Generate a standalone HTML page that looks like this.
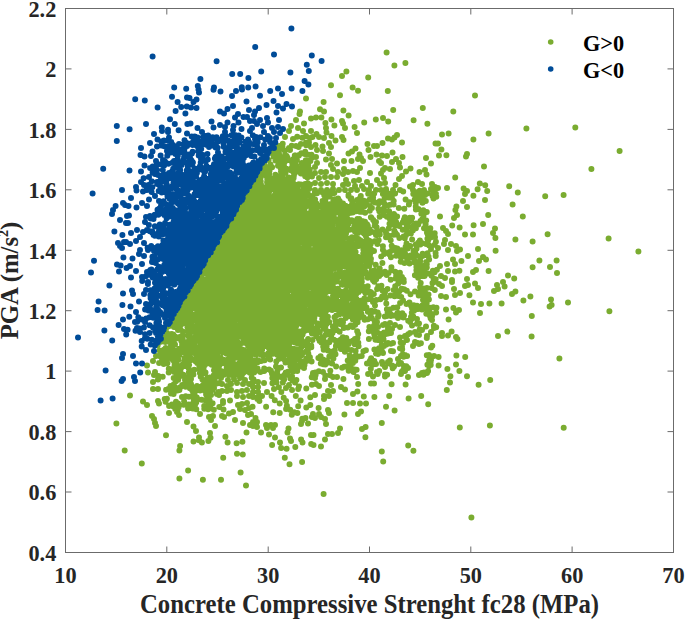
<!DOCTYPE html>
<html><head><meta charset="utf-8"><style>
html,body{margin:0;padding:0;background:#fff;}
svg{display:block;}
text{-webkit-font-smoothing:antialiased;}
text{font-family:"Liberation Serif",serif;font-weight:bold;}
</style></head><body>
<svg width="685" height="620" viewBox="0 0 685 620">
<rect width="685" height="620" fill="#fff"/>
<path d="M259.6 184.3h0M349.9 239.4h0M238.4 370.3h0M224.7 360.1h0M297.3 309.6h0M253.7 287.5h0M310.7 261.5h0M251.1 330.7h0M305.6 330.4h0M248.5 242.1h0M233.5 298.1h0M289.4 334.1h0M244.3 316.0h0M247.5 367.3h0M306.0 252.9h0M173.0 349.9h0M284.5 299.9h0M216.5 288.9h0M208.5 312.7h0M228.2 287.2h0M188.6 330.9h0M174.0 327.1h0M259.8 307.8h0M283.8 248.1h0M238.3 327.5h0M295.4 217.6h0M334.5 263.9h0M244.1 195.4h0M208.5 264.4h0M281.1 230.2h0M274.1 257.6h0M339.2 231.1h0M207.2 297.9h0M265.8 308.3h0M294.1 265.5h0M364.1 260.0h0M301.6 309.1h0M285.0 299.1h0M327.3 285.7h0M181.7 305.5h0M300.6 288.3h0M299.7 207.0h0M281.1 174.6h0M241.4 368.2h0M229.9 345.1h0M256.2 201.1h0M280.8 220.0h0M205.1 301.7h0M299.4 299.2h0M250.5 247.6h0M291.5 181.3h0M338.1 305.6h0M299.9 207.8h0M245.9 276.8h0M301.9 163.1h0M289.5 228.4h0M198.2 302.5h0M352.7 209.2h0M356.6 299.2h0M238.1 299.2h0M273.8 301.8h0M307.4 286.9h0M286.4 334.5h0M212.2 312.0h0M277.5 249.6h0M256.3 245.5h0M244.3 217.8h0M283.9 201.1h0M278.3 238.7h0M251.3 242.7h0M243.1 277.5h0M227.1 311.3h0M245.1 242.8h0M176.5 356.1h0M359.5 284.9h0M228.6 369.6h0M358.6 302.8h0M208.1 360.0h0M299.2 289.2h0M207.6 264.2h0M235.3 352.1h0M338.8 256.5h0M258.8 177.3h0M324.4 254.5h0M279.7 192.1h0M176.0 312.7h0M314.6 254.8h0M298.0 231.7h0M295.2 264.5h0M358.4 239.0h0M315.8 264.2h0M332.4 210.8h0M250.1 278.0h0M227.0 250.9h0M251.3 274.3h0M274.4 291.6h0M252.6 324.9h0M272.5 212.4h0M297.9 258.4h0M218.0 346.9h0M311.5 274.5h0M208.3 324.5h0M283.8 262.8h0M289.0 248.5h0M296.5 262.8h0M295.2 162.4h0M270.9 204.6h0M269.0 326.0h0M246.7 327.2h0M212.1 257.7h0M265.8 201.1h0M300.9 256.1h0M316.4 305.9h0M278.3 335.1h0M229.4 288.8h0M246.7 299.1h0M284.0 307.1h0M258.3 272.2h0M298.1 238.7h0M222.6 302.5h0M277.1 271.8h0M206.8 340.4h0M357.5 265.0h0M260.3 193.7h0M189.9 303.3h0M257.9 338.6h0M171.1 334.9h0M290.5 243.7h0M295.3 270.6h0M277.8 184.7h0M330.7 288.8h0M289.7 349.6h0M275.0 194.9h0M268.1 287.6h0M280.3 189.8h0M301.9 269.3h0M201.6 270.0h0M314.2 272.7h0M226.0 281.7h0M282.3 175.6h0M225.4 228.2h0M307.0 287.8h0M229.0 281.6h0M263.3 303.6h0M270.2 325.7h0M215.0 287.1h0M172.9 319.6h0M201.5 312.5h0M316.9 254.4h0M255.7 239.5h0M240.5 236.0h0M267.4 269.9h0M277.9 285.7h0M297.5 201.2h0M243.2 292.8h0M329.9 285.6h0M231.2 321.7h0M307.0 283.6h0M308.1 339.0h0M232.9 241.0h0M310.2 239.5h0M315.2 214.4h0M219.3 272.4h0M300.1 275.8h0M282.6 261.9h0M222.6 288.3h0M292.4 269.2h0M256.3 298.1h0M188.6 303.5h0M349.4 311.1h0M281.1 219.4h0M189.9 358.7h0M230.3 248.2h0M215.4 243.9h0M275.2 276.7h0M268.4 244.9h0M260.3 302.2h0M289.9 254.4h0M243.8 200.5h0M345.8 290.4h0M267.3 214.1h0M277.3 288.2h0M295.1 256.8h0M280.2 229.1h0M239.4 238.8h0M280.7 255.9h0M227.4 283.5h0M276.2 181.1h0M216.7 268.3h0M276.1 212.8h0M225.5 255.3h0M243.0 335.1h0M234.0 327.4h0M267.5 242.9h0M284.7 189.6h0M184.3 323.0h0M280.4 269.6h0M270.3 257.7h0M190.7 353.3h0M289.1 311.0h0M254.8 215.5h0M269.0 317.7h0M211.2 287.4h0M255.1 231.8h0M254.4 301.2h0M318.4 236.8h0M266.0 280.7h0M211.6 265.1h0M271.6 334.1h0M354.0 293.9h0M248.2 362.9h0M301.2 347.5h0M246.2 243.7h0M322.1 225.5h0M254.7 211.9h0M356.0 225.1h0M235.2 229.3h0M354.3 277.1h0M270.2 259.5h0M252.3 271.4h0M218.4 248.1h0M332.3 299.9h0M243.6 329.9h0M287.6 291.9h0M282.8 215.1h0M242.4 368.7h0M294.5 251.9h0M367.7 286.2h0M190.2 357.2h0M297.3 279.6h0M259.2 233.5h0M327.9 252.0h0M249.2 271.7h0M272.1 317.6h0M288.3 264.1h0M281.3 272.3h0M289.1 337.1h0M249.8 296.0h0M278.9 281.7h0M311.7 269.7h0M292.2 256.3h0M223.5 258.5h0M221.2 332.8h0M250.8 249.7h0M330.3 214.1h0M284.4 248.3h0M222.6 352.6h0M265.3 166.8h0M274.7 283.2h0M251.2 264.1h0M287.7 211.1h0M223.9 264.7h0M287.1 274.6h0M226.8 251.0h0M282.3 196.5h0M281.6 339.7h0M287.2 303.4h0M282.9 253.3h0M295.3 300.7h0M244.0 215.3h0M208.6 304.7h0M254.8 200.7h0M311.3 210.6h0M254.6 258.1h0M300.1 331.6h0M250.2 295.4h0M231.1 332.5h0M239.6 272.3h0M326.7 290.8h0M264.8 276.7h0M254.8 247.1h0M177.7 312.4h0M268.5 286.1h0M188.1 328.0h0M265.2 345.9h0M252.3 301.3h0M310.8 294.5h0M215.5 261.9h0M245.8 262.8h0M291.6 271.2h0M211.9 294.2h0M239.7 273.6h0M172.9 359.9h0M235.4 314.4h0M325.8 243.4h0M230.1 239.6h0M267.2 175.8h0M334.9 256.8h0M360.8 267.7h0M228.8 234.0h0M212.6 331.0h0M288.5 306.0h0M234.4 342.3h0M237.7 327.4h0M275.3 273.2h0M245.0 294.8h0M297.4 300.1h0M256.2 286.4h0M308.7 246.6h0M266.8 282.4h0M244.9 291.0h0M308.1 164.2h0M213.2 281.4h0M305.9 227.9h0M308.9 237.2h0M171.4 334.0h0M361.3 275.4h0M272.7 198.2h0M253.2 224.7h0M313.9 275.8h0M263.5 285.5h0M335.5 281.7h0M186.1 359.4h0M231.1 276.3h0M250.5 256.9h0M279.1 340.6h0M212.6 257.2h0M281.7 317.5h0M220.8 321.2h0M236.9 354.5h0M347.1 245.0h0M271.8 250.7h0M232.5 246.6h0M344.3 279.3h0M309.7 195.6h0M236.7 335.1h0M273.8 224.1h0M197.0 296.4h0M197.7 300.8h0M207.8 313.0h0M281.5 234.7h0M277.4 257.4h0M310.0 326.2h0M313.7 255.9h0M268.9 328.5h0M334.1 235.8h0M250.0 327.4h0M290.1 199.5h0M255.1 331.0h0M367.7 232.4h0M210.3 335.2h0M299.5 295.3h0M354.2 205.4h0M317.5 283.1h0M210.2 315.2h0M269.7 167.6h0M255.7 197.6h0M291.2 288.1h0M204.8 304.9h0M291.9 300.2h0M280.7 327.1h0M337.5 201.4h0M180.5 314.3h0M222.8 273.6h0M267.2 223.0h0M332.1 260.1h0M337.3 242.1h0M260.2 249.6h0M243.8 300.1h0M337.6 241.6h0M358.7 226.7h0M256.7 235.6h0M299.4 273.0h0M290.8 327.3h0M267.8 316.7h0M296.3 282.7h0M169.1 325.9h0M268.3 290.6h0M202.3 278.4h0M245.9 364.8h0M273.2 309.5h0M247.8 350.9h0M354.2 306.3h0M276.9 208.2h0M241.0 349.0h0M199.5 272.2h0M312.4 304.5h0M297.9 238.6h0M313.7 294.1h0M329.8 282.4h0M274.4 272.3h0M290.8 265.1h0M284.6 244.7h0M220.7 292.9h0M317.3 313.2h0M264.7 201.0h0M236.9 225.7h0M300.7 292.5h0M186.5 299.2h0M296.8 260.7h0M280.9 274.2h0M177.3 325.9h0M261.1 307.5h0M246.8 326.9h0M374.7 225.7h0M272.7 280.2h0M279.4 214.7h0M355.4 285.5h0M322.3 270.4h0M178.4 359.7h0M170.3 357.8h0M341.5 219.8h0M194.7 351.8h0M245.5 294.1h0M255.2 198.1h0M243.9 316.0h0M294.3 212.8h0M290.0 208.8h0M228.4 350.9h0M273.5 272.3h0M233.8 301.3h0M289.8 284.8h0M250.7 253.1h0M217.3 334.2h0M282.2 351.7h0M226.8 279.6h0M278.2 210.5h0M371.0 299.1h0M249.9 275.3h0M284.2 308.6h0M348.5 270.1h0M243.1 291.2h0M332.5 193.3h0M269.7 239.8h0M370.0 206.1h0M318.4 277.6h0M315.5 292.3h0M263.6 330.4h0M230.3 312.7h0M204.1 271.5h0M273.4 250.4h0M239.8 309.9h0M232.5 314.6h0M305.5 205.7h0M237.6 312.3h0M364.1 287.1h0M245.3 316.0h0M204.3 309.8h0M284.3 307.7h0M267.1 193.7h0M281.0 171.6h0M253.6 278.6h0M318.2 283.9h0M321.2 231.8h0M234.1 272.8h0M286.4 216.7h0M258.0 338.3h0M193.5 345.4h0M305.2 325.5h0M203.8 270.6h0M226.5 274.8h0M249.1 262.9h0M223.3 313.8h0M213.6 315.1h0M223.2 243.0h0M357.8 270.7h0M247.5 283.2h0M288.7 191.8h0M305.0 185.7h0M328.3 267.8h0M262.1 349.8h0M195.7 292.6h0M222.5 293.9h0M237.2 301.5h0M262.9 355.4h0M248.3 214.5h0M246.0 282.1h0M225.5 324.1h0M201.7 281.2h0M234.0 330.7h0M220.3 284.5h0M310.5 265.8h0M283.7 287.8h0M216.3 334.2h0M201.4 317.0h0M228.1 362.2h0M328.3 273.4h0M265.7 242.5h0M273.1 245.3h0M236.6 278.1h0M271.9 247.0h0M209.9 296.5h0M222.3 301.3h0M359.9 203.7h0M272.3 280.0h0M260.1 282.3h0M221.4 286.5h0M269.8 306.2h0M362.0 275.3h0M292.5 249.4h0M257.4 278.4h0M306.4 266.6h0M194.6 341.4h0M278.3 228.0h0M207.3 262.6h0M185.5 321.0h0M190.7 297.1h0M341.8 259.3h0M237.6 270.6h0M208.8 303.4h0M255.5 271.9h0M233.2 269.5h0M327.0 275.0h0M248.7 271.2h0M304.0 266.2h0M276.1 328.9h0M235.2 301.8h0M307.2 287.1h0M275.1 290.6h0M201.5 317.6h0M305.3 190.9h0M346.1 311.3h0M227.7 342.0h0M289.8 242.3h0M244.9 265.0h0M292.3 238.2h0M289.3 315.3h0M262.4 333.4h0M192.4 341.5h0M266.6 171.3h0M303.1 220.0h0M291.7 329.9h0M292.4 299.4h0M274.9 311.1h0M334.4 221.7h0M260.9 174.9h0M275.3 208.7h0M278.7 244.9h0M282.2 318.8h0M263.4 246.9h0M340.8 213.0h0M241.2 210.1h0M248.0 345.8h0M198.3 304.9h0M202.9 316.2h0M275.6 284.6h0M296.9 242.4h0M371.5 270.9h0M325.3 256.8h0M273.6 234.7h0M263.2 317.0h0M254.1 275.3h0M343.3 276.1h0M217.8 298.9h0M294.3 329.7h0M251.9 247.3h0M274.3 225.0h0M217.8 248.9h0M275.2 335.7h0M276.8 269.4h0M301.0 184.5h0M287.4 232.6h0M273.9 301.5h0M254.2 298.5h0M366.1 264.5h0M298.8 316.2h0M278.4 299.0h0M231.6 256.7h0M240.5 230.5h0M351.9 282.8h0M182.5 303.0h0M319.0 304.6h0M283.5 192.9h0M263.6 231.6h0M228.7 325.1h0M291.1 204.2h0M251.1 202.8h0M280.9 188.8h0M283.0 292.3h0M196.2 289.1h0M359.1 257.9h0M198.5 287.9h0M323.0 231.3h0M283.8 205.6h0M208.9 317.4h0M261.1 171.8h0M193.3 302.0h0M262.9 270.1h0M302.5 285.3h0M244.8 340.6h0M219.5 269.7h0M320.1 205.4h0M263.4 327.5h0M245.9 286.4h0M264.2 221.0h0M313.3 234.8h0M320.5 281.3h0M309.7 202.4h0M332.5 304.6h0M260.8 297.0h0M285.7 205.6h0M357.6 259.3h0M323.9 242.2h0M246.3 209.9h0M247.8 297.5h0M292.7 268.0h0M354.7 231.2h0M241.9 350.6h0M300.0 206.3h0M256.9 289.6h0M202.0 340.4h0M248.4 303.4h0M274.2 296.9h0M250.1 211.2h0M293.8 191.5h0M180.9 320.3h0M271.2 347.9h0M232.0 216.2h0M292.8 181.8h0M270.1 229.8h0M310.7 281.8h0M287.3 314.1h0M285.7 270.7h0M219.5 337.4h0M236.7 247.8h0M220.7 241.4h0M282.0 270.8h0M246.7 267.6h0M189.2 316.0h0M205.2 292.0h0M267.2 216.7h0M262.5 220.3h0M252.8 351.1h0M265.6 271.1h0M234.9 353.2h0M294.1 173.1h0M297.2 353.7h0M261.1 219.6h0M317.3 247.2h0M253.6 320.0h0M236.8 252.1h0M266.9 243.0h0M197.1 362.9h0M180.3 320.3h0M275.9 291.7h0M368.0 232.7h0M253.7 220.8h0M335.0 200.1h0M189.0 340.8h0M365.3 258.3h0M229.9 278.7h0M189.8 300.2h0M298.2 267.6h0M292.8 191.2h0M270.5 286.9h0M258.5 267.3h0M263.3 283.0h0M255.8 213.3h0M244.4 297.7h0M265.8 212.1h0M272.5 234.3h0M215.3 295.3h0M284.5 278.2h0M249.5 219.6h0M290.9 331.8h0M246.9 267.3h0M251.1 332.6h0M271.6 199.8h0M256.6 178.4h0M229.4 325.5h0M235.8 339.4h0M303.5 298.8h0M283.4 298.4h0M312.5 250.2h0M197.8 302.8h0M272.7 323.1h0M234.6 270.0h0M223.7 342.7h0M276.8 222.9h0M370.6 297.6h0M214.2 341.9h0M214.2 249.3h0M309.0 270.1h0M295.3 184.7h0M333.3 301.0h0M272.8 154.1h0M236.5 263.0h0M271.8 253.5h0M180.1 312.6h0M257.9 283.3h0M246.1 326.6h0M230.5 332.8h0M306.8 351.1h0M197.3 322.6h0M239.4 325.3h0M235.5 317.6h0M245.2 274.3h0M199.4 322.7h0M230.6 368.6h0M217.2 264.8h0M269.5 257.9h0M189.9 296.3h0M245.8 323.2h0M259.2 334.4h0M265.6 193.0h0M248.0 250.4h0M285.3 235.0h0M278.1 335.6h0M237.1 207.9h0M274.7 322.9h0M333.7 253.7h0M261.3 354.7h0M241.9 232.2h0M281.5 292.0h0M308.0 318.2h0M326.3 234.8h0M318.6 206.3h0M299.5 215.8h0M224.8 349.4h0M298.5 264.9h0M286.1 329.8h0M228.4 361.0h0M249.4 263.9h0M240.6 290.2h0M272.9 245.2h0M230.8 299.7h0M295.4 228.5h0M239.4 255.4h0M293.3 295.1h0M250.2 372.1h0M261.9 191.5h0M228.2 304.5h0M268.3 186.0h0M271.1 233.1h0M309.3 228.4h0M245.3 314.6h0M209.4 298.9h0M359.9 211.8h0M205.1 309.7h0M224.3 242.2h0M295.0 207.2h0M288.7 213.0h0M315.3 247.3h0M323.0 278.4h0M235.4 305.8h0M233.0 245.6h0M311.8 214.7h0M283.3 338.7h0M265.0 341.2h0M239.3 373.7h0M284.0 261.6h0M309.4 318.0h0M247.1 260.3h0M218.5 289.7h0M234.1 300.7h0M190.5 340.8h0M242.4 291.0h0M223.1 255.9h0M194.5 338.7h0M278.0 277.1h0M257.3 186.0h0M187.4 326.9h0M254.5 312.9h0M281.4 171.3h0M290.5 231.0h0M286.8 205.3h0M214.1 248.9h0M280.7 291.5h0M306.9 233.3h0M237.5 228.1h0M299.9 338.5h0M203.8 347.9h0M317.6 290.9h0M309.1 275.1h0M221.8 281.5h0M261.9 269.5h0M292.1 316.9h0M321.5 277.2h0M259.0 249.5h0M310.6 231.9h0M299.9 199.3h0M233.6 285.5h0M274.8 246.0h0M256.5 268.9h0M293.1 296.9h0M313.7 299.4h0M294.4 336.5h0M249.2 255.3h0M299.8 294.6h0M364.4 298.5h0M254.4 351.9h0M254.2 338.0h0M368.4 256.4h0M279.7 165.5h0M307.1 216.8h0M210.7 265.3h0M297.4 306.9h0M247.1 289.6h0M227.3 276.7h0M207.1 321.3h0M279.1 198.4h0M252.5 236.0h0M231.8 235.5h0M285.9 160.3h0M305.2 322.5h0M257.8 311.6h0M235.3 289.5h0M204.1 290.9h0M249.9 198.2h0M204.4 313.7h0M249.9 301.6h0M241.9 329.3h0M231.4 219.6h0M245.9 330.3h0M248.2 240.5h0M253.9 315.8h0M337.8 263.6h0M254.9 268.2h0M244.9 297.0h0M249.5 249.1h0M274.2 268.7h0M261.5 193.0h0M329.6 259.9h0M322.3 213.7h0M239.1 271.5h0M339.0 301.7h0M268.7 309.5h0M334.7 280.4h0M238.0 229.4h0M246.6 241.9h0M204.3 317.1h0M247.7 279.5h0M266.5 242.8h0M306.7 317.4h0M262.8 257.5h0M287.5 326.0h0M210.0 336.4h0M311.8 255.6h0M299.1 227.8h0M249.1 269.5h0M229.9 290.9h0M238.7 280.0h0M247.4 214.4h0M224.8 298.4h0M312.3 243.6h0M235.3 245.7h0M236.9 225.0h0M273.9 284.1h0M347.0 308.9h0M302.5 265.8h0M311.4 250.0h0M352.3 268.5h0M208.6 337.1h0M279.2 326.1h0M356.5 276.3h0M343.6 232.8h0M250.8 267.7h0M276.1 296.4h0M216.2 273.0h0M217.2 251.2h0M257.9 321.2h0M165.4 340.8h0M300.8 214.2h0M224.2 298.6h0M334.3 210.8h0M261.7 289.6h0M232.8 339.2h0M239.1 295.4h0M303.6 197.5h0M353.8 263.3h0M350.5 240.5h0M194.1 350.1h0M256.0 303.3h0M219.5 258.5h0M304.6 190.3h0M237.0 246.9h0M299.5 261.3h0M195.5 278.0h0M265.3 275.9h0M269.1 186.7h0M196.9 310.3h0M238.3 273.0h0M228.2 273.4h0M333.7 215.5h0M323.5 309.3h0M188.1 306.7h0M301.6 355.2h0M227.4 241.1h0M332.3 215.9h0M288.6 336.9h0M234.4 313.3h0M301.1 307.9h0M234.8 303.6h0M363.3 258.4h0M344.7 250.9h0M230.2 283.6h0M319.1 238.3h0M300.3 312.7h0M368.2 193.8h0M313.7 220.5h0M196.2 335.3h0M270.6 217.7h0M240.2 322.8h0M297.3 199.5h0M203.8 345.9h0M228.0 295.9h0M274.5 294.4h0M303.0 205.4h0M271.2 235.0h0M201.6 315.9h0M366.4 292.4h0M285.6 340.3h0M257.2 286.7h0M308.7 348.2h0M273.6 285.5h0M283.6 272.8h0M282.3 213.7h0M204.1 264.2h0M273.2 252.4h0M362.2 221.0h0M289.9 331.9h0M194.9 326.6h0M295.5 296.1h0M332.8 283.0h0M281.5 204.6h0M188.1 352.7h0M346.1 229.6h0M214.1 330.8h0M299.0 292.8h0M305.6 195.8h0M282.2 327.2h0M269.1 262.8h0M279.6 309.7h0M299.3 310.3h0M304.7 154.1h0M254.7 314.6h0M272.1 340.0h0M216.0 282.4h0M273.1 344.3h0M335.3 309.0h0M230.8 308.5h0M226.1 262.8h0M266.7 325.2h0M224.1 308.4h0M287.3 193.1h0M278.3 238.7h0M281.3 295.0h0M312.5 283.6h0M259.7 214.3h0M267.2 280.0h0M254.6 304.2h0M261.0 223.8h0M228.8 271.5h0M258.1 283.0h0M230.8 284.2h0M349.3 308.1h0M248.6 312.3h0M342.6 284.8h0M275.2 258.9h0M219.8 238.3h0M267.1 297.2h0M331.0 217.0h0M272.9 246.9h0M319.2 295.5h0M286.6 221.0h0M231.3 373.0h0M244.9 269.5h0M234.1 281.3h0M244.8 353.3h0M251.4 186.5h0M216.4 304.1h0M195.1 287.8h0M272.5 221.6h0M228.6 238.8h0M197.1 313.0h0M291.6 255.1h0M280.7 309.0h0M227.1 281.6h0M280.6 272.8h0M268.3 276.7h0M266.3 234.2h0M230.6 312.3h0M284.4 244.0h0M240.6 271.1h0M304.1 262.2h0M272.9 337.2h0M258.5 346.2h0M256.7 300.5h0M256.5 302.9h0M202.2 373.9h0M274.6 288.3h0M253.1 182.9h0M232.6 316.8h0M305.0 198.9h0M238.1 275.7h0M289.7 265.4h0M228.9 258.9h0M229.7 302.7h0M370.9 258.8h0M300.5 300.5h0M286.9 226.4h0M297.0 283.7h0M286.6 156.0h0M344.7 274.1h0M310.4 259.0h0M238.3 237.0h0M363.9 200.7h0M221.6 371.3h0M262.0 265.4h0M239.0 330.1h0M232.4 321.9h0M299.7 247.9h0M301.6 283.1h0M199.4 280.4h0M365.6 272.3h0M231.6 297.6h0M272.2 245.8h0M351.0 212.7h0M296.4 349.2h0M336.1 219.3h0M328.8 279.0h0M270.4 230.0h0M297.0 240.2h0M319.0 277.6h0M251.3 309.6h0M199.3 369.0h0M363.4 249.6h0M282.1 270.1h0M214.3 272.8h0M278.7 248.0h0M332.8 233.4h0M219.1 260.7h0M307.4 177.4h0M245.4 279.3h0M230.4 338.0h0M299.4 318.4h0M292.5 266.9h0M243.8 271.2h0M262.6 280.4h0M196.7 284.0h0M227.5 285.0h0M371.0 292.3h0M254.5 312.7h0M294.4 289.7h0M223.6 320.3h0M182.7 338.9h0M230.3 322.2h0M295.3 231.1h0M262.4 253.0h0M200.2 307.8h0M170.6 324.0h0M323.8 237.2h0M244.6 265.6h0M272.3 257.8h0M224.7 290.8h0M229.4 257.9h0M220.9 304.9h0M230.0 332.6h0M239.1 255.8h0M248.4 233.8h0M218.2 246.6h0M252.1 206.9h0M274.7 245.0h0M243.9 278.4h0M266.6 226.8h0M263.6 279.9h0M213.5 280.5h0M327.6 272.5h0M196.2 355.3h0M349.8 245.7h0M251.3 240.2h0M287.8 201.4h0M232.2 289.8h0M265.1 342.2h0M274.5 264.3h0M245.8 287.7h0M293.4 213.1h0M198.3 278.6h0M207.3 316.9h0M280.8 159.6h0M257.7 287.2h0M247.3 242.3h0M231.9 332.0h0M272.8 272.5h0M271.8 312.5h0M247.7 242.5h0M269.1 297.6h0M283.1 328.8h0M288.6 202.2h0M276.3 274.0h0M297.4 304.8h0M238.0 352.9h0M191.9 289.7h0M241.4 258.1h0M231.0 306.6h0M310.8 305.5h0M240.4 306.3h0M374.5 221.9h0M329.9 194.5h0M275.7 324.4h0M278.0 320.0h0M350.7 274.0h0M266.3 338.6h0M201.5 360.2h0M208.1 264.5h0M271.0 312.3h0M322.1 295.1h0M260.8 188.8h0M278.9 278.4h0M264.4 241.8h0M216.2 255.7h0M279.4 296.6h0M214.9 260.1h0M293.0 255.5h0M228.0 242.6h0M332.1 305.4h0M313.7 213.7h0M211.5 309.9h0M303.2 268.7h0M201.3 330.6h0M254.2 325.8h0M260.5 195.4h0M238.7 270.1h0M344.5 252.2h0M291.9 214.3h0M239.0 220.8h0M216.3 249.6h0M251.3 281.7h0M313.3 235.0h0M228.8 369.2h0M332.7 284.1h0M260.9 184.3h0M207.6 353.3h0M170.3 351.3h0M242.4 266.6h0M274.4 251.6h0M357.3 221.1h0M251.4 259.7h0M273.2 254.9h0M235.9 253.9h0M236.0 240.1h0M296.6 221.6h0M277.7 225.5h0M333.4 264.9h0M314.7 303.2h0M346.7 226.6h0M225.6 301.2h0M249.7 228.3h0M243.9 281.2h0M232.6 336.0h0M299.9 287.0h0M252.3 228.7h0M255.4 214.8h0M361.4 313.8h0M254.7 272.8h0M257.4 199.7h0M273.6 302.7h0M281.8 292.2h0M255.8 320.2h0M333.5 292.6h0M243.0 199.0h0M299.3 308.1h0M239.5 362.8h0M280.6 241.3h0M290.6 281.0h0M316.8 275.8h0M312.1 300.6h0M215.8 276.3h0M286.4 238.1h0M270.4 261.7h0M343.5 301.4h0M353.6 208.5h0M252.9 189.3h0M301.7 226.0h0M334.1 300.1h0M249.6 289.9h0M221.7 254.7h0M253.9 287.1h0M250.9 228.5h0M281.7 278.6h0M287.7 350.9h0M188.8 333.9h0M216.2 249.9h0M289.0 259.2h0M339.2 312.9h0M251.2 354.8h0M281.4 270.0h0M263.1 285.7h0M260.1 212.6h0M247.0 284.8h0M325.2 213.5h0M238.7 256.5h0M342.1 266.1h0M263.1 200.1h0M232.0 276.4h0M250.1 241.0h0M362.7 271.3h0M256.9 255.9h0M359.7 306.4h0M214.0 370.3h0M266.3 319.5h0M221.0 267.5h0M301.5 261.4h0M273.6 222.5h0M370.6 244.2h0M174.3 339.8h0M269.6 239.9h0M338.7 260.2h0M227.2 287.2h0M231.6 225.3h0M262.4 232.5h0M296.8 316.8h0M339.9 269.7h0M265.5 331.1h0M315.2 225.1h0M199.1 277.4h0M297.2 208.7h0M272.9 151.8h0M344.2 259.6h0M241.9 274.8h0M329.7 206.3h0M223.0 267.7h0M310.7 307.5h0M289.9 230.7h0M343.3 252.8h0M328.5 286.4h0M337.5 204.6h0M301.4 352.6h0M299.9 278.4h0M268.2 259.8h0M325.6 214.5h0M246.9 222.9h0M237.6 278.8h0M273.5 332.0h0M261.1 304.3h0M275.0 239.4h0M347.9 293.7h0M263.7 265.6h0M279.8 277.9h0M317.4 304.9h0M210.9 253.6h0M259.0 347.7h0M282.5 183.1h0M218.7 325.6h0M248.2 329.6h0M293.9 212.4h0M245.1 232.5h0M249.3 193.4h0M283.4 314.8h0M205.4 340.7h0M244.2 331.6h0M221.4 259.7h0M304.0 168.0h0M307.5 219.0h0M236.7 276.4h0M329.7 283.1h0M268.8 343.6h0M302.8 322.7h0M305.9 287.0h0M179.3 354.8h0M232.3 288.1h0M191.8 327.5h0M265.5 341.8h0M264.1 226.5h0M279.7 231.7h0M337.8 234.5h0M239.6 213.0h0M284.2 263.9h0M238.7 285.7h0M223.7 276.0h0M310.8 268.6h0M213.0 319.0h0M268.6 236.5h0M214.6 304.1h0M229.6 244.3h0M268.0 194.7h0M267.7 275.7h0M260.9 320.5h0M291.9 248.5h0M307.1 165.5h0M279.3 258.4h0M243.6 205.6h0M289.4 215.4h0M231.6 268.1h0M273.9 289.6h0M274.5 234.0h0M210.0 342.9h0M200.1 286.7h0M194.0 304.6h0M280.4 320.8h0M267.8 256.8h0M263.8 215.7h0M233.1 305.2h0M224.0 374.8h0M311.6 277.8h0M244.1 231.2h0M260.3 328.4h0M213.2 251.7h0M264.5 284.4h0M242.5 206.8h0M203.5 347.8h0M245.6 267.0h0M322.5 200.9h0M229.9 223.0h0M292.1 303.9h0M277.6 317.4h0M250.3 285.3h0M289.3 206.0h0M324.7 251.3h0M200.6 325.7h0M255.9 262.6h0M244.5 242.4h0M295.9 186.3h0M213.9 348.9h0M244.6 310.3h0M284.6 290.2h0M203.6 279.8h0M224.3 287.3h0M275.7 251.2h0M267.0 304.8h0M272.7 205.0h0M280.3 325.2h0M293.9 292.2h0M261.0 253.1h0M208.0 301.4h0M288.7 241.4h0M272.5 264.5h0M312.8 213.1h0M225.3 314.0h0M293.6 275.0h0M293.9 213.1h0M343.6 252.4h0M269.5 170.7h0M272.5 243.8h0M240.3 299.0h0M234.9 300.8h0M229.7 247.4h0M324.0 233.8h0M228.7 238.5h0M235.7 262.3h0M226.5 317.2h0M243.8 283.8h0M284.4 228.7h0M239.3 304.6h0M271.9 218.2h0M284.5 162.5h0M270.9 291.2h0M272.8 328.7h0M306.5 239.4h0M291.5 195.8h0M240.1 286.3h0M280.9 331.4h0M243.3 250.0h0M284.9 294.0h0M254.9 267.5h0M278.0 165.8h0M255.6 353.2h0M285.8 221.1h0M241.1 240.3h0M282.0 190.9h0M277.4 211.7h0M225.6 335.6h0M249.8 372.7h0M293.8 289.0h0M308.7 237.6h0M324.6 258.8h0M283.7 295.3h0M303.4 236.5h0M241.5 361.8h0M249.2 187.3h0M291.6 221.8h0M163.0 361.8h0M289.5 268.7h0M208.1 289.5h0M236.9 296.5h0M262.0 315.7h0M289.8 206.5h0M298.9 333.8h0M227.6 223.7h0M236.7 228.4h0M242.1 360.2h0M195.5 361.2h0M322.0 289.8h0M363.7 222.1h0M249.9 231.0h0M290.3 338.3h0M324.9 284.4h0M241.6 262.0h0M200.6 369.1h0M271.1 338.2h0M285.7 321.8h0M306.5 351.3h0M301.7 285.2h0M286.8 330.0h0M346.8 298.4h0M217.0 355.5h0M272.7 306.5h0M285.3 293.4h0M208.3 335.0h0M253.3 284.0h0M291.9 184.5h0M290.0 150.0h0M261.4 301.4h0M370.2 254.1h0M279.3 178.7h0M234.7 227.6h0M241.9 256.0h0M241.4 206.3h0M207.6 297.6h0M302.1 315.8h0M338.1 212.6h0M346.4 264.0h0M216.7 350.7h0M277.5 271.2h0M312.7 300.4h0M284.8 242.9h0M253.2 335.4h0M243.9 268.0h0M362.0 211.8h0M287.6 324.4h0M256.9 331.2h0M302.2 238.8h0M187.1 293.8h0M253.6 293.8h0M366.5 226.6h0M199.0 282.0h0M219.1 256.4h0M288.2 314.5h0M340.2 261.5h0M269.9 219.2h0M186.6 345.5h0M180.8 329.9h0M288.7 224.2h0M223.7 279.6h0M251.7 291.4h0M301.6 333.6h0M236.9 258.3h0M227.3 324.7h0M229.0 262.4h0M283.6 287.4h0M356.2 273.5h0M190.6 294.6h0M223.0 288.0h0M232.1 326.0h0M209.3 281.1h0M220.1 263.9h0M270.8 298.9h0M223.8 266.3h0M269.0 280.7h0M289.5 283.5h0M266.7 253.7h0M160.1 356.2h0M278.9 191.7h0M244.5 258.2h0M319.8 251.3h0M181.0 311.2h0M227.1 272.2h0M283.7 165.4h0M247.3 284.6h0M339.8 234.0h0M341.6 224.1h0M271.0 296.9h0M289.9 320.3h0M196.2 287.0h0M243.9 270.7h0M306.0 279.4h0M360.7 264.9h0M322.8 310.1h0M273.1 238.6h0M267.9 326.3h0M220.6 238.1h0M263.2 336.3h0M276.5 234.3h0M218.5 247.3h0M242.0 342.9h0M283.0 271.3h0M273.3 326.8h0M271.4 232.5h0M273.4 289.3h0M243.0 256.1h0M279.5 181.3h0M286.5 254.3h0M284.7 252.8h0M255.0 256.4h0M322.0 254.8h0M235.9 269.5h0M231.5 246.8h0M218.4 258.3h0M302.0 280.2h0M297.3 258.3h0M248.7 231.3h0M315.8 267.7h0M301.0 217.1h0M352.4 294.3h0M278.4 317.2h0M245.8 219.4h0M314.0 202.3h0M282.2 160.9h0M167.1 339.1h0M283.0 234.8h0M171.9 321.4h0M268.3 297.7h0M253.0 210.8h0M309.3 272.8h0M291.2 194.4h0M348.3 266.4h0M221.7 291.0h0M255.7 277.3h0M269.8 296.5h0M299.3 242.7h0M240.7 233.8h0M196.9 336.3h0M327.3 246.9h0M235.2 304.2h0M294.6 262.5h0M236.7 286.7h0M346.0 233.6h0M315.6 234.9h0M225.5 267.0h0M223.0 246.0h0M300.9 269.1h0M241.7 317.1h0M274.8 205.9h0M270.2 198.2h0M285.0 327.7h0M204.1 327.7h0M249.0 251.4h0M310.1 329.5h0M229.1 228.2h0M173.9 316.3h0M220.6 332.9h0M313.7 225.7h0M263.5 303.2h0M224.6 264.2h0M253.0 303.7h0M295.8 327.3h0M191.8 340.7h0M264.2 201.2h0M277.7 189.1h0M271.1 241.7h0M307.8 234.1h0M298.8 349.4h0M259.4 339.7h0M319.6 219.8h0M259.4 297.9h0M330.5 273.3h0M264.1 213.4h0M277.3 354.7h0M236.9 306.9h0M353.9 278.1h0M365.0 231.5h0M256.7 179.2h0M243.0 303.9h0M228.8 341.9h0M357.7 244.0h0M273.4 292.9h0M236.1 281.4h0M295.7 289.1h0M232.1 258.5h0M278.9 152.7h0M255.0 247.5h0M247.0 249.2h0M308.5 246.4h0M229.2 375.1h0M280.5 348.1h0M299.4 266.3h0M253.3 240.4h0M278.3 278.5h0M294.3 232.5h0M278.2 299.4h0M283.2 286.4h0M269.2 190.8h0M225.2 266.7h0M212.2 308.7h0M319.4 235.5h0M233.9 346.0h0M270.8 296.3h0M263.7 242.1h0M252.8 247.7h0M259.9 332.3h0M275.1 351.5h0M308.5 300.2h0M203.7 265.3h0M218.7 337.8h0M229.0 275.4h0M304.1 311.1h0M254.8 178.8h0M251.7 322.1h0M263.3 337.5h0M274.8 194.9h0M270.1 311.7h0M225.5 237.1h0M282.2 307.6h0M237.9 296.7h0M204.0 355.6h0M208.7 291.8h0M289.8 357.8h0M311.7 297.5h0M290.2 196.1h0M216.9 259.1h0M279.8 196.4h0M327.6 227.5h0M255.7 294.7h0M276.7 217.4h0M231.7 258.8h0M329.2 204.2h0M230.7 253.9h0M296.8 248.2h0M232.8 284.9h0M218.6 315.1h0M237.9 258.0h0M279.4 331.6h0M223.0 239.7h0M260.3 196.7h0M202.0 367.5h0M271.5 291.4h0M340.8 223.6h0M337.9 288.8h0M207.0 326.2h0M235.8 225.1h0M263.0 241.8h0M254.8 283.5h0M274.8 275.4h0M259.8 213.0h0M190.4 332.8h0M330.2 253.7h0M271.0 339.0h0M312.4 270.2h0M317.2 225.7h0M293.9 191.0h0M271.0 296.5h0M216.3 272.3h0M207.9 307.7h0M330.9 264.0h0M242.2 319.4h0M266.0 255.3h0M259.5 310.8h0M245.5 269.8h0M315.1 290.7h0M204.9 268.5h0M267.8 264.6h0M296.0 168.8h0M228.0 265.0h0M223.9 245.3h0M247.7 210.5h0M350.7 270.8h0M177.2 316.7h0M250.1 203.3h0M259.5 297.7h0M289.1 286.9h0M327.2 298.2h0M242.6 234.9h0M326.9 221.2h0M220.0 261.7h0M278.6 352.0h0M321.5 266.6h0M304.6 284.2h0M252.3 272.3h0M284.9 349.9h0M249.7 284.1h0M273.8 183.7h0M279.0 317.2h0M300.7 282.2h0M268.3 196.8h0M265.5 263.9h0M260.7 323.0h0M226.9 245.7h0M253.1 329.2h0M222.5 270.7h0M204.7 373.2h0M354.3 226.4h0M215.2 317.4h0M258.0 208.7h0M340.4 220.8h0M190.6 310.3h0M264.9 333.0h0M351.7 220.2h0M298.8 184.3h0M232.9 316.1h0M322.3 275.0h0M252.3 303.4h0M249.6 197.4h0M219.2 306.4h0M269.8 324.1h0M216.5 287.6h0M366.5 257.6h0M256.7 210.0h0M332.6 237.9h0M308.9 288.1h0M230.5 227.6h0M319.5 213.0h0M339.1 273.2h0M198.6 328.7h0M319.7 233.7h0M248.1 219.1h0M300.9 257.6h0M230.0 279.1h0M325.1 273.5h0M264.3 299.0h0M197.0 307.2h0M353.2 243.9h0M253.3 264.1h0M272.3 339.1h0M296.1 160.4h0M263.5 333.0h0M243.4 257.6h0M317.1 264.3h0M342.3 215.9h0M280.5 220.0h0M250.2 282.3h0M307.8 183.3h0M255.8 274.6h0M347.6 206.7h0M239.4 261.2h0M252.0 310.9h0M257.7 207.9h0M279.0 275.7h0M271.0 243.6h0M323.4 286.9h0M209.9 293.1h0M258.8 254.0h0M264.6 200.0h0M311.2 265.5h0M266.6 240.2h0M282.8 262.6h0M356.5 257.7h0M238.3 219.5h0M267.2 234.2h0M283.9 247.2h0M234.0 325.6h0M222.7 319.8h0M254.0 297.5h0M325.7 285.4h0M266.6 195.0h0M294.5 233.0h0M266.6 318.9h0M210.4 278.2h0M272.2 206.7h0M197.9 331.6h0M288.0 351.4h0M209.4 355.2h0M253.1 298.4h0M248.0 285.8h0M331.5 307.2h0M171.3 320.8h0M312.5 208.9h0M268.1 353.6h0M263.8 187.2h0M233.1 264.7h0M187.9 309.7h0M245.3 265.6h0M237.8 231.3h0M211.4 253.0h0M271.1 337.1h0M305.2 173.6h0M291.2 186.0h0M354.1 228.7h0M353.0 290.1h0M168.5 340.7h0M251.2 272.9h0M226.8 325.1h0M228.4 256.9h0M229.3 268.3h0M248.0 257.9h0M207.5 272.9h0M283.0 267.8h0M259.8 316.6h0M297.8 216.0h0M374.2 193.5h0M208.6 289.3h0M289.6 301.9h0M210.6 347.6h0M181.9 305.7h0M260.4 240.4h0M318.4 211.8h0M366.5 307.5h0M268.8 289.1h0M234.6 252.7h0M259.8 317.0h0M325.4 258.3h0M263.8 223.1h0M215.3 277.2h0M360.2 266.4h0M279.2 340.3h0M278.8 260.6h0M269.8 271.8h0M342.0 302.1h0M259.0 314.6h0M232.2 296.9h0M257.2 246.5h0M268.1 248.8h0M339.1 293.7h0M207.7 296.0h0M222.2 232.8h0M271.7 268.9h0M280.7 282.4h0M236.4 315.7h0M318.7 309.9h0M199.9 301.6h0M256.9 244.7h0M218.4 304.1h0M200.7 333.1h0M358.7 227.8h0M241.1 257.3h0M264.8 260.9h0M305.7 218.9h0M326.1 245.9h0M341.0 234.6h0M252.3 255.8h0M247.9 278.6h0M357.6 223.6h0M318.4 286.7h0M328.6 276.2h0M307.2 275.6h0M239.7 351.0h0M298.2 226.4h0M284.4 271.4h0M269.5 208.4h0M270.0 177.7h0M266.8 229.2h0M227.2 238.3h0M356.0 273.5h0M357.1 239.5h0M261.3 230.8h0M318.9 296.8h0M303.0 254.2h0M256.2 313.5h0M215.9 342.4h0M235.6 261.6h0M249.4 213.3h0M281.3 276.1h0M262.4 316.5h0M299.3 257.4h0M216.3 302.1h0M230.2 242.4h0M211.4 315.8h0M261.8 213.8h0M315.5 258.7h0M197.0 308.5h0M280.4 339.0h0M353.3 283.4h0M266.7 211.6h0M312.0 176.6h0M181.0 324.7h0M267.2 270.8h0M269.6 298.0h0M245.3 251.6h0M334.0 293.7h0M276.3 286.1h0M232.8 242.8h0M245.6 202.4h0M290.7 229.9h0M317.5 309.4h0M312.3 214.2h0M320.0 250.9h0M255.7 223.6h0M217.5 293.0h0M241.3 212.7h0M311.0 267.3h0M280.1 255.3h0M308.3 204.7h0M267.7 250.6h0M268.7 288.7h0M273.0 348.5h0M256.4 242.6h0M236.5 306.2h0M304.3 209.9h0M239.3 262.2h0M304.4 247.3h0M264.5 267.8h0M262.7 231.6h0M281.7 221.8h0M284.9 188.5h0M195.5 348.6h0M305.4 278.6h0M277.5 281.3h0M246.4 249.3h0M357.9 233.1h0M348.4 274.2h0M191.9 294.9h0M276.2 306.3h0M238.4 279.2h0M303.5 203.9h0M248.3 263.0h0M288.2 301.9h0M340.1 241.7h0M231.9 259.8h0M352.4 275.3h0M238.2 293.3h0M260.5 177.4h0M264.2 190.4h0M237.5 270.1h0M239.5 251.6h0M271.1 253.4h0M243.5 280.7h0M209.6 262.3h0M198.0 277.4h0M201.1 336.1h0M231.8 225.5h0M166.9 327.3h0M280.3 157.6h0M248.0 353.8h0M179.3 348.7h0M233.5 317.0h0M254.6 327.0h0M310.6 311.9h0M166.7 332.7h0M304.0 288.8h0M226.9 237.9h0M269.1 215.5h0M303.7 279.3h0M203.9 329.7h0M248.1 227.2h0M306.7 316.9h0M221.9 241.1h0M176.3 337.5h0M213.2 312.0h0M281.2 260.4h0M341.2 283.0h0M234.6 277.7h0M243.4 251.8h0M246.2 195.2h0M199.3 365.9h0M227.4 226.0h0M268.9 193.1h0M261.3 280.6h0M256.0 197.1h0M196.1 337.9h0M221.0 323.7h0M211.8 353.8h0M277.5 234.2h0M236.4 355.8h0M181.7 315.2h0M226.7 351.7h0M260.8 207.5h0M252.0 280.8h0M250.2 357.5h0M256.7 293.0h0M302.1 252.6h0M238.3 311.1h0M333.6 240.7h0M200.7 271.7h0M227.9 261.3h0M281.2 195.6h0M315.5 248.1h0M240.3 231.0h0M266.0 323.0h0M261.4 223.4h0M232.5 250.6h0M194.7 292.1h0M265.0 261.4h0M353.1 229.0h0M225.8 252.6h0M274.4 275.8h0M310.2 250.7h0M263.8 311.8h0M213.2 322.7h0M196.6 295.1h0M227.8 278.0h0M222.7 243.9h0M213.9 279.4h0M363.2 253.4h0M336.6 264.2h0M272.7 218.2h0M310.2 269.3h0M229.8 234.2h0M341.8 302.9h0M300.6 203.6h0M320.1 271.8h0M274.6 203.6h0M229.1 256.2h0M267.7 332.0h0M276.3 341.9h0M262.3 246.2h0M274.5 182.2h0M293.9 246.7h0M304.5 235.3h0M217.5 346.6h0M282.4 237.4h0M316.3 270.7h0M205.6 344.7h0M261.6 197.6h0M304.2 225.9h0M248.7 293.8h0M225.4 319.7h0M203.8 267.6h0M246.1 206.4h0M251.3 196.3h0M192.2 317.7h0M205.3 280.6h0M264.3 272.4h0M245.5 254.9h0M298.9 271.1h0M280.3 315.2h0M200.9 359.1h0M273.7 338.3h0M246.3 246.8h0M257.4 258.0h0M287.8 253.1h0M283.2 352.7h0M264.4 314.8h0M264.3 261.4h0M249.1 229.7h0M234.3 364.1h0M239.6 298.8h0M299.5 278.9h0M334.0 301.3h0M234.6 246.1h0M338.9 295.3h0M289.9 329.3h0M282.2 238.9h0M238.0 226.1h0M214.7 316.6h0M278.9 247.5h0M286.0 260.0h0M334.0 268.7h0M228.7 297.3h0M233.5 337.5h0M231.3 374.8h0M281.8 280.8h0M258.3 264.9h0M168.9 336.4h0M222.6 297.2h0M269.9 201.1h0M323.0 207.3h0M234.6 233.8h0M280.9 216.7h0M296.9 275.6h0M297.9 257.2h0M218.6 253.7h0M221.0 307.5h0M299.0 193.3h0M216.6 276.5h0M290.2 356.9h0M275.8 191.2h0M245.9 255.3h0M232.8 339.5h0M299.9 207.4h0M323.1 269.0h0M303.7 201.0h0M267.3 261.8h0M324.8 256.4h0M199.3 324.9h0M276.0 288.3h0M365.3 223.9h0M332.7 249.6h0M284.5 332.7h0M245.3 359.4h0M216.7 329.4h0M205.0 331.2h0M264.9 263.5h0M270.3 284.5h0M189.9 289.2h0M314.4 289.4h0M293.1 297.0h0M268.0 245.0h0M243.6 260.0h0M255.4 341.6h0M300.9 208.7h0M233.2 288.3h0M340.0 227.3h0M288.2 283.4h0M272.5 256.4h0M242.6 361.6h0M298.1 311.5h0M263.1 244.0h0M231.8 318.6h0M256.2 189.1h0M245.5 285.3h0M280.3 215.9h0M261.8 190.6h0M248.7 285.0h0M288.7 269.2h0M225.8 231.3h0M329.5 210.0h0M165.3 342.0h0M271.0 337.5h0M288.6 303.4h0M230.4 250.5h0M358.5 271.3h0M248.8 359.4h0M204.8 356.5h0M280.6 336.3h0M264.1 201.5h0M300.3 322.4h0M257.1 216.4h0M266.3 228.1h0M215.6 266.6h0M255.5 270.2h0M311.4 236.3h0M296.1 286.7h0M310.8 201.1h0M303.6 289.6h0M274.5 220.3h0M256.8 217.9h0M244.3 252.4h0M343.3 282.5h0M306.8 278.4h0M236.1 233.9h0M237.5 288.4h0M230.1 362.4h0M276.3 256.4h0M215.2 340.3h0M324.9 277.6h0M280.5 314.9h0M267.1 299.4h0M230.7 370.8h0M284.3 158.7h0M261.6 212.6h0M307.3 225.0h0M290.1 255.2h0M249.0 199.5h0M239.2 335.0h0M255.8 284.8h0M252.3 211.4h0M213.3 296.5h0M245.9 279.8h0M345.0 237.1h0M252.4 210.3h0M246.6 289.9h0M208.7 282.4h0M173.8 325.9h0M322.4 224.6h0M308.1 161.0h0M316.7 273.0h0M226.1 328.9h0M235.3 298.3h0M332.9 262.0h0M265.9 310.9h0M268.4 355.9h0M308.5 303.6h0M252.2 280.9h0M352.2 281.1h0M319.7 301.3h0M276.3 266.0h0M320.4 294.0h0M273.8 257.8h0M236.4 235.3h0M367.1 253.0h0M248.6 304.7h0M332.3 220.3h0M214.9 304.8h0M274.3 238.7h0M280.7 281.8h0M249.4 210.0h0M206.9 261.3h0M247.0 265.9h0M312.1 258.9h0M213.3 262.6h0M220.4 263.6h0M262.8 198.9h0M259.5 231.4h0M221.5 249.3h0M331.1 231.4h0M238.9 221.5h0M276.9 304.8h0M212.5 288.5h0M209.2 358.0h0M239.3 212.3h0M241.2 276.0h0M191.8 330.5h0M218.6 264.5h0M289.9 328.3h0M277.8 233.8h0M215.8 296.2h0M264.4 165.1h0M287.2 293.3h0M359.2 218.9h0M224.6 245.3h0M345.5 205.8h0M273.8 178.8h0M236.2 263.4h0M341.9 282.9h0M291.3 285.0h0M356.0 294.6h0M270.4 318.2h0M274.2 352.1h0M226.0 244.7h0M211.0 293.7h0M288.0 238.1h0M217.2 303.1h0M230.7 263.6h0M283.2 252.7h0M270.2 255.4h0M321.9 260.5h0M236.2 248.3h0M311.0 224.5h0M297.8 343.2h0M268.6 160.1h0M271.5 218.0h0M257.4 285.4h0M201.0 313.8h0M229.6 242.0h0M303.8 317.8h0M280.0 189.6h0M268.8 169.5h0M317.6 282.0h0M291.7 246.7h0M301.9 249.3h0M259.4 239.5h0M347.0 229.4h0M206.1 314.5h0M228.3 241.9h0M186.7 322.9h0M262.3 257.6h0M237.9 293.4h0M285.9 310.6h0M220.3 302.4h0M295.7 213.1h0M353.7 311.1h0M308.4 240.3h0M252.5 230.4h0M234.9 324.6h0M287.6 258.9h0M317.5 306.3h0M247.3 202.0h0M223.4 312.3h0M277.9 224.5h0M276.3 204.9h0M294.3 258.2h0M243.2 232.2h0M288.3 273.2h0M235.6 315.0h0M242.9 242.5h0M266.4 332.1h0M330.0 192.0h0M223.8 295.7h0M238.8 252.3h0M224.2 264.9h0M234.5 247.6h0M292.4 281.9h0M329.2 306.8h0M263.1 199.2h0M208.9 313.6h0M267.8 277.5h0M303.9 302.1h0M249.5 240.3h0M253.3 188.4h0M177.3 351.6h0M187.1 312.0h0M345.5 244.0h0M239.6 241.5h0M361.8 281.8h0M298.6 281.8h0M250.9 335.1h0M311.0 308.6h0M285.3 257.8h0M317.2 238.7h0M364.5 303.9h0M332.3 244.7h0M250.8 307.5h0M262.4 207.7h0M284.8 233.5h0M249.0 191.3h0M290.5 301.3h0M254.3 267.8h0M230.0 221.0h0M238.8 288.7h0M249.1 258.9h0M230.1 288.3h0M304.5 193.4h0M223.7 271.9h0M294.8 155.6h0M220.1 298.3h0M323.9 281.7h0M244.3 358.6h0M329.0 255.5h0M261.6 280.8h0M222.5 257.4h0M256.4 251.7h0M247.7 289.6h0M276.4 321.2h0M237.9 224.5h0M237.7 278.0h0M204.8 327.6h0M301.3 191.3h0M315.2 308.7h0M308.8 255.4h0M298.6 260.3h0M291.3 244.1h0M190.4 307.2h0M273.5 246.3h0M250.3 368.4h0M196.1 300.7h0M348.5 220.9h0M339.8 312.5h0M288.9 281.2h0M248.9 370.3h0M306.5 294.9h0M272.8 201.6h0M357.4 219.1h0M271.9 307.3h0M230.7 307.7h0M264.0 292.6h0M239.0 347.2h0M292.4 163.8h0M260.7 181.3h0M244.2 247.8h0M342.1 245.8h0M236.1 257.9h0M237.6 215.8h0M204.1 291.5h0M259.1 192.5h0M241.9 277.4h0M294.7 250.3h0M199.9 280.6h0M273.1 289.4h0M214.9 326.2h0M240.2 232.3h0M371.4 310.7h0M327.0 271.1h0M239.8 248.1h0M279.0 150.1h0M228.5 252.9h0M303.6 317.8h0M292.9 238.6h0M275.3 220.8h0M260.6 235.2h0M347.9 304.8h0M369.3 266.1h0M369.3 240.8h0M283.2 312.5h0M249.3 241.9h0M244.0 272.2h0M278.3 346.2h0M246.5 193.0h0M186.2 319.6h0M292.3 333.4h0M270.1 322.9h0M332.5 226.1h0M311.4 204.5h0M274.3 243.0h0M265.7 327.0h0M311.0 311.3h0M309.0 227.1h0M269.1 277.4h0M321.0 226.0h0M325.5 227.3h0M286.4 210.2h0M235.2 298.9h0M256.6 320.9h0M329.2 264.8h0M214.9 317.6h0M216.3 252.6h0M334.8 276.2h0M203.2 327.5h0M303.1 219.3h0M226.2 304.8h0M239.3 228.4h0M264.9 299.7h0M234.4 288.4h0M309.7 169.4h0M244.8 286.0h0M302.9 255.5h0M259.0 223.5h0M282.2 219.1h0M286.2 201.6h0M289.7 259.5h0M290.2 222.7h0M304.8 225.1h0M231.2 285.5h0M234.8 276.0h0M309.3 241.7h0M353.3 221.1h0M350.7 309.6h0M255.6 287.2h0M244.0 327.7h0M306.6 342.5h0M314.6 260.3h0M217.8 254.0h0M247.7 339.3h0M198.8 308.8h0M244.7 284.7h0M174.9 322.8h0M248.3 356.6h0M278.4 314.7h0M253.7 274.1h0M190.9 324.5h0M266.9 247.7h0M328.6 279.6h0M226.7 367.0h0M269.0 262.6h0M234.0 293.8h0M253.5 197.3h0M237.1 243.0h0M240.4 224.8h0M222.3 306.4h0M274.2 302.7h0M235.5 212.1h0M372.4 277.2h0M305.2 176.3h0M229.4 311.0h0M252.8 304.2h0M345.3 208.5h0M309.2 236.5h0M298.8 267.9h0M304.1 244.4h0M289.1 341.5h0M276.0 225.6h0M348.5 195.1h0M257.6 271.0h0M273.6 267.4h0M244.3 274.1h0M264.9 246.7h0M198.5 275.9h0M229.7 358.3h0M287.8 250.9h0M233.7 261.0h0M298.9 155.4h0M253.5 222.8h0M238.7 273.0h0M316.6 252.4h0M367.3 240.7h0M345.0 206.3h0M261.4 197.7h0M282.4 215.2h0M201.0 338.2h0M319.8 249.4h0M228.8 278.1h0M207.1 341.2h0M312.0 333.4h0M293.7 287.0h0M225.2 339.4h0M323.4 237.9h0M250.9 270.6h0M236.2 354.3h0M252.8 311.2h0M359.7 223.0h0M266.3 280.6h0M287.4 331.0h0M288.5 213.6h0M365.3 259.7h0M305.2 330.1h0M233.4 289.7h0M224.8 250.9h0M256.0 345.7h0M278.6 274.8h0M295.8 215.2h0M331.4 247.1h0M252.7 221.5h0M285.4 294.8h0M253.1 227.3h0M221.2 274.8h0M288.1 325.5h0M302.6 324.7h0M218.1 298.2h0M302.5 255.9h0M244.6 317.9h0M220.2 235.6h0M268.6 239.9h0M252.2 303.9h0M272.9 203.6h0M374.4 281.7h0M292.5 203.1h0M209.0 276.6h0M308.7 200.9h0M239.7 310.7h0M237.3 302.1h0M327.6 196.7h0M282.7 258.6h0M239.6 264.5h0M280.0 312.2h0M260.3 245.4h0M235.4 254.4h0M355.2 288.8h0M297.5 186.5h0M256.8 182.5h0M274.2 309.9h0M259.8 250.9h0M279.5 322.3h0M248.1 272.3h0M290.8 204.6h0M223.0 302.9h0M235.5 330.5h0M261.6 241.1h0M223.8 293.1h0M327.2 218.2h0M218.0 352.3h0M311.5 325.2h0M223.1 306.4h0M296.6 237.1h0M264.1 258.8h0M173.5 339.6h0M191.5 322.0h0M260.5 315.4h0M264.7 283.7h0M260.2 276.2h0M242.5 281.8h0M216.5 246.3h0M182.2 335.6h0M294.8 262.6h0M332.1 310.0h0M227.5 298.5h0M336.5 246.2h0M313.0 230.6h0M274.4 264.4h0M202.6 366.3h0M225.0 255.0h0M365.6 255.0h0M218.2 275.3h0M268.3 281.3h0M278.2 252.9h0M279.0 274.7h0M301.6 163.3h0M222.9 340.2h0M282.0 293.5h0M308.8 160.5h0M240.7 331.2h0M313.9 256.5h0M336.7 230.2h0M223.8 323.1h0M219.8 238.1h0M358.3 266.9h0M345.8 208.4h0M282.4 168.2h0M289.2 352.2h0M228.1 270.3h0M245.9 369.3h0M232.8 256.8h0M234.1 259.7h0M240.2 278.3h0M245.4 361.5h0M227.6 349.7h0M257.7 339.9h0M276.7 263.8h0M209.3 321.3h0M242.6 353.1h0M205.5 372.4h0M280.8 221.8h0M223.3 296.7h0M217.7 363.4h0M290.6 234.6h0M267.7 275.7h0M309.4 312.0h0M294.2 340.2h0M317.3 292.0h0M261.0 321.1h0M160.9 341.8h0M362.3 230.0h0M250.2 288.9h0M284.6 220.0h0M198.7 360.8h0M278.5 268.4h0M306.9 341.7h0M234.8 328.4h0M228.8 281.6h0M202.1 370.7h0M232.4 359.1h0M357.8 256.7h0M373.1 197.0h0M200.2 293.9h0M338.4 305.6h0M305.1 290.4h0M318.3 270.3h0M286.2 193.2h0M252.1 235.6h0M195.5 360.1h0M298.0 295.1h0M258.9 225.3h0M238.0 221.2h0M199.8 270.3h0M229.5 316.1h0M258.5 240.6h0M314.1 292.8h0M289.1 344.3h0M279.3 247.7h0M287.8 233.7h0M183.1 300.2h0M245.6 249.9h0M325.0 237.0h0M242.3 253.0h0M275.4 174.7h0M219.4 304.7h0M219.9 262.6h0M235.4 317.3h0M301.6 297.7h0M295.6 208.0h0M276.1 159.7h0M250.3 191.7h0M209.2 332.1h0M267.5 290.3h0M194.3 318.4h0M293.0 171.4h0M361.3 271.2h0M302.0 314.5h0M231.9 268.7h0M248.1 190.7h0M290.6 348.4h0M345.3 212.6h0M232.4 255.2h0M231.5 275.6h0M337.5 240.7h0M272.0 308.6h0M280.8 330.1h0M290.7 358.0h0M248.0 360.0h0M335.6 303.1h0M247.4 317.3h0M244.9 205.1h0M284.1 289.8h0M266.9 268.6h0M259.9 273.9h0M283.5 294.7h0M328.7 244.2h0M320.5 249.0h0M316.5 239.8h0M246.2 192.4h0M283.0 174.2h0M253.4 334.6h0M313.9 289.8h0M237.1 274.8h0M248.3 189.8h0M312.8 239.0h0M241.5 226.6h0M236.5 366.1h0M226.8 244.8h0M228.7 251.2h0M200.3 343.9h0M241.2 211.3h0M250.3 268.8h0M246.7 263.8h0M226.1 302.6h0M245.7 303.0h0M317.4 245.5h0M245.3 237.5h0M257.8 205.6h0M308.3 353.4h0M336.2 297.6h0M217.2 276.4h0M274.8 299.0h0M327.5 209.6h0M276.3 348.7h0M276.9 227.5h0M238.4 238.7h0M268.1 252.4h0M247.7 244.8h0M306.0 285.9h0M352.3 201.4h0M351.8 221.0h0M248.1 315.8h0M275.2 250.4h0M242.1 217.0h0M270.0 346.8h0M322.2 297.4h0M162.3 359.9h0M282.4 356.8h0M240.3 239.2h0M225.2 242.5h0M252.0 278.2h0M287.2 232.4h0M326.5 303.7h0M223.4 267.9h0M269.9 299.8h0M307.0 342.4h0M307.8 351.9h0M231.0 226.3h0M257.1 233.7h0M281.0 215.7h0M350.8 309.7h0M355.5 292.7h0M254.9 296.9h0M163.9 353.8h0M224.5 324.3h0M344.6 272.7h0M311.3 347.3h0M280.3 218.9h0M310.0 317.5h0M251.6 293.3h0M301.4 221.6h0M278.1 228.9h0M227.9 272.8h0M187.8 358.1h0M335.3 259.8h0M314.7 303.0h0M253.9 325.7h0M341.8 205.5h0M311.8 174.6h0M265.3 342.8h0M347.5 225.0h0M201.0 276.6h0M250.3 225.2h0M274.6 303.9h0M228.1 259.1h0M282.2 200.8h0M300.9 173.5h0M251.0 344.3h0M334.0 245.4h0M221.3 247.7h0M271.2 264.7h0M283.2 291.6h0M250.9 231.8h0M294.7 173.3h0M237.3 288.7h0M266.7 322.2h0M291.3 222.4h0M223.9 280.0h0M305.5 266.7h0M221.4 330.0h0M316.4 203.5h0M266.6 321.4h0M204.7 265.8h0M286.3 301.1h0M303.1 275.6h0M262.3 309.0h0M284.7 342.2h0M371.5 274.7h0M220.6 301.9h0M268.6 218.5h0M277.2 221.6h0M223.2 287.4h0M248.0 303.3h0M271.9 260.0h0M282.8 299.9h0M318.2 305.2h0M188.6 301.2h0M320.9 234.3h0M229.8 266.6h0M250.4 191.5h0M252.2 246.8h0M280.8 290.3h0M316.1 255.5h0M314.8 268.8h0M277.4 189.5h0M175.0 344.5h0M259.8 259.4h0M321.9 244.3h0M323.5 292.4h0M302.4 270.0h0M265.2 275.3h0M287.7 191.0h0M287.7 334.0h0M261.0 276.2h0M233.3 238.4h0M214.4 255.0h0M248.5 352.3h0M253.2 228.7h0M249.4 236.6h0M307.4 275.3h0M362.5 301.2h0M213.9 262.5h0M281.8 352.7h0M243.2 302.5h0M298.0 285.4h0M327.9 230.6h0M257.7 315.7h0M246.5 280.3h0M218.4 346.8h0M298.6 236.4h0M228.8 253.1h0M365.0 221.7h0M195.3 340.8h0M277.5 322.5h0M274.4 258.3h0M343.8 313.9h0M303.5 202.3h0M275.1 282.3h0M246.6 317.0h0M226.7 334.0h0M210.3 269.6h0M342.5 244.0h0M262.5 310.4h0M219.8 245.5h0M209.4 299.7h0M348.5 196.1h0M245.9 243.9h0M280.1 295.6h0M249.0 300.8h0M303.4 243.1h0M326.1 292.2h0M229.3 365.3h0M256.8 353.0h0M222.0 286.3h0M232.6 255.8h0M222.9 245.5h0M206.6 261.7h0M222.1 280.3h0M306.5 271.5h0M184.7 316.7h0M273.6 212.9h0M304.9 344.9h0M374.5 232.4h0M218.3 285.8h0M250.3 252.2h0M363.5 270.1h0M167.8 337.4h0M367.1 245.8h0M335.7 208.1h0M290.3 178.7h0M235.9 233.2h0M276.1 281.8h0M314.1 280.2h0M237.4 209.1h0M290.4 251.6h0M288.7 221.5h0M268.1 334.3h0M263.2 302.6h0M176.9 312.1h0M206.3 265.8h0M232.9 302.9h0M351.6 240.8h0M307.8 154.6h0M243.4 290.5h0M303.8 222.9h0M240.3 211.9h0M309.5 256.9h0M218.5 261.4h0M251.7 252.2h0M321.6 294.6h0M219.5 244.8h0M369.9 263.2h0M253.7 341.4h0M271.7 305.0h0M335.2 299.5h0M287.6 233.3h0M266.6 295.9h0M250.7 230.6h0M238.1 302.0h0M217.5 298.3h0M218.0 255.9h0M285.3 259.7h0M238.0 354.1h0M260.9 279.7h0M361.8 278.5h0M206.8 326.0h0M313.2 232.3h0M262.8 300.8h0M262.2 254.8h0M249.1 211.9h0M261.4 350.7h0M346.5 283.2h0M248.4 232.5h0M338.3 294.1h0M257.2 288.3h0M257.2 330.0h0M221.0 238.3h0M242.6 271.1h0M360.1 209.3h0M230.7 299.8h0M297.4 295.8h0M287.5 183.5h0M285.8 188.3h0M240.2 259.9h0M310.4 330.6h0M268.9 251.5h0M264.7 341.3h0M228.8 233.9h0M310.4 325.9h0M312.5 272.8h0M247.1 234.5h0M278.1 232.3h0M201.2 341.1h0M309.1 225.8h0M320.5 304.1h0M326.1 252.3h0M295.3 312.6h0M231.5 234.0h0M341.9 284.4h0M317.9 227.5h0M255.7 316.9h0M198.1 273.0h0M330.5 233.3h0M178.0 330.1h0M334.4 305.6h0M361.1 266.3h0M337.1 293.4h0M287.6 262.5h0M223.0 311.8h0M299.6 168.3h0M247.1 332.9h0M285.6 234.0h0M280.5 275.6h0M313.1 232.8h0M260.5 321.3h0M168.7 326.3h0M207.9 305.9h0M324.8 300.8h0M214.0 250.2h0M297.8 316.2h0M279.6 301.9h0M248.9 196.2h0M311.8 252.3h0M244.0 209.5h0M205.0 270.6h0M232.8 269.1h0M246.9 278.3h0M281.4 204.9h0M159.6 350.4h0M292.0 245.1h0M250.5 184.3h0M258.7 229.4h0M272.0 303.1h0M247.3 262.1h0M229.5 263.8h0M264.7 206.9h0M304.1 226.8h0M280.2 281.3h0M258.5 206.8h0M266.9 168.3h0M264.7 247.2h0M337.3 256.0h0M236.7 259.1h0M256.2 235.9h0M241.7 324.4h0M288.4 345.2h0M207.1 289.1h0M205.8 336.3h0M282.0 320.1h0M269.0 254.1h0M335.1 200.4h0M205.6 321.9h0M288.8 296.7h0M270.7 311.2h0M360.3 240.2h0M264.1 236.5h0M243.2 310.8h0M320.3 275.8h0M178.9 315.2h0M200.3 276.2h0M171.0 345.5h0M264.5 196.7h0M333.3 287.5h0M259.8 348.3h0M195.4 298.8h0M312.3 157.6h0M315.9 284.3h0M352.6 265.0h0M308.0 320.4h0M257.2 241.2h0M248.8 257.1h0M235.5 277.6h0M338.7 248.0h0M322.4 251.0h0M277.8 354.7h0M211.8 321.5h0M256.1 329.4h0M302.4 316.3h0M342.9 283.9h0M296.2 165.7h0M373.7 270.8h0M233.7 233.7h0M294.7 329.4h0M241.5 312.9h0M331.1 284.8h0M250.8 317.6h0M184.3 309.9h0M325.2 204.9h0M261.4 237.4h0M211.0 300.6h0M173.8 318.5h0M289.1 274.0h0M252.0 220.0h0M320.6 278.0h0M256.1 244.2h0M194.6 288.4h0M274.3 253.5h0M238.7 288.7h0M331.0 230.7h0M235.3 288.5h0M356.0 236.8h0M272.5 291.5h0M325.0 279.0h0M289.4 215.5h0M342.2 303.4h0M203.6 288.2h0M302.2 253.4h0M222.0 333.8h0M302.1 268.3h0M354.9 278.2h0M226.6 353.7h0M209.6 316.9h0M245.6 235.1h0M298.0 205.4h0M270.1 209.6h0M259.0 352.5h0M248.0 230.2h0M196.3 300.0h0M254.6 350.1h0M286.8 219.9h0M235.5 265.5h0M292.5 355.2h0M284.6 278.1h0M248.7 255.4h0M226.2 282.6h0M266.4 273.6h0M228.3 226.3h0M253.1 318.3h0M217.6 267.5h0M199.9 300.5h0M267.0 306.3h0M259.4 227.1h0M326.4 308.0h0M280.9 245.9h0M248.7 241.9h0M329.6 196.6h0M320.7 281.2h0M343.6 265.7h0M360.2 197.7h0M253.9 328.3h0M188.3 345.4h0M307.7 278.2h0M198.9 349.1h0M290.6 198.8h0M210.9 255.9h0M282.8 306.6h0M288.4 199.7h0M321.5 237.9h0M297.3 168.6h0M296.8 324.9h0M265.2 258.0h0M293.5 256.3h0M281.8 315.0h0M271.9 231.5h0M297.1 308.5h0M270.3 231.0h0M214.7 319.3h0M286.9 246.5h0M303.4 254.1h0M184.3 309.5h0M230.1 344.4h0M252.9 289.7h0M170.7 322.1h0M308.7 274.5h0M295.7 187.1h0M286.5 168.7h0M235.4 228.2h0M260.9 286.1h0M269.0 244.0h0M204.4 308.9h0M247.4 235.7h0M344.1 307.6h0M318.5 235.3h0M287.1 240.2h0M259.8 245.3h0M309.9 357.3h0M283.2 296.2h0M293.1 254.8h0M209.5 280.7h0M235.2 268.4h0M196.1 288.1h0M245.1 302.3h0M329.5 291.1h0M314.3 296.1h0M258.5 233.2h0M276.0 158.2h0M291.3 193.3h0M289.9 267.6h0M362.1 241.5h0M237.1 290.6h0M363.8 307.9h0M248.4 284.1h0M329.9 237.7h0M311.4 262.2h0M343.6 280.9h0M217.3 244.1h0M201.6 335.0h0M212.3 335.4h0M256.1 226.4h0M284.1 314.1h0M323.6 219.5h0M277.8 190.0h0M234.1 330.5h0M319.5 265.4h0M295.6 196.6h0M240.8 283.1h0M251.2 253.9h0M255.2 256.1h0M281.5 256.9h0M250.7 332.5h0M195.7 288.6h0M292.7 166.2h0M301.3 153.2h0M255.5 310.1h0M252.1 274.5h0M339.5 255.3h0M338.0 277.1h0M260.3 273.1h0M333.3 229.3h0M241.3 237.9h0M261.5 333.4h0M225.5 231.1h0M228.7 301.7h0M352.0 299.2h0M218.7 272.9h0M274.5 283.9h0M213.3 300.4h0M161.1 339.4h0M313.6 251.4h0M306.9 227.5h0M174.5 319.4h0M232.0 294.6h0M343.0 241.1h0M212.9 303.5h0M286.5 317.7h0M311.6 287.6h0M251.4 224.2h0M298.6 247.4h0M233.2 219.8h0M298.8 250.9h0M244.4 364.0h0M295.7 222.8h0M313.9 204.3h0M252.7 319.6h0M273.7 213.1h0M270.3 312.0h0M276.7 297.3h0M253.8 284.8h0M343.5 230.7h0M364.9 234.2h0M236.1 269.4h0M262.5 291.8h0M271.5 279.6h0M279.3 195.8h0M277.9 302.8h0M251.6 264.9h0M290.2 233.5h0M232.4 291.9h0M253.4 296.0h0M214.1 310.0h0M297.4 287.7h0M356.8 277.1h0M186.9 312.2h0M211.5 252.4h0M282.2 309.6h0M315.9 243.4h0M290.5 272.0h0M255.5 241.0h0M294.8 283.2h0M270.3 348.5h0M222.9 253.7h0M169.3 353.4h0M191.0 337.8h0M281.7 303.3h0M239.5 210.2h0M283.6 258.3h0M318.9 292.4h0M351.9 286.8h0M222.1 324.4h0M211.7 252.0h0M341.7 308.4h0M248.9 326.4h0M311.1 256.4h0M276.4 269.5h0M348.1 263.8h0M275.1 264.5h0M243.6 297.7h0M239.6 375.5h0M204.8 347.7h0M253.1 285.1h0M352.4 271.5h0M317.3 266.7h0M341.9 217.2h0M259.5 285.9h0M319.7 296.3h0M247.1 327.4h0M206.0 307.7h0M251.8 214.4h0M263.6 204.5h0M267.2 303.0h0M246.1 314.9h0M232.7 286.5h0M327.8 206.5h0M258.9 286.3h0M263.6 266.5h0M370.8 194.3h0M242.8 257.7h0M227.5 223.5h0M249.0 261.4h0M224.6 281.9h0M236.8 256.2h0M231.9 266.1h0M287.7 251.6h0M246.2 269.8h0M214.0 264.6h0M246.9 247.0h0M369.8 210.8h0M214.6 247.9h0M241.1 214.0h0M323.9 261.3h0M272.5 285.7h0M280.3 208.6h0M370.9 217.3h0M237.5 371.5h0M200.0 307.6h0M340.7 230.2h0M229.9 294.8h0M216.6 259.1h0M231.6 313.0h0M264.1 317.8h0M236.2 240.9h0M217.1 308.5h0M195.5 330.9h0M257.6 239.9h0M270.5 164.5h0M239.8 271.3h0M340.7 216.2h0M200.3 306.3h0M283.6 172.9h0M255.3 342.3h0M245.6 198.7h0M212.4 289.7h0M266.5 322.9h0M280.7 307.0h0M219.5 325.8h0M343.5 305.6h0M255.4 317.5h0M268.2 218.7h0M286.1 275.2h0M289.2 213.5h0M308.2 166.1h0M305.9 279.0h0M225.0 231.7h0M267.3 179.5h0M314.9 192.3h0M232.3 307.2h0M270.4 207.7h0M354.9 277.1h0M350.3 269.6h0M345.5 243.8h0M350.7 312.4h0M357.7 269.7h0M246.4 211.9h0M245.3 300.1h0M361.9 230.1h0M285.4 354.7h0M237.9 241.6h0M210.3 272.5h0M279.4 235.7h0M182.9 335.1h0M302.4 315.8h0M271.8 300.7h0M173.4 354.2h0M278.3 230.2h0M223.2 250.1h0M322.8 270.5h0M237.0 294.8h0M348.5 274.4h0M242.5 212.4h0M224.5 259.3h0M320.1 248.0h0M288.7 327.7h0M184.1 342.4h0M244.5 206.4h0M255.1 334.8h0M328.3 241.6h0M249.1 275.6h0M283.2 243.9h0M226.6 259.0h0M288.1 348.6h0M296.1 290.0h0M283.0 308.7h0M199.4 317.8h0M188.4 294.5h0M312.3 285.2h0M284.3 269.4h0M293.5 288.6h0M274.2 230.5h0M336.8 207.4h0M218.4 295.4h0M239.7 276.8h0M184.9 297.9h0M220.0 298.2h0M266.5 339.0h0M220.7 269.7h0M248.4 263.4h0M254.8 205.2h0M322.7 305.9h0M254.7 292.3h0M324.7 249.0h0M282.3 216.0h0M338.4 230.9h0M231.7 351.6h0M223.7 334.1h0M251.2 290.0h0M226.3 332.1h0M243.2 338.2h0M292.9 220.1h0M248.3 278.3h0M290.7 186.2h0M265.6 191.8h0M251.5 339.5h0M300.1 234.8h0M248.3 309.8h0M256.0 197.9h0M281.3 259.6h0M265.5 258.9h0M318.0 289.7h0M295.9 304.3h0M288.7 325.2h0M307.9 276.6h0M205.0 286.7h0M268.0 261.1h0M297.8 338.9h0M263.0 290.8h0M220.5 264.2h0M347.4 312.5h0M346.1 209.2h0M255.3 269.4h0M184.6 358.1h0M246.9 285.7h0M230.5 303.0h0M321.5 219.0h0M280.8 302.1h0M239.5 272.9h0M300.2 198.3h0M231.3 295.7h0M346.3 212.2h0M287.0 224.8h0M292.5 302.3h0M268.5 237.8h0M271.4 340.0h0M285.3 258.7h0M311.3 330.9h0M231.1 266.2h0M227.8 307.4h0M294.4 277.2h0M326.6 205.1h0M265.9 236.2h0M249.1 225.8h0M165.7 348.1h0M264.2 333.9h0M247.1 219.3h0M315.0 223.1h0M258.3 246.2h0M207.2 299.6h0M241.3 226.3h0M253.7 339.9h0M243.2 257.2h0M343.2 261.4h0M222.5 283.9h0M262.6 243.1h0M334.3 193.1h0M203.5 368.3h0M316.6 251.0h0M263.8 299.6h0M193.3 283.6h0M295.5 249.4h0M231.4 294.5h0M318.1 216.4h0M238.0 282.5h0M293.6 244.9h0M258.3 288.3h0M251.2 354.3h0M260.2 270.3h0M244.8 248.3h0M267.4 274.4h0M311.6 330.3h0M234.2 224.5h0M197.3 322.4h0M280.0 341.0h0M180.3 336.7h0M249.9 244.9h0M247.4 229.2h0M302.3 279.4h0M290.5 201.9h0M231.0 249.1h0M357.8 274.8h0M269.2 302.0h0M242.0 334.9h0M284.2 251.6h0M307.5 235.3h0M278.7 300.3h0M246.3 343.2h0M275.5 250.9h0M245.0 305.2h0M280.5 186.0h0M277.4 267.9h0M276.4 339.9h0M281.4 252.5h0M319.4 232.5h0M256.6 281.9h0M240.3 208.7h0M359.0 260.5h0M316.3 260.7h0M301.1 211.8h0M283.3 206.0h0M281.8 272.7h0M243.3 365.3h0M199.9 342.0h0M351.9 252.3h0M308.8 347.1h0M279.0 162.3h0M290.0 266.3h0M253.4 199.4h0M310.2 277.5h0M250.9 206.5h0M305.7 281.4h0M311.3 286.0h0M324.6 280.9h0M247.5 276.2h0M335.2 300.6h0M186.1 306.9h0M310.0 253.1h0M312.0 254.9h0M322.7 292.8h0M282.0 236.6h0M204.2 266.2h0M289.6 356.2h0M255.8 303.7h0M326.6 263.7h0M225.9 336.0h0M197.2 316.2h0M299.2 331.8h0M243.0 282.3h0M237.3 242.8h0M244.8 212.7h0M198.8 332.6h0M249.9 285.9h0M283.6 246.2h0M213.6 294.7h0M295.0 186.8h0M350.0 269.7h0M227.4 258.3h0M255.6 207.8h0M209.5 313.1h0M309.4 315.3h0M248.0 234.6h0M273.3 203.2h0M320.0 241.3h0M274.4 272.5h0M195.5 320.0h0M254.2 194.2h0M223.4 297.7h0M352.7 212.6h0M219.1 252.7h0M324.1 194.7h0M252.2 273.6h0M207.6 337.5h0M269.7 243.6h0M312.9 281.2h0M292.5 258.5h0M360.4 244.2h0M278.1 208.4h0M234.7 238.9h0M261.4 322.2h0M332.7 291.4h0M369.4 199.8h0M216.5 296.7h0M283.2 269.3h0M332.5 291.2h0M242.3 211.6h0M249.4 223.2h0M222.7 253.3h0M260.3 248.2h0M196.5 326.0h0M358.7 292.1h0M262.2 191.4h0M282.3 285.5h0M233.4 315.9h0M279.6 316.1h0M246.5 329.0h0M278.7 240.7h0M221.2 329.6h0M353.7 258.8h0M273.6 210.2h0M244.7 310.5h0M189.9 297.7h0M332.7 234.2h0M216.0 251.6h0M316.6 284.8h0M202.7 354.6h0M264.0 342.0h0M296.2 236.4h0M259.5 304.7h0M273.4 292.0h0M282.9 255.1h0M330.8 272.7h0M291.6 299.0h0M282.6 289.3h0M223.1 320.3h0M285.4 274.8h0M321.5 255.2h0M269.2 173.4h0M246.1 287.9h0M312.6 210.0h0M249.0 278.9h0M277.4 245.7h0M252.3 308.5h0M363.9 256.4h0M249.9 224.4h0M191.0 285.9h0M266.7 234.7h0M257.6 288.7h0M217.2 302.2h0M219.2 330.6h0M215.7 306.1h0M188.9 345.8h0M325.1 264.2h0M299.6 225.4h0M371.4 217.7h0M182.4 309.7h0M285.6 193.3h0M317.5 214.1h0M332.8 299.9h0M298.2 195.0h0M224.3 279.9h0M253.1 293.4h0M229.6 353.7h0M274.4 281.1h0M232.4 328.4h0M270.0 332.7h0M284.6 218.1h0M232.6 274.6h0M287.0 282.8h0M191.0 304.7h0M297.3 278.2h0M268.1 276.3h0M296.5 343.0h0M248.8 324.5h0M311.3 299.1h0M303.0 298.1h0M262.3 173.4h0M249.9 296.9h0M364.8 291.7h0M254.6 294.6h0M363.8 248.8h0M280.1 239.8h0M260.1 277.1h0M200.7 352.4h0M308.8 254.7h0M287.9 269.0h0M265.5 224.1h0M291.6 324.7h0M271.6 184.7h0M191.7 345.4h0M308.9 214.3h0M275.1 330.6h0M325.0 248.3h0M303.9 281.5h0M269.7 232.5h0M221.8 236.8h0M305.7 263.8h0M271.6 242.3h0M332.6 247.0h0M276.1 199.3h0M246.1 313.3h0M306.8 227.8h0M298.8 306.5h0M233.0 332.4h0M235.4 252.1h0M254.1 220.3h0M327.9 240.7h0M235.0 319.9h0M324.8 223.3h0M273.3 352.7h0M233.1 290.4h0M246.0 215.1h0M259.1 255.1h0M350.0 281.3h0M287.4 157.4h0M252.4 279.7h0M268.1 169.4h0M267.7 201.9h0M212.1 311.3h0M230.5 292.0h0M305.6 170.1h0M243.8 354.1h0M285.5 172.8h0M269.3 309.0h0M217.9 248.1h0M331.1 212.4h0M330.5 214.4h0M246.5 225.6h0M370.1 259.6h0M275.0 282.7h0M198.4 299.1h0M364.2 205.7h0M276.9 247.2h0M270.8 224.4h0M372.5 250.8h0M238.5 345.7h0M222.0 259.9h0M299.1 248.4h0M255.2 265.4h0M344.5 266.4h0M319.1 310.7h0M343.8 236.6h0M253.7 245.6h0M199.5 280.7h0M314.3 233.4h0M225.0 254.7h0M206.9 314.6h0M244.0 203.6h0M274.3 307.9h0M236.3 343.0h0M336.0 258.7h0M348.6 238.7h0M263.6 172.1h0M298.0 285.3h0M259.2 187.0h0M228.7 273.8h0M282.5 335.9h0M328.7 281.5h0M180.4 315.0h0M223.9 271.7h0M234.9 302.0h0M348.2 285.4h0M297.7 196.2h0M213.5 284.7h0M227.4 273.6h0M270.7 262.9h0M283.3 194.2h0M222.5 343.9h0M232.0 305.9h0M315.7 274.5h0M349.0 277.1h0M357.3 281.0h0M262.3 167.9h0M271.9 271.8h0M274.6 280.7h0M302.6 334.4h0M296.9 159.9h0M209.9 262.3h0M230.5 318.6h0M306.1 286.0h0M208.2 319.9h0M200.7 328.5h0M246.2 219.3h0M229.8 343.3h0M325.9 251.4h0M165.2 337.6h0M202.8 266.0h0M315.7 244.4h0M307.8 319.7h0M337.0 278.8h0M304.8 199.5h0M231.0 224.5h0M271.7 265.0h0M282.7 216.6h0M195.5 300.5h0M217.2 262.3h0M214.9 294.2h0M217.0 330.9h0M342.9 238.4h0M271.5 303.2h0M287.9 230.7h0M207.7 296.2h0M248.5 297.3h0M273.7 259.9h0M270.2 239.4h0M249.0 224.9h0M252.2 318.0h0M293.1 318.7h0M270.8 212.0h0M256.7 227.5h0M285.9 303.7h0M308.9 309.9h0M341.8 222.2h0M235.2 347.0h0M262.1 311.0h0M224.5 278.8h0M333.3 201.2h0M266.3 257.4h0M216.7 290.3h0M208.7 259.4h0M321.0 265.8h0M357.2 200.0h0M357.8 285.2h0M218.2 307.0h0M195.4 337.8h0M242.8 236.8h0M262.7 193.3h0M260.4 181.9h0M253.6 295.7h0M232.5 247.3h0M322.3 192.3h0M244.8 226.1h0M230.7 266.8h0M277.5 252.8h0M326.8 192.2h0M276.2 256.6h0M266.0 229.5h0M298.3 289.3h0M247.4 321.6h0M288.2 249.8h0M302.7 227.1h0M206.9 272.0h0M282.3 165.3h0M279.6 241.5h0M287.1 286.5h0M259.2 186.6h0M262.1 266.1h0M199.8 306.5h0M329.3 248.3h0M208.9 273.5h0M303.6 232.7h0M213.7 265.5h0M250.3 277.5h0M240.6 360.1h0M243.6 319.2h0M241.1 230.8h0M265.4 339.2h0M236.3 242.1h0M285.1 277.4h0M259.8 278.2h0M206.3 287.5h0M255.0 206.6h0M284.7 150.6h0M252.6 219.3h0M251.6 301.0h0M240.3 374.0h0M268.6 220.9h0M235.5 256.8h0M317.8 271.7h0M297.6 339.1h0M217.3 375.4h0M305.1 184.0h0M224.4 313.4h0M159.9 338.0h0M219.4 365.6h0M373.3 275.8h0M302.8 163.4h0M317.4 272.1h0M268.0 324.7h0M233.7 290.2h0M228.7 251.6h0M246.3 258.3h0M360.9 300.7h0M331.4 277.1h0M237.5 265.2h0M320.9 275.8h0M252.7 239.3h0M273.8 233.6h0M225.7 236.7h0M246.4 252.3h0M331.3 260.7h0M199.8 273.5h0M249.4 340.6h0M245.7 232.5h0M337.7 231.3h0M241.3 262.5h0M296.7 208.4h0M233.8 340.9h0M228.1 231.3h0M241.2 320.7h0M365.9 235.9h0M243.1 292.1h0M369.1 260.8h0M219.6 272.1h0M242.3 257.5h0M271.7 279.5h0M213.3 259.1h0M276.7 193.5h0M331.0 270.2h0M272.1 167.2h0M224.7 275.1h0M217.3 288.1h0M299.3 259.0h0M215.3 329.8h0M297.0 283.8h0M240.2 223.0h0M339.6 306.1h0M258.0 248.7h0M234.5 290.4h0M363.6 260.0h0M272.8 237.9h0M293.9 209.4h0M255.5 273.2h0M214.8 324.3h0M279.4 324.4h0M304.3 184.5h0M361.1 228.2h0M216.5 320.0h0M234.0 264.8h0M294.5 322.1h0M258.5 317.4h0M196.3 280.5h0M270.0 329.6h0M357.9 283.9h0M293.4 208.3h0M234.9 271.3h0M210.2 303.7h0M195.2 280.2h0M235.5 331.2h0M337.5 199.1h0M246.1 222.8h0M306.6 240.4h0M300.4 355.3h0M365.4 292.9h0M213.6 312.8h0M218.6 269.2h0M185.3 296.5h0M252.2 261.2h0M228.6 368.2h0M204.2 329.5h0M252.1 226.8h0M305.9 304.5h0M257.4 281.4h0M276.3 190.1h0M301.6 344.6h0M233.4 250.6h0M278.3 343.3h0M231.8 328.3h0M237.9 287.2h0M321.6 244.3h0M225.8 288.1h0M265.7 309.6h0M241.3 256.2h0M221.3 315.9h0M318.1 291.5h0M226.3 316.2h0M287.6 253.5h0M274.1 319.9h0M165.1 330.5h0M274.7 242.4h0M272.2 206.5h0M222.7 278.1h0M222.7 346.3h0M234.8 370.8h0M216.6 298.2h0M252.3 295.5h0M252.5 267.7h0M202.3 273.5h0M364.0 233.5h0M348.2 279.8h0M229.9 266.3h0M373.0 280.2h0M314.9 240.6h0M206.3 290.4h0M246.7 249.2h0M305.1 242.0h0M217.6 270.2h0M233.9 288.7h0M256.2 354.8h0M225.1 281.8h0M310.0 224.0h0M255.0 296.2h0M263.8 318.7h0M274.8 264.9h0M188.8 296.4h0M291.7 270.6h0M305.1 187.0h0M362.9 289.9h0M291.5 311.0h0M217.1 283.3h0M284.0 320.9h0M324.1 277.8h0M232.4 329.9h0M196.1 314.0h0M306.2 203.9h0M227.2 308.3h0M220.7 243.0h0M311.0 270.9h0M211.7 281.6h0M269.4 349.1h0M262.1 206.6h0M307.0 161.1h0M213.9 269.5h0M303.9 329.6h0M271.2 243.4h0M319.5 235.6h0M203.2 300.3h0M223.2 320.3h0M318.8 241.3h0M288.0 225.5h0M269.9 295.8h0M227.4 261.7h0M265.2 265.8h0M302.4 321.5h0M295.1 301.2h0M265.1 212.8h0M269.1 326.1h0M263.8 247.9h0M275.4 261.0h0M251.8 211.0h0M267.6 247.1h0M271.0 216.5h0M287.6 268.0h0M200.3 270.7h0M266.7 202.8h0M233.7 328.7h0M242.2 328.8h0M263.3 354.7h0M250.4 248.8h0M218.2 245.7h0M235.6 224.7h0M350.3 259.8h0M224.8 273.1h0M299.6 262.6h0M280.7 233.5h0M296.2 229.5h0M261.8 193.2h0M324.6 228.9h0M292.0 307.2h0M281.0 264.0h0M228.8 240.3h0M358.7 246.0h0M339.5 269.2h0M298.4 203.0h0M374.8 311.4h0M355.4 211.2h0M268.5 341.3h0M265.7 269.0h0M293.6 177.9h0M304.2 238.7h0M308.6 313.6h0M216.1 296.2h0M266.1 314.1h0M235.7 330.0h0M328.0 264.4h0M226.7 319.5h0M211.9 274.2h0M298.0 333.9h0M216.6 296.3h0M171.5 322.5h0M317.0 213.1h0M233.7 243.0h0M290.0 221.9h0M321.3 280.3h0M253.6 206.0h0M256.7 247.5h0M311.2 220.9h0M210.4 262.3h0M307.5 296.4h0M312.3 309.2h0M245.8 228.6h0M245.4 304.5h0M266.0 307.3h0M175.8 350.7h0M273.2 293.8h0M201.7 319.8h0M230.9 246.3h0M239.3 283.1h0M276.4 307.1h0M226.4 288.0h0M253.9 271.3h0M345.6 284.4h0M275.3 258.2h0M243.3 281.8h0M204.3 296.3h0M267.9 258.2h0M293.7 249.6h0M272.2 151.3h0M333.1 234.3h0M271.0 319.2h0M356.1 244.4h0M266.9 304.5h0M236.9 237.9h0M307.0 216.7h0M199.2 316.3h0M270.5 340.5h0M234.8 316.9h0M268.8 262.9h0M305.2 169.0h0M259.1 307.6h0M247.4 294.8h0M324.0 299.0h0M215.2 258.9h0M249.1 315.5h0M264.4 245.8h0M300.6 279.5h0M266.4 214.6h0M269.0 230.0h0M328.4 215.8h0M218.8 303.9h0M168.8 341.6h0M284.2 295.5h0M300.7 309.4h0M282.4 285.2h0M316.1 285.7h0M358.5 261.0h0M314.3 267.9h0M276.6 346.2h0M261.0 344.4h0M238.9 336.7h0M233.7 327.9h0M339.1 208.8h0M200.9 279.8h0M278.6 338.8h0M221.1 269.5h0M290.9 278.8h0M264.9 249.3h0M195.9 335.4h0M292.9 333.6h0M254.8 299.7h0M268.9 282.2h0M285.4 207.2h0M251.6 270.3h0M292.6 301.1h0M287.7 336.6h0M305.2 151.7h0M308.1 225.5h0M297.2 272.7h0M244.7 297.0h0M312.6 314.3h0M323.2 220.0h0M279.0 326.7h0M210.0 350.3h0M246.5 195.3h0M334.0 276.2h0M350.6 221.6h0M269.0 253.5h0M193.4 374.4h0M293.4 303.4h0M314.5 204.0h0M195.7 303.9h0M217.0 348.2h0M306.3 323.9h0M290.4 224.0h0M185.7 353.0h0M213.9 329.0h0M234.0 264.4h0M264.5 168.8h0M301.4 207.8h0M188.3 341.5h0M213.0 313.9h0M307.5 192.8h0M213.7 279.0h0M250.7 213.4h0M259.5 226.6h0M235.6 305.7h0M312.7 252.7h0M262.0 226.0h0M264.3 343.3h0M243.0 301.8h0M273.9 316.2h0M250.7 300.6h0M333.9 203.5h0M253.0 249.7h0M310.9 293.8h0M249.2 256.7h0M258.6 282.4h0M232.5 360.6h0M263.4 332.1h0M200.6 301.8h0M352.0 277.7h0M200.6 335.7h0M307.5 263.8h0M306.6 204.5h0M289.4 206.2h0M337.4 250.1h0M288.1 265.2h0M316.4 254.1h0M217.0 314.4h0M308.9 239.7h0M267.1 182.3h0M279.7 297.9h0M225.8 259.5h0M222.3 243.1h0M294.6 265.9h0M220.1 345.3h0M163.5 351.0h0M204.9 350.0h0M232.9 358.5h0M232.0 310.7h0M311.5 154.8h0M291.4 319.8h0M318.1 258.3h0M206.8 273.8h0M221.3 344.7h0M340.0 231.3h0M283.1 191.0h0M239.0 247.0h0M191.8 353.0h0M304.6 208.2h0M284.5 346.5h0M302.2 194.5h0M250.8 288.0h0M356.7 290.6h0M283.7 298.7h0M352.6 303.9h0M231.3 329.3h0M307.3 206.1h0M310.1 257.5h0M235.7 327.6h0M279.7 297.3h0M237.8 302.0h0M223.5 273.9h0M331.2 285.8h0M239.0 325.9h0M264.4 211.7h0M223.8 282.1h0M225.5 308.9h0M215.4 281.2h0M304.7 222.2h0M256.9 257.4h0M327.2 207.4h0M233.7 367.1h0M217.3 274.0h0M353.7 278.1h0M255.3 247.0h0M188.0 313.1h0M367.8 291.0h0M260.8 198.1h0M242.7 258.2h0M241.2 308.4h0M247.3 214.7h0M220.8 358.0h0M213.9 268.6h0M330.7 264.3h0M244.6 268.2h0M307.4 224.6h0M221.8 271.5h0M288.7 177.4h0M211.4 267.0h0M342.6 296.5h0M274.5 319.4h0M289.5 203.0h0M289.9 280.6h0M226.9 255.5h0M265.5 287.9h0M245.6 321.1h0M228.2 348.1h0M317.4 260.8h0M290.0 340.0h0M210.2 253.2h0M306.6 259.9h0M232.4 216.2h0M318.3 292.8h0M240.8 353.2h0M248.0 287.6h0M319.5 252.9h0M245.6 208.5h0M306.0 265.8h0M283.7 260.8h0M298.2 251.9h0M235.8 287.0h0M233.8 259.7h0M212.7 303.3h0M232.6 306.5h0M366.1 255.3h0M256.4 255.3h0M307.8 293.4h0M295.3 155.5h0M272.1 338.7h0M196.1 352.8h0M316.1 257.4h0M236.9 220.1h0M211.2 259.5h0M358.2 204.7h0M231.9 350.2h0M251.0 270.7h0M334.4 297.9h0M255.9 281.6h0M206.5 263.1h0M299.0 234.0h0M312.7 287.1h0M252.2 314.2h0M272.3 342.1h0M244.8 294.1h0M293.7 348.7h0M244.2 266.7h0M273.5 219.5h0M225.6 289.9h0M308.8 246.1h0M249.0 318.5h0M307.2 252.6h0M206.0 287.5h0M176.8 323.4h0M343.6 236.0h0M368.4 241.5h0M349.3 276.1h0M282.8 255.4h0M242.8 355.9h0M299.7 252.7h0M245.9 206.2h0M197.7 329.6h0M253.5 232.4h0M233.5 308.8h0M264.1 302.6h0M272.0 287.0h0M229.0 323.1h0M341.4 220.8h0M268.1 236.1h0M309.8 280.1h0M272.2 302.1h0M280.9 258.8h0M184.4 318.2h0M251.0 269.4h0M262.5 315.0h0M217.5 262.2h0M250.1 270.8h0M279.7 249.9h0M252.5 261.3h0M300.9 222.3h0M217.5 257.0h0M348.5 249.6h0M227.5 354.0h0M286.2 234.9h0M239.8 213.8h0M206.6 302.0h0M349.1 275.8h0M308.0 171.3h0M246.7 256.9h0M245.3 202.5h0M327.6 206.6h0M257.2 237.8h0M266.0 237.3h0M239.9 219.4h0M242.0 245.2h0M353.8 265.6h0M225.7 277.0h0M338.4 294.5h0M365.9 203.3h0M205.4 282.1h0M287.2 286.2h0M221.7 244.8h0M285.6 297.2h0M169.3 325.0h0M244.0 204.7h0M270.7 325.2h0M330.7 231.9h0M282.0 185.3h0M239.6 215.5h0M256.8 215.5h0M236.5 290.6h0M343.8 250.1h0M254.9 195.9h0M168.5 336.0h0M341.8 302.7h0M315.1 224.6h0M295.4 302.2h0M334.0 275.4h0M264.2 315.8h0M310.1 278.4h0M289.6 209.9h0M186.7 353.3h0M239.2 328.1h0M270.5 292.7h0M339.6 309.8h0M259.1 213.0h0M200.7 312.6h0M288.5 183.9h0M290.4 265.4h0M261.6 267.2h0M226.5 344.6h0M293.7 302.9h0M317.9 283.9h0M282.9 267.2h0M327.5 274.8h0M272.2 283.6h0M310.2 238.3h0M324.1 297.8h0M296.0 235.9h0M327.5 256.3h0M287.0 295.9h0M331.8 247.3h0M238.1 308.1h0M243.7 360.8h0M245.2 329.1h0M240.0 355.0h0M232.4 358.2h0M342.6 216.9h0M260.3 225.8h0M217.1 257.4h0M359.5 265.5h0M261.7 245.0h0M360.0 220.3h0M222.3 262.8h0M370.8 274.3h0M208.6 295.4h0M229.8 276.4h0M271.3 291.3h0M249.9 234.3h0M371.2 249.5h0M236.6 314.7h0M289.9 232.5h0M261.9 278.5h0M275.7 252.1h0M208.9 275.7h0M256.6 229.1h0M367.0 224.3h0M319.2 234.5h0M214.6 293.4h0M218.9 281.7h0M291.3 258.8h0M269.2 333.7h0M228.9 233.0h0M269.6 259.4h0M212.3 255.7h0M285.6 199.4h0M262.1 197.4h0M272.2 231.7h0M241.0 215.7h0M174.2 358.8h0M253.6 206.4h0M233.3 231.5h0M255.7 181.6h0M186.6 342.3h0M248.2 343.5h0M255.7 229.2h0M208.2 294.6h0M296.8 312.4h0M303.2 189.2h0M215.8 251.6h0M254.5 306.1h0M349.6 255.9h0M191.6 303.6h0M268.4 260.8h0M289.6 186.1h0M249.1 271.3h0M257.7 324.0h0M338.0 247.9h0M286.4 227.3h0M225.9 255.3h0M249.8 250.1h0M292.6 259.2h0M215.1 325.5h0M256.2 185.7h0M278.8 267.8h0M207.8 300.3h0M278.3 205.5h0M262.2 204.4h0M253.2 192.7h0M291.3 317.0h0M219.4 247.5h0M276.5 200.5h0M244.2 266.5h0M373.0 301.9h0M315.8 263.0h0M301.6 318.4h0M218.7 277.6h0M345.7 223.7h0M277.6 161.3h0M226.9 279.2h0M283.9 254.9h0M234.5 217.9h0M250.5 234.3h0M317.5 233.0h0M285.5 299.8h0M210.0 299.7h0M282.6 261.2h0M199.9 309.6h0M270.8 255.2h0M253.9 254.8h0M260.5 234.7h0M260.9 297.6h0M261.3 298.9h0M286.4 258.0h0M233.0 298.1h0M208.4 308.2h0M228.6 298.0h0M352.1 289.5h0M224.7 322.7h0M301.4 294.4h0M233.2 294.8h0M219.0 273.9h0M367.8 225.8h0M196.2 295.6h0M232.1 291.1h0M253.8 273.0h0M208.9 342.1h0M275.4 271.7h0M281.6 248.0h0M211.7 316.5h0M323.2 285.9h0M183.4 313.4h0M302.6 319.8h0M236.1 315.4h0M260.8 177.1h0M217.9 372.7h0M275.7 293.3h0M157.7 345.2h0M277.8 295.3h0M331.0 221.5h0M235.1 298.3h0M236.5 269.8h0M303.1 294.5h0M284.0 236.6h0M269.3 302.5h0M297.2 221.3h0M295.3 315.8h0M282.9 247.1h0M355.3 210.6h0M253.2 195.9h0M211.3 288.5h0M323.8 295.1h0M235.9 235.4h0M204.2 267.0h0M206.0 313.2h0M264.5 254.2h0M223.5 283.5h0M266.1 266.2h0M252.4 201.8h0M213.7 304.3h0M282.1 240.2h0M207.4 331.7h0M292.6 224.3h0M330.6 227.3h0M270.0 225.3h0M230.4 316.5h0M265.5 266.6h0M258.7 236.8h0M216.2 328.1h0M176.2 358.9h0M248.3 212.3h0M218.7 286.6h0M259.8 268.8h0M199.5 289.6h0M286.1 197.4h0M235.1 326.1h0M277.5 298.1h0M240.1 227.4h0M221.5 303.3h0M290.1 225.4h0M273.9 289.1h0M329.0 304.8h0M244.4 280.4h0M303.4 262.5h0M276.1 301.0h0M301.2 338.3h0M266.1 203.7h0M249.5 221.0h0M207.6 357.7h0M235.3 262.8h0M304.7 249.3h0M224.7 276.6h0M314.0 265.7h0M191.6 284.2h0M281.1 297.3h0M293.1 271.3h0M288.1 244.8h0M249.9 196.6h0M272.6 188.1h0M270.5 182.0h0M269.3 315.6h0M300.9 263.8h0M217.8 263.1h0M185.8 312.5h0M234.9 302.6h0M281.3 227.7h0M246.7 371.3h0M198.6 286.5h0M325.8 311.7h0M217.5 341.5h0M266.1 251.6h0M288.1 305.7h0M257.6 232.6h0M198.1 340.8h0M243.9 206.8h0M224.2 339.5h0M238.2 288.7h0M284.6 348.4h0M260.2 264.6h0M175.2 325.8h0M284.5 317.4h0M349.5 255.1h0M248.4 220.6h0M216.9 363.0h0M229.3 269.2h0M338.7 209.5h0M261.4 307.1h0M284.9 309.9h0M296.2 270.0h0M266.9 212.5h0M295.6 241.6h0M270.8 274.5h0M173.2 334.4h0M208.8 314.9h0M284.2 182.0h0M286.3 238.1h0M274.1 280.3h0M367.1 242.3h0M318.0 222.1h0M214.9 275.7h0M349.5 257.9h0M195.2 319.1h0M263.9 198.1h0M354.6 249.7h0M273.8 301.1h0M288.8 214.8h0M295.7 202.5h0M247.0 266.6h0M288.6 261.3h0M303.8 271.2h0M248.6 345.8h0M194.1 344.0h0M231.6 269.6h0M333.9 264.9h0M210.8 325.4h0M260.5 243.7h0M227.6 351.6h0M179.1 329.6h0M277.8 299.8h0M294.5 238.9h0M211.7 270.7h0M255.3 256.3h0M314.2 287.0h0M260.0 316.5h0M220.2 246.6h0M214.2 258.4h0M265.9 316.3h0M303.0 307.6h0M207.4 304.0h0M364.2 206.4h0M240.3 222.3h0M276.6 321.4h0M373.0 199.1h0M218.7 316.9h0M197.5 347.2h0M306.4 296.9h0M242.4 256.1h0M261.7 280.2h0M243.6 240.8h0M245.8 239.4h0M215.5 268.6h0M268.8 282.5h0M275.7 181.7h0M230.7 314.8h0M286.3 184.0h0M287.7 337.2h0M283.7 329.0h0M285.0 179.2h0M239.5 230.6h0M260.5 215.2h0M211.8 268.3h0M324.8 308.9h0M252.4 232.4h0M320.2 229.4h0M299.4 265.1h0M331.1 220.5h0M201.6 277.3h0M289.9 298.4h0M255.7 350.7h0M189.4 317.4h0M355.8 265.8h0M273.2 232.4h0M246.6 260.2h0M249.1 280.8h0M302.0 344.8h0M284.6 230.7h0M225.2 265.1h0M228.3 309.3h0M301.8 299.1h0M303.9 227.2h0M358.4 206.0h0M276.6 226.6h0M317.2 281.1h0M284.8 263.4h0M315.8 279.1h0M356.7 302.5h0M184.2 315.1h0M263.9 237.8h0M294.4 302.5h0M315.1 199.4h0M302.1 266.8h0M233.3 252.9h0M256.3 284.1h0M268.2 193.9h0M366.8 239.0h0M202.3 323.6h0M291.0 284.9h0M289.5 209.6h0M174.8 352.2h0M168.3 337.3h0M263.4 287.5h0M243.5 285.9h0M317.3 224.7h0M281.9 328.4h0M352.1 204.0h0M214.8 311.4h0M281.9 265.3h0M226.5 339.9h0M251.0 271.1h0M200.1 284.4h0M192.9 331.1h0M259.5 312.7h0M257.8 236.5h0M201.3 331.7h0M292.5 250.8h0M227.0 316.5h0M217.6 261.4h0M335.4 308.3h0M284.6 246.3h0M335.4 258.7h0M300.6 239.3h0M292.4 249.1h0M273.2 298.0h0M238.1 209.2h0M353.1 229.7h0M214.9 353.3h0M296.1 259.2h0M283.9 202.4h0M218.8 253.0h0M200.8 321.2h0M341.8 260.3h0M242.5 233.7h0M357.0 258.4h0M210.5 329.4h0M233.2 266.3h0M337.7 207.9h0M242.7 226.3h0M293.8 266.4h0M253.8 332.3h0M306.1 309.7h0M205.4 285.6h0M310.8 205.2h0M296.4 304.8h0M291.5 333.5h0M231.4 237.7h0M238.1 248.2h0M271.5 203.4h0M283.0 254.6h0M238.5 224.8h0M243.4 247.5h0M353.9 256.6h0M367.8 277.7h0M227.9 359.8h0M305.9 242.1h0M270.5 223.6h0M267.5 284.7h0M218.6 253.8h0M333.0 296.1h0M276.3 349.8h0M267.4 303.7h0M252.9 226.2h0M192.0 295.8h0M332.9 281.4h0M363.0 232.5h0M216.7 253.5h0M199.9 372.9h0M232.5 359.4h0M268.9 272.9h0M248.5 331.3h0M269.3 281.6h0M291.9 289.7h0M314.7 296.9h0M274.2 214.0h0M290.3 276.7h0M306.9 295.2h0M271.0 232.8h0M274.4 314.2h0M217.8 287.2h0M360.9 258.3h0M226.1 273.0h0M340.0 254.5h0M233.6 264.4h0M290.1 245.4h0M325.6 259.7h0M210.9 252.4h0M327.7 276.4h0M226.4 274.6h0M226.8 280.9h0M260.3 294.6h0M249.8 308.6h0M257.5 270.5h0M278.5 235.9h0M215.0 351.1h0M304.5 254.5h0M362.6 245.5h0M243.5 288.3h0M224.0 324.4h0M209.0 288.0h0M340.1 294.9h0M337.0 254.8h0M203.1 294.5h0M334.2 212.1h0M203.2 312.3h0M270.1 349.1h0M308.2 232.4h0M302.1 286.8h0M238.1 347.3h0M173.7 326.3h0M306.3 253.0h0M277.0 278.4h0M281.9 214.7h0M239.2 304.7h0M241.7 250.4h0M228.4 259.7h0M314.3 234.2h0M275.8 204.5h0M238.6 263.6h0M326.3 208.6h0M225.3 261.6h0M237.1 265.9h0M228.6 350.7h0M361.6 286.9h0M178.8 338.6h0M273.4 283.6h0M277.2 280.0h0M292.7 200.9h0M215.9 341.6h0M374.0 251.0h0M265.2 213.3h0M208.4 344.3h0M207.4 350.4h0M260.2 200.8h0M275.4 235.6h0M321.1 256.2h0M262.7 198.9h0M237.4 342.0h0M218.4 367.0h0M303.4 230.4h0M231.1 268.2h0M282.5 210.4h0M245.8 225.1h0M217.3 246.9h0M334.8 199.2h0M239.8 367.0h0M199.8 298.6h0M234.7 296.4h0M262.9 271.5h0M204.5 280.0h0M221.6 243.9h0M236.4 236.7h0M276.5 238.6h0M314.7 249.8h0M347.0 286.3h0M330.4 299.9h0M216.8 257.3h0M268.6 200.4h0M265.0 321.0h0M205.2 343.0h0M277.1 282.0h0M256.2 226.3h0M283.0 349.5h0M238.3 285.3h0M263.6 269.6h0M200.6 338.0h0M264.7 227.9h0M261.2 209.5h0M371.3 231.4h0M244.1 281.7h0M235.6 357.8h0M274.5 313.0h0M320.0 312.1h0M370.7 261.6h0M241.8 278.0h0M236.1 333.6h0M319.7 266.0h0M302.1 288.5h0M302.0 235.3h0M271.5 287.9h0M181.5 308.1h0M259.0 327.3h0M319.2 253.0h0M253.0 314.2h0M268.4 245.8h0M359.9 302.8h0M179.6 328.2h0M235.1 241.3h0M261.4 256.4h0M291.3 266.0h0M275.1 307.4h0M262.4 308.2h0M213.2 249.5h0M283.5 264.0h0M223.3 314.8h0M287.9 242.1h0M235.0 272.0h0M314.1 287.9h0M216.3 305.6h0M238.5 245.0h0M221.1 261.2h0M223.3 249.3h0M295.1 293.0h0M258.4 327.6h0M266.7 221.2h0M204.5 294.0h0M292.8 225.8h0M181.5 341.5h0M164.5 355.6h0M339.8 223.9h0M253.9 237.1h0M323.9 297.4h0M245.2 269.9h0M211.6 331.6h0M195.9 318.3h0M263.4 273.6h0M335.2 232.9h0M357.7 238.7h0M268.9 275.0h0M229.1 284.9h0M285.3 223.5h0M193.1 286.8h0M313.0 211.3h0M263.1 259.3h0M257.7 220.8h0M299.5 292.6h0M293.0 239.5h0M294.6 259.9h0M268.1 226.5h0M236.4 270.0h0M339.2 310.2h0M202.9 328.7h0M287.7 227.6h0M357.0 210.1h0M216.7 267.0h0M211.0 317.8h0M251.6 257.3h0M252.0 247.5h0M292.9 270.3h0M211.1 264.4h0M249.1 245.0h0M316.6 273.1h0M306.8 193.9h0M222.3 250.1h0M276.0 262.0h0M174.3 344.2h0M266.3 306.0h0M273.3 274.5h0M314.7 283.3h0M309.0 217.6h0M259.9 244.7h0M309.2 265.3h0M306.4 203.6h0M223.6 263.1h0M214.5 255.0h0M253.2 345.6h0M245.7 302.5h0M238.4 327.8h0M257.1 199.1h0M212.8 331.4h0M282.3 182.7h0M185.2 297.6h0M285.3 235.3h0M337.2 209.9h0M319.4 235.0h0M315.7 259.0h0M294.5 295.7h0M199.3 287.8h0M230.7 238.7h0M335.7 308.6h0M339.8 226.6h0M348.1 247.3h0M229.0 322.1h0M203.7 271.5h0M308.0 251.6h0M208.9 299.3h0M220.7 288.1h0M242.3 207.4h0M241.5 307.1h0M317.0 193.3h0M298.5 278.0h0M258.3 266.0h0M295.3 281.7h0M225.5 246.4h0M326.2 242.1h0M219.2 296.7h0M243.2 285.7h0M242.1 316.9h0M279.1 288.7h0M303.3 214.3h0M274.7 254.1h0M356.6 265.1h0M249.2 314.9h0M240.9 208.6h0M243.4 372.7h0M279.3 273.7h0M325.3 308.6h0M248.8 334.7h0M238.4 257.9h0M249.1 299.5h0M301.7 319.6h0M305.5 267.5h0M211.7 306.0h0M221.6 282.1h0M269.7 196.6h0M274.1 235.4h0M305.0 269.1h0M223.3 323.6h0M344.2 214.5h0M241.9 374.9h0M261.6 278.7h0M213.7 324.1h0M216.4 281.4h0M261.2 272.2h0M299.7 231.9h0M215.4 246.2h0M288.5 160.0h0M358.0 288.5h0M232.0 315.1h0M230.9 263.3h0M282.3 238.0h0M203.0 279.6h0M289.5 341.4h0M371.9 208.0h0M301.8 262.0h0M262.1 263.5h0M318.1 238.8h0M373.2 220.0h0M236.8 350.7h0M264.4 221.6h0M211.1 338.0h0M299.5 248.6h0M247.8 342.9h0M236.0 239.4h0M318.1 254.3h0M316.2 274.1h0M206.0 295.5h0M210.0 272.6h0M314.2 211.7h0M225.3 304.0h0M262.6 234.4h0M230.3 319.2h0M250.0 249.9h0M166.4 356.2h0M329.0 229.2h0M356.7 279.4h0M247.0 337.6h0M355.1 311.6h0M323.2 229.2h0M253.8 262.6h0M318.9 288.8h0M246.3 273.9h0M263.1 343.7h0M295.4 277.6h0M279.9 242.5h0M281.8 320.1h0M333.7 215.9h0M205.5 290.4h0M246.0 320.8h0M273.6 335.7h0M221.8 235.1h0M339.7 307.4h0M318.4 263.1h0M276.4 181.4h0M216.6 351.0h0M205.4 344.3h0M262.0 316.6h0M313.9 265.3h0M175.2 336.4h0M285.4 248.3h0M244.4 325.2h0M267.8 267.9h0M311.8 266.9h0M327.9 269.7h0M313.5 254.2h0M232.9 296.1h0M261.4 322.4h0M238.4 306.3h0M362.6 258.7h0M290.5 241.9h0M223.6 253.0h0M272.9 346.8h0M280.9 324.1h0M196.4 289.3h0M279.1 154.4h0M325.4 219.5h0M277.0 327.3h0M277.0 340.5h0M281.9 178.0h0M236.8 284.0h0M242.3 271.5h0M222.8 274.3h0M209.0 285.6h0M188.1 303.7h0M209.5 283.3h0M365.1 212.8h0M265.6 332.9h0M249.7 315.0h0M316.8 266.2h0M233.9 250.1h0M344.0 233.2h0M266.7 244.3h0M272.0 229.7h0M305.6 201.8h0M212.5 290.3h0M215.7 274.5h0M308.2 172.6h0M167.1 359.5h0M329.3 211.4h0M217.7 303.6h0M254.9 321.0h0M263.6 164.7h0M325.3 276.8h0M296.9 222.6h0M278.1 232.5h0M313.9 256.9h0M207.5 298.7h0M258.2 312.4h0M213.1 301.9h0M202.4 292.0h0M247.4 279.3h0M201.4 281.8h0M233.1 276.0h0M297.0 283.5h0M201.2 371.2h0M367.7 260.2h0M297.9 277.4h0M300.5 285.0h0M217.5 251.2h0M269.2 186.1h0M186.7 317.5h0M338.5 230.5h0M264.4 275.9h0M264.4 257.4h0M310.9 219.5h0M295.3 357.1h0M281.9 308.9h0M224.6 261.5h0M339.4 239.7h0M304.9 241.6h0M194.5 347.6h0M316.4 242.9h0M214.3 324.0h0M245.8 267.7h0M323.1 210.4h0M288.1 207.5h0M278.5 256.6h0M264.7 238.3h0M229.3 363.9h0M268.0 259.2h0M220.5 284.4h0M304.6 204.6h0M198.0 290.4h0M294.1 198.4h0M238.7 277.8h0M356.0 211.2h0M349.0 212.0h0M219.4 315.6h0M284.1 224.9h0M336.4 274.2h0M346.2 208.1h0M294.9 335.1h0M242.9 251.3h0M253.0 244.2h0M216.8 329.7h0M266.7 310.1h0M242.5 295.9h0M198.4 304.3h0M236.6 235.3h0M284.5 241.1h0M202.1 318.9h0M305.8 214.8h0M250.6 246.4h0M282.7 278.9h0M292.1 209.1h0M247.0 326.3h0M221.3 246.1h0M260.7 187.1h0M208.0 308.2h0M260.4 327.9h0M248.7 283.3h0M242.2 279.9h0M259.4 232.8h0M237.5 266.0h0M335.6 255.7h0M268.9 202.4h0M317.8 293.3h0M180.5 311.6h0M263.9 197.2h0M232.1 322.0h0M349.5 229.7h0M234.2 240.1h0M307.0 241.2h0M255.4 223.2h0M309.3 188.7h0M252.1 244.2h0M299.1 155.1h0M240.2 252.7h0M225.7 248.7h0M271.0 242.6h0M296.8 351.7h0M303.6 201.1h0M262.2 213.7h0M212.1 255.6h0M311.0 313.2h0M230.5 263.9h0M315.2 310.2h0M247.3 235.9h0M269.1 218.2h0M242.4 280.4h0M215.1 316.2h0M271.4 209.6h0M281.0 264.0h0M367.9 311.8h0M326.2 285.1h0M322.0 283.9h0M241.0 358.9h0M344.4 222.2h0M254.1 202.4h0M283.6 272.8h0M254.3 207.2h0M213.6 275.5h0M273.5 202.7h0M244.1 195.3h0M270.4 267.6h0M299.5 253.8h0M230.3 258.9h0M190.1 329.8h0M357.0 273.9h0M268.0 230.1h0M263.7 241.7h0M253.2 231.7h0M302.2 341.1h0M297.9 257.3h0M246.9 298.7h0M212.8 254.1h0M230.1 286.6h0M213.0 318.6h0M264.2 256.1h0M247.7 249.3h0M363.4 247.4h0M237.9 237.3h0M344.9 295.1h0M195.9 306.2h0M318.7 241.0h0M269.9 273.1h0M234.4 375.2h0M364.9 272.5h0M270.9 230.9h0M260.5 239.6h0M327.6 265.2h0M202.6 329.7h0M374.3 270.4h0M322.5 290.9h0M303.5 256.8h0M307.1 229.0h0M222.8 250.1h0M253.3 329.8h0M295.7 356.6h0M232.2 236.3h0M325.4 231.5h0M374.6 241.3h0M179.0 326.4h0M233.6 300.7h0M217.5 299.2h0M245.8 257.9h0M297.2 239.0h0M293.0 300.1h0M343.0 298.6h0M346.8 224.3h0M353.0 245.8h0M286.1 302.9h0M301.5 318.4h0M254.5 278.9h0M258.0 234.3h0M271.0 181.5h0M217.4 270.7h0M230.8 248.4h0M343.0 203.4h0M241.0 271.7h0M264.5 167.9h0M285.7 237.1h0M294.5 244.6h0M348.5 262.0h0M248.3 228.2h0M316.5 230.8h0M231.7 282.3h0M235.9 266.5h0M305.7 203.8h0M223.5 359.8h0M359.1 281.3h0M301.5 257.4h0M239.2 319.3h0M348.3 223.9h0M257.8 280.5h0M233.0 256.6h0M315.2 266.3h0M234.0 213.1h0M213.7 346.5h0M252.2 243.1h0M273.8 156.8h0M212.0 307.4h0M316.8 267.1h0M256.5 299.2h0M217.0 307.6h0M266.1 272.2h0M239.8 255.5h0M273.2 338.3h0M250.1 224.1h0M285.3 260.1h0M341.2 291.8h0M327.5 275.0h0M288.0 322.9h0M235.3 219.2h0M279.8 274.5h0M359.3 200.0h0M202.8 321.9h0M206.6 280.6h0M212.5 290.4h0M268.6 232.7h0M310.5 270.3h0M183.2 331.7h0M248.7 283.9h0M263.2 297.3h0M276.4 239.3h0M273.6 305.0h0M291.9 219.3h0M324.0 303.5h0M339.8 243.0h0M220.1 251.5h0M309.4 319.7h0M279.2 222.1h0M225.3 309.4h0M253.6 253.4h0M324.6 214.5h0M322.0 231.3h0M183.4 321.3h0M228.8 248.0h0M237.5 228.7h0M182.9 342.8h0M211.6 286.0h0M309.2 238.3h0M249.9 288.1h0M296.8 269.9h0M268.9 216.0h0M325.5 307.8h0M290.8 257.4h0M289.6 315.6h0M298.4 255.2h0M272.5 237.2h0M307.2 343.7h0M175.2 322.8h0M196.0 320.9h0M315.7 193.2h0M279.0 204.2h0M326.9 281.9h0M220.6 250.6h0M260.5 314.7h0M275.2 293.3h0M324.4 195.4h0M275.0 334.0h0M264.4 255.5h0M281.2 352.7h0M291.2 239.2h0M220.0 241.1h0M292.8 269.9h0M216.4 309.0h0M252.1 224.5h0M331.7 245.6h0M316.4 273.5h0M347.6 218.8h0M261.6 257.6h0M262.9 212.5h0M369.0 292.6h0M315.6 290.9h0M209.3 269.5h0M283.5 254.6h0M198.3 350.1h0M209.1 282.8h0M283.5 212.5h0M225.7 310.7h0M244.6 319.8h0M240.2 277.7h0M262.8 255.2h0M239.2 301.3h0M331.4 307.9h0M262.6 300.1h0M293.9 236.7h0M225.8 371.0h0M216.3 299.6h0M210.3 278.4h0M300.7 281.8h0M288.0 337.9h0M275.5 195.9h0M216.2 313.4h0M298.8 206.1h0M327.4 254.5h0M274.3 208.5h0M220.6 274.9h0M251.3 211.0h0M269.3 342.8h0M254.4 245.8h0M303.4 169.9h0M266.4 175.9h0M294.5 282.1h0M248.3 308.3h0M264.2 217.1h0M227.1 267.2h0M289.2 317.0h0M286.9 226.1h0M208.2 269.8h0M266.1 273.8h0M269.9 223.5h0M249.2 232.3h0M277.3 177.5h0M360.8 196.1h0M298.7 313.2h0M272.9 283.0h0M219.9 340.5h0M339.3 269.2h0M217.3 357.2h0M216.0 251.2h0M280.1 271.3h0M242.4 323.3h0M215.3 327.1h0M210.8 341.5h0M201.3 336.9h0M220.4 287.7h0M286.0 337.2h0M276.1 305.3h0M263.3 296.4h0M321.7 218.6h0M220.9 272.2h0M256.2 314.9h0M268.9 229.2h0M298.1 191.7h0M316.4 238.3h0M245.2 263.7h0M316.0 235.2h0M321.1 282.6h0M224.3 291.9h0M202.5 316.5h0M280.0 227.4h0M285.1 154.7h0M300.8 307.9h0M252.9 217.8h0M286.8 339.8h0M233.9 258.1h0M301.6 221.5h0M242.6 229.6h0M219.7 311.1h0M301.6 299.8h0M251.9 280.4h0M231.2 255.9h0M322.7 270.8h0M273.8 187.7h0M262.5 223.0h0M279.7 292.9h0M200.4 321.6h0M291.6 240.0h0M277.5 316.9h0M229.0 250.9h0M325.7 267.6h0M281.4 292.6h0M287.2 330.0h0M283.4 178.5h0M317.7 301.8h0M227.8 315.2h0M255.6 218.0h0M262.1 230.2h0M260.2 329.0h0M281.3 282.6h0M265.1 254.0h0M219.9 264.0h0M226.3 316.0h0M234.5 348.6h0M243.5 267.2h0M217.7 325.3h0M232.7 289.3h0M303.3 199.7h0M262.9 302.3h0M215.5 243.5h0M281.7 344.6h0M262.8 232.5h0M355.6 252.0h0M210.7 310.7h0M277.8 349.9h0M304.9 294.9h0M368.9 240.8h0M278.4 287.5h0M343.4 247.5h0M241.5 257.1h0M280.7 241.6h0M305.5 164.7h0M220.8 290.7h0M300.9 283.5h0M251.9 227.2h0M247.5 272.7h0M345.9 297.0h0M316.4 238.6h0M324.6 289.4h0M358.6 239.6h0M277.3 249.2h0M228.3 242.2h0M306.5 260.0h0M252.1 350.3h0M314.3 309.2h0M303.4 186.0h0M252.5 316.5h0M359.0 313.2h0M350.2 247.3h0M187.0 292.5h0M260.7 239.7h0M223.4 362.9h0M189.4 339.0h0M280.3 283.7h0M323.1 297.9h0M371.7 251.2h0M200.2 308.7h0M314.9 210.7h0M272.4 238.6h0M216.3 281.7h0M290.8 335.0h0M286.7 251.4h0M238.1 319.0h0M232.4 300.8h0M219.8 362.4h0M310.4 160.9h0M269.3 356.6h0M160.4 353.7h0M261.9 259.6h0M288.7 347.7h0M219.6 271.0h0M226.9 305.1h0M220.2 299.8h0M300.6 214.9h0M254.4 263.3h0M262.0 298.2h0M187.3 316.9h0M242.4 282.3h0M208.0 306.8h0M265.2 271.4h0M294.8 295.1h0M346.1 255.5h0M215.4 267.3h0M216.3 262.3h0M298.3 281.8h0M274.9 326.6h0M229.1 237.4h0M215.0 292.5h0M307.2 213.4h0M249.4 189.3h0M346.5 308.8h0M319.4 220.6h0M259.8 324.5h0M215.8 252.7h0M196.2 290.7h0M213.1 283.1h0M368.9 248.0h0M242.8 309.4h0M312.9 250.8h0M287.8 344.0h0M373.2 201.1h0M250.0 235.8h0M223.2 296.0h0M279.9 325.6h0M293.6 211.5h0M251.5 259.4h0M321.8 264.2h0M240.5 245.0h0M369.5 291.4h0M244.3 233.4h0M227.6 321.7h0M255.5 208.2h0M203.9 312.9h0M285.3 254.2h0M169.7 341.0h0M255.9 291.2h0M186.6 314.1h0M316.3 222.8h0M291.2 355.9h0M261.3 227.4h0M336.5 281.5h0M287.0 243.0h0M192.2 352.5h0M343.6 210.5h0M316.1 218.0h0M373.8 294.1h0M322.9 257.9h0M321.5 266.7h0M278.2 249.9h0M194.2 341.4h0M240.8 300.7h0M208.8 275.1h0M207.0 328.5h0M290.2 240.2h0M254.2 294.3h0M348.8 239.2h0M237.2 238.9h0M324.7 225.1h0M295.8 237.0h0M245.2 198.0h0M249.8 250.7h0M330.0 248.1h0M224.3 301.2h0M275.5 160.6h0M369.8 258.2h0M267.4 297.2h0M247.7 235.2h0M256.1 259.0h0M356.0 310.3h0M318.3 221.4h0M248.4 361.9h0M244.9 280.0h0M293.3 239.9h0M252.2 261.4h0M222.6 292.0h0M291.1 240.0h0M206.7 316.4h0M199.6 366.2h0M235.3 264.4h0M180.4 323.2h0M319.7 236.9h0M267.5 296.7h0M259.2 241.3h0M238.1 251.2h0M218.0 274.2h0M318.4 265.4h0M247.8 284.2h0M277.2 153.9h0M282.9 267.9h0M237.3 300.8h0M255.8 277.1h0M203.2 304.3h0M288.2 258.7h0M283.2 203.8h0M286.3 317.8h0M241.5 240.7h0M333.1 292.4h0M325.4 199.6h0M298.4 290.8h0M236.9 297.3h0M349.5 213.0h0M264.5 195.7h0M243.5 299.1h0M339.6 201.0h0M260.2 252.9h0M365.7 250.4h0M257.0 338.4h0M215.9 277.9h0M302.4 267.4h0M232.8 295.8h0M301.3 261.6h0M272.6 262.0h0M259.8 239.8h0M269.6 274.6h0M215.6 330.7h0M251.0 248.0h0M326.7 256.9h0M352.4 312.2h0M312.6 240.0h0M243.6 295.1h0M279.4 199.9h0M273.0 300.0h0M325.9 205.6h0M198.8 294.5h0M336.0 234.6h0M308.5 303.5h0M284.0 158.7h0M262.5 198.0h0M280.6 201.1h0M214.1 274.5h0M243.8 318.8h0M286.0 326.4h0M271.6 353.3h0M319.7 276.6h0M256.0 343.4h0M321.3 254.5h0M307.5 235.5h0M277.5 257.4h0M298.9 170.6h0M304.3 315.8h0M227.0 243.8h0M308.9 278.6h0M214.2 258.6h0M311.2 345.5h0M278.4 302.0h0M237.9 240.6h0M360.9 309.7h0M260.6 213.9h0M274.7 301.5h0M280.2 199.0h0M227.2 267.3h0M244.1 277.2h0M201.6 323.2h0M247.1 241.4h0M262.0 341.0h0M327.9 225.8h0M311.8 270.0h0M277.1 178.5h0M255.0 261.6h0M290.6 252.8h0M331.8 242.8h0M295.2 350.2h0M343.0 235.4h0M276.5 323.2h0M250.7 251.5h0M262.8 200.9h0M211.5 268.4h0M285.5 255.8h0M298.9 254.1h0M230.9 222.7h0M314.5 236.0h0M256.9 281.8h0M284.7 298.8h0M260.7 349.4h0M318.6 255.2h0M207.5 300.8h0M364.7 268.7h0M346.2 300.4h0M296.3 297.1h0M256.0 278.3h0M292.4 299.5h0M257.9 271.6h0M270.9 299.1h0M215.5 356.7h0M189.9 334.1h0M257.9 347.0h0M293.9 311.5h0M214.2 364.3h0M233.3 230.4h0M289.9 300.4h0M301.6 203.4h0M338.4 225.7h0M273.0 248.0h0M296.6 302.9h0M340.9 255.5h0M211.9 255.3h0M312.5 340.1h0M361.2 272.0h0M259.9 248.2h0M331.8 232.8h0M277.6 151.7h0M327.9 309.5h0M343.7 300.4h0M317.1 279.5h0M345.7 217.6h0M227.9 296.9h0M240.2 296.5h0M303.9 207.5h0M316.9 276.9h0M284.0 166.2h0M305.8 160.3h0M247.5 202.7h0M287.2 194.8h0M291.3 296.9h0M305.8 169.0h0M218.7 308.3h0M257.6 177.6h0M236.8 312.0h0M215.6 284.7h0M213.7 337.8h0M195.1 308.3h0M274.6 217.6h0M315.5 282.9h0M223.3 350.4h0M308.6 266.5h0M279.3 183.3h0M290.8 243.8h0M284.3 251.9h0M228.5 284.8h0M358.5 310.1h0M281.3 352.9h0M256.0 240.9h0M205.9 283.0h0M312.3 287.7h0M289.5 221.3h0M258.5 236.4h0M282.0 300.1h0M240.9 239.3h0M268.8 301.8h0M369.4 233.0h0M222.6 291.5h0M276.7 230.0h0M250.4 325.8h0M303.7 293.0h0M307.5 349.6h0M269.8 179.7h0M203.8 341.2h0M266.6 215.9h0M254.6 298.0h0M293.9 297.1h0M225.9 292.3h0M318.7 238.8h0M281.4 264.1h0M292.0 287.8h0M271.6 342.6h0M261.4 316.4h0M267.0 269.8h0M197.9 323.8h0M233.0 301.3h0M299.8 351.3h0M231.7 224.4h0M230.7 256.8h0M241.6 288.8h0M197.9 273.4h0M247.2 234.0h0M314.7 238.5h0M196.5 338.6h0M326.0 244.1h0M306.4 298.0h0M269.4 200.6h0M256.8 246.3h0M240.4 220.4h0M174.3 353.2h0M310.5 285.9h0M169.3 350.6h0M265.5 323.4h0M352.3 207.6h0M247.9 281.2h0M262.4 284.5h0M322.8 202.5h0M332.1 255.4h0M301.1 305.0h0M266.2 253.7h0M315.9 286.5h0M339.0 239.6h0M251.3 268.7h0M343.7 252.8h0M330.5 288.9h0M256.6 241.3h0M281.0 351.5h0M261.4 251.6h0M263.6 339.0h0M312.1 196.3h0M261.2 307.7h0M271.0 301.0h0M202.7 292.9h0M286.7 254.9h0M253.2 218.4h0M280.3 285.6h0M311.6 262.5h0M229.0 254.1h0M235.7 249.2h0M259.0 270.1h0M273.1 230.2h0M363.7 273.5h0M234.7 213.3h0M322.6 271.4h0M225.6 327.4h0M282.8 189.6h0M260.5 182.7h0M325.5 290.8h0M258.5 225.8h0M195.9 332.9h0M246.7 298.6h0M209.6 354.6h0M296.0 319.0h0M272.1 262.8h0M243.0 241.4h0M242.1 224.9h0M240.1 373.2h0M247.0 289.9h0M269.0 279.9h0M202.7 337.4h0M299.3 251.4h0M252.5 291.9h0M271.6 278.0h0M292.9 255.5h0M294.4 315.9h0M310.6 240.4h0M204.6 301.8h0M287.0 267.1h0M231.7 347.5h0M281.9 169.8h0M286.9 258.2h0M278.2 321.6h0M313.9 289.4h0M239.9 222.1h0M275.5 209.4h0M293.4 336.0h0M261.4 232.4h0M259.0 322.5h0M255.9 190.9h0M202.1 288.0h0M314.3 241.2h0M239.2 268.7h0M300.3 341.3h0M245.3 334.7h0M298.3 311.9h0M275.9 339.8h0M193.3 297.8h0M294.6 253.1h0M228.5 327.5h0M246.2 315.3h0M253.7 286.5h0M344.4 213.2h0M258.9 258.6h0M293.6 246.8h0M259.3 256.9h0M277.8 328.4h0M221.8 302.9h0M247.1 240.5h0M317.4 283.6h0M188.7 300.5h0M213.6 358.0h0M230.1 280.4h0M318.2 278.2h0M254.4 252.1h0M270.2 253.8h0M206.6 331.0h0M230.8 263.4h0M284.6 253.7h0M248.3 303.3h0M230.2 229.2h0M286.9 328.5h0M188.3 335.9h0M286.8 309.2h0M260.9 253.4h0M282.5 331.5h0M257.7 271.7h0M252.7 308.9h0M355.1 308.8h0M317.6 270.3h0M271.1 246.7h0M290.3 281.1h0M251.6 247.2h0M282.4 293.9h0M269.1 257.4h0M272.5 213.2h0M284.4 305.3h0M203.5 369.2h0M350.7 199.0h0M255.1 183.6h0M209.0 259.0h0M259.2 222.8h0M215.9 372.3h0M333.4 295.9h0M296.7 202.7h0M240.2 318.3h0M207.8 270.5h0M310.1 184.5h0M276.6 275.7h0M243.5 350.1h0M219.6 245.9h0M271.6 199.3h0M251.0 205.1h0M290.9 170.2h0M253.7 244.7h0M281.5 322.0h0M280.9 227.7h0M280.8 280.9h0M241.4 286.5h0M261.9 312.3h0M301.5 279.2h0M304.9 233.1h0M276.3 246.8h0M295.5 270.7h0M274.1 248.2h0M269.5 251.8h0M228.2 252.4h0M251.7 224.4h0M224.5 239.5h0M276.7 313.7h0M215.4 338.3h0M280.7 249.7h0M337.0 277.7h0M218.9 311.3h0M198.6 280.5h0M275.7 320.2h0M233.4 287.4h0M369.5 229.3h0M211.3 306.9h0M362.5 226.2h0M303.8 209.8h0M292.3 299.1h0M243.0 227.5h0M245.8 225.4h0M257.9 263.8h0M265.4 188.8h0M335.9 237.3h0M317.8 275.0h0M285.8 295.9h0M194.0 318.3h0M328.2 290.9h0M230.3 222.8h0M268.8 321.7h0M286.0 347.7h0M358.5 269.5h0M251.0 238.2h0M319.8 310.8h0M247.5 303.5h0M267.4 256.1h0M280.7 342.5h0M289.1 262.9h0M295.8 208.7h0M321.1 240.6h0M287.6 241.9h0M218.2 246.2h0M233.9 284.6h0M333.7 306.4h0M293.6 303.0h0M226.0 241.2h0M188.2 349.6h0M270.8 295.4h0M222.5 333.8h0M257.5 330.5h0M281.1 217.5h0M201.3 306.3h0M254.9 205.4h0M357.7 223.6h0M241.9 219.9h0M244.5 270.6h0M224.2 299.8h0M280.3 205.2h0M293.1 297.2h0M266.6 253.9h0M329.7 262.3h0M321.7 230.7h0M224.2 283.0h0M361.2 304.4h0M259.9 341.5h0M265.4 231.6h0M276.2 279.7h0M277.2 193.8h0M302.1 265.7h0M270.0 220.6h0M246.9 248.0h0M238.2 333.1h0M219.6 317.2h0M275.0 307.2h0M213.0 314.9h0M273.1 353.8h0M350.2 260.2h0M260.7 232.8h0M249.3 310.9h0M331.1 276.3h0M298.0 252.1h0M338.0 207.7h0M204.0 342.0h0M241.2 225.6h0M259.8 254.7h0M281.7 297.3h0M297.6 238.5h0M329.0 287.0h0M197.2 282.7h0M230.8 225.2h0M230.7 250.4h0M320.4 229.8h0M328.1 281.8h0M329.5 267.1h0M313.0 207.2h0M295.2 317.6h0M233.4 299.6h0M277.4 335.4h0M274.6 336.6h0M301.9 261.6h0M256.6 256.1h0M227.0 273.4h0M339.8 266.2h0M264.8 212.2h0M227.9 276.3h0M299.8 201.4h0M276.7 237.7h0M256.4 280.4h0M215.5 287.6h0M203.8 354.5h0M307.7 248.1h0M223.1 250.3h0M267.4 176.1h0M315.8 227.6h0M339.8 276.4h0M289.1 188.8h0M204.9 308.8h0M238.6 237.1h0M293.2 270.0h0M290.5 290.0h0M240.5 279.8h0M277.5 253.5h0M227.4 304.5h0M210.7 285.1h0M157.9 342.5h0M291.8 271.9h0M365.3 244.5h0M261.5 231.7h0M349.0 251.2h0M247.4 318.2h0M249.5 285.0h0M310.7 305.7h0M296.0 303.1h0M195.2 285.1h0M251.4 230.2h0M285.3 243.2h0M218.6 369.6h0M283.5 159.2h0M199.7 317.6h0M242.0 355.8h0M351.3 291.0h0M317.4 259.2h0M323.1 235.2h0M243.6 325.5h0M324.6 250.7h0M246.1 273.1h0M292.0 162.0h0M252.1 352.9h0M210.8 307.7h0M233.5 245.3h0M368.1 299.3h0M317.8 253.6h0M340.5 255.8h0M278.4 297.3h0M291.4 317.7h0M224.0 337.9h0M242.3 255.2h0M200.0 306.2h0M226.9 360.9h0M282.8 287.2h0M365.2 249.2h0M294.9 237.6h0M261.3 341.0h0M291.9 272.8h0M326.9 264.0h0M204.0 307.3h0M326.9 237.6h0M298.3 313.7h0M330.4 232.7h0M287.1 189.2h0M216.7 350.6h0M230.2 226.9h0M259.2 258.9h0M208.0 277.8h0M198.9 288.5h0M352.8 267.1h0M254.7 236.8h0M250.5 217.4h0M313.6 291.1h0M250.1 343.2h0M340.5 226.8h0M242.7 359.1h0M293.2 159.2h0M252.6 219.8h0M174.2 360.3h0M343.4 217.4h0M240.5 248.3h0M284.3 347.8h0M357.8 200.8h0M275.6 224.0h0M268.5 292.4h0M244.2 281.6h0M351.3 198.2h0M258.3 233.6h0M296.0 253.6h0M244.8 220.0h0M286.7 190.5h0M302.1 169.3h0M351.6 308.0h0M266.9 337.5h0M333.9 208.0h0M275.3 240.5h0M356.8 230.2h0M282.3 346.7h0M298.6 285.2h0M211.3 324.4h0M262.7 256.6h0M212.4 273.8h0M195.4 300.6h0M269.7 346.9h0M250.9 326.1h0M293.6 342.0h0M225.0 290.6h0M241.4 265.6h0M306.3 290.3h0M241.2 249.6h0M265.0 256.2h0M290.0 271.1h0M245.5 237.1h0M280.6 167.9h0M274.8 242.6h0M354.1 248.1h0M221.7 257.1h0M261.9 209.8h0M279.7 321.1h0M214.3 309.2h0M236.6 249.3h0M255.4 341.4h0M227.5 288.9h0M193.2 306.5h0M226.2 321.0h0M227.2 317.5h0M209.9 268.4h0M277.8 298.6h0M294.2 350.9h0M306.8 286.2h0M235.5 294.1h0M259.0 257.8h0M312.9 296.4h0M306.3 242.8h0M223.2 308.6h0M220.9 264.1h0M255.4 266.0h0M293.2 231.3h0M211.6 323.6h0M234.8 295.4h0M243.4 292.8h0M300.4 252.7h0M302.5 353.4h0M239.7 253.6h0M271.0 272.4h0M268.5 347.6h0M329.0 236.1h0M239.9 330.0h0M211.1 315.8h0M261.8 200.2h0M268.8 267.9h0M263.8 295.6h0M214.5 322.8h0M275.8 295.8h0M270.3 205.5h0M297.7 293.5h0M227.4 275.5h0M243.4 258.8h0M288.2 236.1h0M284.2 220.3h0M262.9 271.1h0M298.9 171.3h0M292.5 232.9h0M212.7 253.9h0M260.4 256.8h0M249.8 246.7h0M264.0 295.4h0M206.2 309.2h0M248.3 260.3h0M297.3 211.2h0M295.1 237.5h0M254.7 298.5h0M341.3 228.5h0M276.1 229.7h0M338.9 239.8h0M280.0 181.6h0M208.3 309.4h0M278.7 350.0h0M210.7 283.5h0M243.4 208.7h0M290.9 233.1h0M278.0 353.7h0M268.7 260.6h0M275.2 311.8h0M177.9 355.0h0M355.8 223.6h0M218.1 270.0h0M287.2 179.9h0M244.0 316.5h0M229.2 251.0h0M218.6 347.8h0M264.5 278.2h0M333.8 281.9h0M246.9 280.5h0M292.9 231.2h0M250.6 340.8h0M292.7 216.7h0M257.5 248.5h0M286.5 199.2h0M352.0 237.2h0M330.5 222.7h0M277.1 270.3h0M304.8 266.4h0M338.1 198.5h0M241.5 370.0h0M189.0 334.4h0M303.2 332.2h0M224.1 288.0h0M219.1 267.8h0M294.1 207.7h0M197.0 300.2h0M244.7 352.9h0M353.8 286.5h0M216.6 345.6h0M201.6 327.4h0M275.6 215.6h0M182.1 345.0h0M304.9 170.5h0M318.0 277.7h0M229.7 225.4h0M249.7 213.4h0M346.9 299.9h0M265.2 292.9h0M215.6 289.4h0M258.7 297.9h0M204.2 350.5h0M165.7 354.8h0M277.4 239.4h0M272.7 335.9h0M204.8 343.1h0M326.2 216.3h0M264.3 277.6h0M250.3 258.5h0M304.1 217.4h0M280.7 242.6h0M179.7 308.7h0M300.1 271.4h0M251.3 278.4h0M216.3 256.6h0M191.4 313.9h0M338.6 252.1h0M316.5 261.1h0M178.5 311.5h0M291.9 167.5h0M243.4 234.8h0M304.4 278.3h0M239.1 257.6h0M310.2 310.3h0M194.3 369.8h0M204.0 271.2h0M298.0 291.3h0M293.3 249.2h0M222.7 307.3h0M356.5 267.0h0M305.2 233.0h0M250.8 283.9h0M224.4 327.8h0M257.1 221.1h0M361.9 201.3h0M254.7 254.1h0M207.5 324.2h0M358.1 200.7h0M264.4 238.1h0M350.5 298.0h0M271.3 236.0h0M252.3 306.1h0M232.2 256.9h0M267.1 171.6h0M268.8 274.9h0M224.8 261.2h0M227.3 319.5h0M186.1 354.7h0M246.6 261.2h0M202.1 312.0h0M218.6 336.4h0M250.7 319.1h0M208.5 282.0h0M342.5 241.3h0M241.6 276.6h0M255.6 304.5h0M245.5 269.4h0M312.5 321.3h0M204.4 337.3h0M293.2 280.4h0M255.2 206.5h0M265.4 243.6h0M296.7 322.3h0M353.0 263.1h0M270.4 189.9h0M207.0 284.8h0M266.2 207.1h0M360.9 257.5h0M293.8 176.0h0M347.1 283.6h0M252.0 234.9h0M224.9 267.5h0M386.6 52.4h0M394.4 65.6h0M405.4 63.0h0M346.4 71.4h0M342.0 76.0h0M368.2 77.6h0M331.0 85.2h0M352.6 87.6h0M358.0 90.8h0M387.8 91.0h0M340.0 95.2h0M323.6 102.0h0M320.0 109.2h0M324.0 111.6h0M343.4 110.6h0M348.6 115.4h0M393.2 110.0h0M422.8 108.0h0M316.0 117.6h0M321.4 117.6h0M331.4 119.6h0M342.0 121.0h0M325.4 123.0h0M334.4 125.6h0M343.0 123.6h0M345.0 128.0h0M354.6 127.0h0M364.2 122.4h0M375.8 119.4h0M383.0 118.0h0M388.2 121.4h0M413.6 120.2h0M427.4 123.8h0M326.0 128.0h0M475.0 95.6h0M453.3 111.5h0M526.4 128.6h0M575.3 127.5h0M316.5 134.0h0M326.5 132.5h0M324.0 138.0h0M319.0 137.0h0M331.5 136.0h0M335.5 140.5h0M342.0 137.0h0M343.5 140.0h0M357.0 133.0h0M367.5 144.0h0M315.5 145.0h0M322.5 146.5h0M329.0 143.0h0M331.0 147.0h0M323.0 151.0h0M317.0 150.0h0M329.0 153.5h0M348.5 153.5h0M352.0 151.5h0M355.5 148.5h0M359.5 154.5h0M361.0 158.0h0M363.0 161.0h0M358.0 159.0h0M368.5 150.0h0M370.5 157.0h0M374.0 146.0h0M316.0 157.0h0M326.0 159.5h0M332.0 159.0h0M337.0 163.5h0M344.0 161.0h0M351.5 161.0h0M317.0 163.0h0M315.0 167.0h0M331.0 165.0h0M333.0 169.0h0M344.0 169.0h0M348.0 172.0h0M353.0 171.0h0M357.0 172.0h0M360.0 168.0h0M370.0 173.0h0M315.0 173.0h0M321.0 172.0h0M326.0 172.0h0M338.0 172.0h0M343.0 174.0h0M319.0 178.0h0M325.0 177.0h0M331.0 177.0h0M337.0 177.0h0M346.0 180.0h0M354.0 181.0h0M359.0 180.0h0M367.0 182.0h0M315.0 183.0h0M321.0 184.0h0M327.0 183.0h0M333.0 184.0h0M343.0 185.0h0M348.0 184.0h0M355.0 186.0h0M362.0 186.0h0M371.0 186.0h0M315.0 190.0h0M321.0 190.0h0M327.0 190.0h0M333.0 189.0h0M339.0 190.0h0M345.0 190.0h0M351.0 190.0h0M357.0 190.0h0M364.0 189.0h0M369.0 190.0h0M397.0 135.0h0M394.5 137.5h0M388.0 138.5h0M392.0 139.5h0M382.5 143.0h0M377.0 146.0h0M402.0 142.5h0M435.5 143.5h0M392.5 152.5h0M376.5 154.5h0M382.0 155.5h0M387.0 156.0h0M402.5 157.0h0M396.0 159.0h0M392.0 162.0h0M379.0 161.0h0M381.0 163.0h0M399.0 163.0h0M400.0 167.5h0M426.0 158.0h0M431.0 163.5h0M385.0 168.0h0M390.0 169.0h0M383.0 170.0h0M381.0 173.5h0M410.5 168.5h0M406.0 171.5h0M419.5 172.0h0M425.0 170.0h0M426.5 174.5h0M402.0 176.0h0M399.0 179.0h0M384.0 178.0h0M377.0 180.0h0M385.0 183.0h0M380.0 184.0h0M395.5 185.0h0M418.0 182.0h0M422.0 184.0h0M410.0 186.5h0M413.0 185.0h0M432.0 184.0h0M435.0 187.0h0M386.0 189.0h0M381.0 190.0h0M393.0 190.0h0M400.0 190.0h0M413.0 190.0h0M424.0 190.0h0M431.0 189.0h0M376.0 190.0h0M442.0 134.4h0M448.6 133.6h0M488.6 133.6h0M473.4 139.6h0M438.0 143.6h0M441.4 149.6h0M439.0 155.6h0M446.4 155.2h0M467.0 154.0h0M466.0 156.4h0M484.0 166.6h0M455.2 177.4h0M438.0 188.0h0M447.0 188.0h0M463.6 188.6h0M467.0 191.0h0M465.0 194.0h0M479.8 183.4h0M485.2 185.2h0M477.6 189.2h0M487.2 191.0h0M473.4 195.8h0M485.0 200.0h0M463.0 201.0h0M509.2 186.2h0M517.8 192.4h0M545.2 196.2h0M512.6 204.6h0M456.4 206.6h0M467.0 207.0h0M455.4 210.0h0M457.0 215.0h0M454.0 218.0h0M440.0 216.4h0M488.2 215.0h0M522.8 216.4h0M483.0 224.0h0M473.6 225.2h0M452.2 225.6h0M459.6 227.6h0M443.0 228.0h0M446.0 231.0h0M448.0 234.0h0M465.0 234.4h0M473.0 234.4h0M495.0 228.4h0M493.0 233.0h0M495.4 238.0h0M515.4 239.6h0M532.6 241.4h0M547.6 234.2h0M445.0 240.0h0M444.0 244.0h0M451.0 244.0h0M456.0 246.0h0M460.0 249.6h0M438.0 248.0h0M448.0 250.0h0M478.0 249.0h0M495.6 250.8h0M619.6 151.0h0M591.4 169.0h0M563.6 195.0h0M608.6 238.6h0M638.4 251.6h0M336.1 366.4h0M336.5 343.1h0M342.4 343.4h0M354.4 369.4h0M335.6 325.1h0M372.3 364.8h0M367.0 363.4h0M355.7 317.1h0M358.3 342.7h0M340.7 342.2h0M333.4 358.4h0M350.2 316.2h0M348.6 344.1h0M331.6 353.2h0M318.4 358.1h0M357.1 344.5h0M321.4 342.6h0M316.2 335.9h0M345.8 317.9h0M340.8 339.4h0M363.5 317.2h0M352.8 327.0h0M332.7 351.5h0M322.2 318.9h0M315.6 375.1h0M335.5 354.3h0M314.8 315.4h0M345.0 342.8h0M348.7 370.7h0M352.8 340.8h0M355.6 351.0h0M339.8 324.1h0M325.5 326.1h0M332.5 332.9h0M348.4 341.6h0M327.9 316.8h0M317.5 323.6h0M346.2 366.6h0M335.5 320.7h0M370.7 314.6h0M330.2 340.3h0M374.3 361.0h0M336.3 315.5h0M352.9 363.1h0M349.7 355.6h0M374.1 325.6h0M354.1 314.2h0M330.1 375.3h0M332.9 326.4h0M334.8 350.3h0M335.9 346.1h0M347.7 349.6h0M319.7 340.9h0M349.6 359.0h0M342.8 341.4h0M354.7 344.3h0M371.9 318.3h0M357.6 322.3h0M328.4 362.5h0M324.7 342.2h0M356.6 369.8h0M358.6 346.3h0M355.3 360.8h0M351.5 349.9h0M318.9 338.9h0M353.6 372.0h0M340.9 348.9h0M336.7 330.1h0M364.6 319.8h0M326.3 343.8h0M361.7 356.0h0M358.2 334.0h0M352.9 319.4h0M367.9 319.2h0M368.1 374.1h0M350.7 325.4h0M323.2 364.3h0M363.4 351.3h0M374.6 321.0h0M372.2 361.4h0M330.6 331.7h0M329.2 322.1h0M319.8 331.9h0M325.6 334.9h0M342.8 337.2h0M368.8 331.2h0M314.0 321.0h0M325.3 364.4h0M332.1 363.4h0M358.7 356.6h0M329.3 342.3h0M318.8 371.2h0M323.6 340.1h0M320.6 356.2h0M357.4 338.1h0M374.6 337.2h0M347.7 360.4h0M351.6 360.6h0M371.5 330.8h0M329.3 356.6h0M355.2 324.7h0M339.4 314.2h0M333.9 339.7h0M325.3 375.5h0M326.9 360.6h0M328.0 350.5h0M354.9 339.0h0M370.0 360.8h0M343.0 322.3h0M346.3 338.0h0M343.8 327.9h0M358.7 317.9h0M324.0 324.7h0M326.8 318.5h0M357.2 331.2h0M353.6 359.0h0M314.4 328.9h0M315.3 372.4h0M326.9 323.6h0M326.6 346.1h0M326.3 330.7h0M355.7 355.6h0M370.5 363.1h0M330.3 370.7h0M322.6 322.2h0M323.2 346.7h0M323.5 328.5h0M349.4 362.8h0M353.8 356.9h0M369.4 326.9h0M365.9 350.2h0M336.9 340.9h0M320.1 325.2h0M317.2 327.6h0M314.6 331.6h0M317.5 330.2h0M374.4 349.6h0M374.2 334.0h0M340.9 320.4h0M314.3 318.1h0M360.4 316.8h0M323.7 349.8h0M313.0 373.0h0M345.2 348.6h0M323.0 359.6h0M334.5 317.2h0M342.1 367.8h0M344.1 366.8h0M333.3 328.4h0M320.8 363.5h0M320.1 314.2h0M344.9 345.2h0M339.6 331.7h0M331.0 335.8h0M324.1 320.7h0M322.5 314.2h0M347.8 327.5h0M323.0 372.0h0M350.8 370.1h0M370.3 373.4h0M344.9 351.8h0M342.7 324.9h0M340.6 346.4h0M368.9 339.1h0M322.1 336.9h0M350.7 367.0h0M371.1 358.3h0M370.8 368.7h0M434.7 244.8h0M404.3 208.8h0M415.8 244.6h0M407.8 248.4h0M421.0 200.7h0M406.7 224.9h0M412.1 217.8h0M394.3 230.8h0M435.9 241.8h0M418.4 209.1h0M395.2 225.6h0M410.2 246.0h0M385.8 231.6h0M425.8 201.1h0M408.5 232.0h0M391.7 245.8h0M399.3 226.0h0M384.2 210.6h0M412.1 239.5h0M389.2 235.7h0M402.7 229.8h0M421.9 191.4h0M393.7 234.8h0M433.5 198.4h0M379.7 216.8h0M405.6 246.7h0M413.6 251.0h0M426.4 229.6h0M419.5 193.9h0M425.1 194.9h0M378.7 240.3h0M420.4 244.4h0M411.3 220.3h0M397.3 248.4h0M426.2 244.0h0M399.4 238.1h0M434.7 233.2h0M382.9 194.1h0M426.2 220.5h0M404.0 219.6h0M384.3 251.9h0M427.0 232.7h0M383.9 191.3h0M393.6 204.6h0M418.2 242.8h0M397.0 234.7h0M385.8 193.6h0M436.3 196.8h0M393.9 213.9h0M423.3 210.3h0M384.6 198.2h0M432.2 233.4h0M379.7 201.3h0M410.9 233.5h0M391.5 216.1h0M375.2 202.4h0M388.0 193.4h0M383.9 215.0h0M384.3 203.6h0M387.7 205.4h0M379.8 234.4h0M427.8 234.6h0M391.7 250.6h0M418.3 224.5h0M401.4 250.2h0M396.1 221.9h0M388.7 228.5h0M390.3 194.0h0M415.9 203.0h0M382.9 246.3h0M432.9 193.6h0M423.5 215.7h0M386.0 237.3h0M388.4 197.4h0M427.4 238.8h0M397.1 216.6h0M403.6 236.5h0M393.7 201.0h0M415.9 228.3h0M425.6 224.3h0M416.4 197.1h0M378.1 231.4h0M435.0 237.3h0M430.3 228.2h0M435.9 193.7h0M428.0 240.8h0M397.1 224.0h0M406.5 243.6h0M397.0 252.0h0M432.6 236.4h0M412.8 230.5h0M382.9 201.8h0M395.4 232.8h0M431.0 249.1h0M419.9 240.4h0M412.8 225.9h0M421.1 198.4h0M398.8 208.1h0M416.5 248.7h0M417.7 192.1h0M402.8 222.3h0M406.5 222.4h0M415.1 225.5h0M426.8 211.9h0M393.5 219.0h0M378.6 203.4h0M379.3 211.2h0M409.8 217.7h0M404.8 217.3h0M416.1 223.4h0M429.2 245.6h0M383.8 208.6h0M392.8 193.0h0M386.4 191.1h0M406.0 235.2h0M408.9 204.4h0M376.0 222.1h0M395.1 248.1h0M413.3 194.0h0M414.7 199.5h0M382.9 249.8h0M390.7 240.3h0M424.0 228.2h0M389.5 223.8h0M403.3 251.3h0M390.3 204.8h0M382.5 229.5h0M376.0 234.9h0M415.9 209.5h0M434.4 190.8h0M432.5 195.9h0M422.1 219.5h0M422.3 243.3h0M377.4 244.1h0M415.8 206.4h0M391.9 197.9h0M375.4 241.3h0M386.1 233.8h0M389.9 219.0h0M408.1 226.7h0M405.0 229.5h0M430.7 237.6h0M417.7 200.5h0M409.5 202.3h0M386.9 216.7h0M405.6 199.5h0M389.1 211.3h0M408.5 221.6h0M422.5 202.7h0M376.6 227.2h0M421.3 213.7h0M403.2 191.4h0M429.9 230.5h0M427.2 193.6h0M378.4 208.7h0M415.7 192.8h0M420.5 220.9h0M419.7 190.7h0M395.1 193.6h0M404.8 238.2h0M422.8 197.1h0M390.7 221.5h0M392.2 224.4h0M422.6 253.8h0M422.3 274.1h0M395.2 286.2h0M398.3 283.5h0M425.9 254.9h0M377.2 271.7h0M419.6 271.0h0M404.5 263.1h0M424.5 276.1h0M397.3 307.2h0M394.6 296.2h0M414.1 257.3h0M426.7 303.1h0M381.2 256.5h0M396.7 273.6h0M425.9 307.9h0M423.8 288.5h0M382.4 262.9h0M395.2 271.8h0M411.8 312.8h0M389.7 309.4h0M417.1 262.0h0M422.9 270.7h0M432.5 282.9h0M434.6 272.2h0M376.3 300.1h0M419.3 306.8h0M375.0 305.5h0M414.9 275.2h0M397.6 312.8h0M416.4 266.9h0M428.5 294.4h0M409.4 302.6h0M389.6 254.4h0M434.8 290.0h0M400.6 254.3h0M425.1 272.6h0M405.5 256.9h0M391.4 270.0h0M377.7 312.5h0M395.5 292.9h0M428.5 256.5h0M412.0 308.2h0M387.6 312.7h0M410.4 255.4h0M425.0 300.3h0M401.9 277.0h0M420.1 287.2h0M436.5 307.8h0M393.7 289.9h0M393.4 307.8h0M433.6 278.8h0M403.6 279.4h0M395.6 278.4h0M404.0 289.3h0M421.8 309.6h0M381.0 274.2h0M378.3 286.2h0M380.0 271.1h0M400.1 302.9h0M417.1 255.8h0M420.7 283.0h0M433.3 307.3h0M376.2 279.3h0M406.5 304.0h0M423.0 299.9h0M410.5 294.2h0M420.2 266.0h0M426.8 267.5h0M386.7 275.1h0M420.3 256.9h0M384.1 254.0h0M436.1 312.6h0M398.3 296.1h0M398.9 280.2h0M428.3 273.6h0M427.5 253.3h0M382.2 296.6h0M403.8 282.0h0M429.1 259.5h0M436.9 269.8h0M402.3 313.3h0M429.0 307.5h0M399.5 291.2h0M426.9 288.1h0M418.1 265.2h0M431.6 275.7h0M408.5 257.7h0M430.9 313.8h0M416.4 270.2h0M379.7 268.4h0M422.0 276.1h0M385.0 271.7h0M417.0 272.6h0M386.9 309.3h0M377.1 288.9h0M385.0 291.9h0M406.8 290.8h0M435.7 255.9h0M417.0 305.8h0M415.0 291.6h0M403.0 300.4h0M414.6 262.6h0M418.1 309.1h0M435.6 253.0h0M434.4 281.9h0M396.1 255.7h0M428.9 299.5h0M399.9 272.8h0M415.3 252.9h0M429.2 309.9h0M385.7 298.1h0M411.8 257.8h0M396.2 275.6h0M415.7 309.3h0M407.4 259.4h0M375.7 264.8h0M390.7 279.8h0M426.3 313.8h0M390.4 314.0h0M381.4 285.8h0M386.3 303.6h0M422.3 305.5h0M375.9 275.3h0M401.7 288.8h0M401.2 296.9h0M400.9 257.3h0M390.9 257.3h0M384.4 296.2h0M431.6 287.9h0M409.5 263.4h0M424.3 265.7h0M419.7 291.9h0M426.6 298.7h0M420.3 261.1h0M387.5 289.0h0M419.2 274.2h0M424.0 296.0h0M411.2 306.1h0M424.9 291.8h0M432.9 270.8h0M388.6 272.9h0M418.7 295.5h0M426.1 305.6h0M380.3 299.3h0M435.7 279.3h0M418.2 277.8h0M403.5 255.9h0M391.4 267.3h0M382.5 290.4h0M413.8 305.3h0M389.6 252.0h0M395.5 289.0h0M426.3 262.1h0M379.3 275.9h0M390.3 295.5h0M405.1 253.8h0M422.5 255.9h0M426.8 264.2h0M400.7 261.7h0M414.1 310.7h0M378.0 317.0h0M377.0 322.0h0M378.0 327.0h0M377.0 332.0h0M381.0 334.0h0M387.0 316.0h0M399.0 316.0h0M404.0 315.5h0M398.0 318.0h0M385.0 324.0h0M390.0 323.0h0M395.0 325.0h0M400.0 327.0h0M388.0 329.0h0M392.0 329.0h0M386.0 334.0h0M391.0 333.0h0M383.0 337.0h0M380.0 340.0h0M411.0 317.0h0M417.0 319.0h0M410.0 322.0h0M412.0 325.5h0M419.0 323.5h0M430.0 316.0h0M432.0 320.0h0M426.0 326.5h0M422.0 330.0h0M434.0 328.0h0M431.0 332.0h0M427.0 336.0h0M400.0 337.5h0M405.0 336.0h0M410.0 333.0h0M415.0 332.0h0M419.0 335.0h0M407.0 340.0h0M403.0 343.0h0M415.0 342.0h0M419.0 344.0h0M402.0 347.0h0M413.0 346.0h0M388.0 343.0h0M393.0 343.0h0M384.0 346.0h0M381.0 349.0h0M378.0 354.0h0M383.0 353.0h0M391.0 351.0h0M431.0 347.5h0M405.0 355.0h0M401.0 356.0h0M398.0 359.0h0M429.0 355.0h0M434.0 356.0h0M431.0 360.0h0M382.0 362.0h0M388.0 362.0h0M376.0 364.0h0M385.0 367.0h0M394.0 366.5h0M401.0 363.0h0M404.0 366.0h0M408.0 368.0h0M405.0 371.0h0M401.0 374.0h0M429.0 366.0h0M377.0 372.0h0M385.0 374.5h0M422.0 373.0h0M427.0 373.0h0M419.0 375.0h0M378.7 315.0h0M376.4 328.3h0M380.5 336.1h0M378.5 338.0h0M375.5 339.7h0M384.8 316.4h0M394.2 315.4h0M390.9 316.1h0M403.3 317.6h0M397.0 315.9h0M383.0 325.0h0M389.0 331.0h0M388.0 326.9h0M388.1 333.5h0M384.1 332.5h0M383.5 339.3h0M377.7 340.1h0M413.2 316.5h0M411.5 319.0h0M408.2 320.8h0M417.0 323.7h0M432.0 316.2h0M430.6 318.2h0M419.7 329.3h0M436.2 327.2h0M433.9 325.7h0M426.8 338.1h0M406.0 337.8h0M408.2 334.2h0M416.6 334.4h0M400.7 342.4h0M417.0 342.7h0M420.9 343.2h0M400.0 348.2h0M402.2 349.2h0M386.4 344.6h0M390.8 343.8h0M381.7 345.0h0M379.0 348.2h0M379.6 352.5h0M376.0 353.4h0M382.0 351.2h0M393.0 351.3h0M432.3 345.8h0M403.6 356.7h0M407.1 356.1h0M402.8 354.3h0M426.8 355.2h0M429.1 360.8h0M430.6 362.3h0M382.5 364.0h0M389.9 360.6h0M389.4 363.6h0M392.7 368.2h0M392.1 365.5h0M398.8 364.0h0M406.3 366.2h0M403.4 369.8h0M401.8 371.8h0M430.7 364.9h0M427.4 364.7h0M377.7 373.9h0M379.2 370.9h0M387.1 374.8h0M423.5 374.8h0M424.0 372.5h0M428.1 371.0h0M457.0 251.0h0M468.0 256.0h0M453.0 259.6h0M461.4 261.0h0M479.0 261.0h0M483.0 257.0h0M486.0 259.6h0M539.4 260.6h0M556.6 260.6h0M532.6 267.2h0M550.0 267.0h0M557.0 273.0h0M440.0 266.0h0M447.0 264.0h0M455.0 264.0h0M448.0 271.0h0M455.0 271.6h0M459.4 270.8h0M473.0 272.0h0M476.0 270.0h0M488.6 271.0h0M441.0 276.0h0M445.0 278.0h0M452.0 280.0h0M467.0 279.0h0M439.0 284.0h0M442.0 286.0h0M452.0 282.0h0M465.0 286.0h0M468.0 285.0h0M475.0 283.6h0M478.0 288.0h0M508.0 275.4h0M514.2 278.6h0M503.0 282.0h0M497.0 285.0h0M504.6 286.6h0M494.0 291.0h0M498.0 289.0h0M512.0 294.0h0M515.4 291.6h0M454.0 289.0h0M441.0 296.0h0M446.0 297.0h0M455.0 295.0h0M460.0 293.0h0M469.4 295.2h0M523.4 300.4h0M530.4 296.6h0M551.0 299.6h0M549.6 306.6h0M551.6 305.0h0M473.0 302.4h0M481.0 304.0h0M489.4 303.6h0M501.6 303.6h0M446.0 309.6h0M453.4 308.0h0M459.0 310.0h0M456.0 312.4h0M480.0 313.0h0M531.8 316.0h0M448.6 319.4h0M442.0 333.0h0M442.0 336.0h0M448.0 335.6h0M451.6 331.6h0M456.0 337.0h0M457.4 339.0h0M498.0 336.0h0M507.4 331.6h0M531.6 336.4h0M559.4 358.6h0M438.6 357.0h0M456.4 355.6h0M465.2 357.0h0M438.6 365.6h0M456.0 364.6h0M447.4 369.0h0M459.4 371.0h0M568.0 302.4h0M609.4 311.2h0M294.3 361.4h0M296.3 365.3h0M257.5 368.5h0M256.8 370.6h0M283.9 359.3h0M284.2 374.9h0M269.1 369.4h0M251.3 360.6h0M300.3 366.4h0M251.7 377.7h0M287.6 360.8h0M292.0 376.2h0M254.3 364.1h0M251.7 366.7h0M260.4 372.0h0M300.2 361.0h0M261.2 361.1h0M308.4 359.7h0M311.7 377.3h0M255.2 369.2h0M272.3 377.9h0M285.8 372.5h0M277.4 374.2h0M252.0 363.9h0M253.5 360.5h0M281.0 367.5h0M295.1 369.8h0M264.2 368.5h0M296.4 379.9h0M289.6 362.7h0M276.0 377.6h0M276.3 361.5h0M292.4 366.6h0M287.8 371.8h0M296.8 358.4h0M264.2 370.9h0M297.2 371.1h0M290.4 366.1h0M304.0 368.0h0M276.0 380.0h0M292.2 380.0h0M284.1 379.6h0M306.7 360.9h0M272.0 373.8h0M253.5 379.6h0M251.8 370.4h0M293.1 371.6h0M270.2 359.6h0M276.0 366.5h0M289.7 360.5h0M290.4 378.5h0M264.6 360.3h0M274.4 374.6h0M312.7 375.0h0M257.6 362.3h0M283.5 377.1h0M292.3 361.7h0M291.6 369.4h0M306.7 358.5h0M277.4 370.5h0M285.5 362.5h0M280.8 376.9h0M286.8 374.7h0M304.5 360.9h0M257.8 360.2h0M278.7 359.1h0M304.5 364.9h0M270.9 370.8h0M254.1 372.4h0M311.6 361.5h0M253.0 422.0h0M257.0 422.0h0M253.0 426.0h0M257.0 427.0h0M266.0 425.0h0M271.0 425.0h0M275.0 425.0h0M267.0 428.0h0M273.0 428.0h0M261.0 432.5h0M269.0 434.5h0M288.5 428.5h0M287.5 432.5h0M301.0 424.0h0M302.0 421.0h0M308.0 423.5h0M311.0 435.0h0M290.0 438.5h0M291.0 441.0h0M272.4 383.2h0M276.5 382.4h0M282.9 382.4h0M274.0 388.9h0M278.9 387.3h0M281.3 392.1h0M271.6 396.1h0M274.8 400.2h0M279.7 403.4h0M283.7 397.7h0M286.1 401.0h0M286.9 405.8h0M286.1 409.0h0M290.2 409.8h0M291.8 414.7h0M294.2 412.3h0M297.4 413.1h0M273.2 412.3h0M279.7 413.1h0M295.8 396.1h0M300.6 400.6h0M298.2 406.2h0M295.0 382.4h0M299.0 386.5h0M298.2 388.9h0M306.3 388.5h0M311.9 384.8h0M306.3 407.4h0M310.3 405.0h0M313.0 413.9h0M311.9 417.1h0M302.3 418.7h0M305.5 417.9h0M310.3 397.3h0M253.0 382.0h0M258.0 382.0h0M253.0 387.0h0M258.0 387.0h0M253.0 392.0h0M258.0 392.0h0M253.0 397.0h0M258.0 397.0h0M264.0 383.0h0M267.0 392.0h0M257.4 399.0h0M252.6 406.8h0M259.4 401.0h0M266.1 406.8h0M255.5 418.0h0M251.0 414.0h0M262.0 396.0h0M289.0 385.0h0M292.0 390.0h0M286.0 388.0h0M315.0 378.0h0M325.0 379.0h0M333.0 377.0h0M337.0 377.0h0M343.4 379.0h0M357.0 377.0h0M373.0 376.5h0M385.0 376.5h0M408.0 377.0h0M316.0 384.0h0M319.0 386.0h0M331.0 385.0h0M328.0 391.0h0M333.0 391.0h0M315.0 395.0h0M324.0 396.0h0M324.0 399.0h0M329.0 396.0h0M341.0 387.0h0M345.0 389.6h0M358.2 384.0h0M371.0 383.6h0M374.0 383.6h0M391.6 384.2h0M405.6 384.4h0M353.0 394.0h0M357.4 391.6h0M363.8 396.6h0M374.4 397.0h0M389.2 396.0h0M408.6 398.4h0M421.2 396.0h0M428.2 404.2h0M347.0 403.0h0M353.0 403.0h0M360.0 403.6h0M366.0 403.6h0M386.0 406.8h0M394.6 410.4h0M318.6 408.0h0M328.0 410.0h0M329.0 413.0h0M319.0 414.0h0M315.0 418.0h0M321.0 417.0h0M325.0 419.0h0M326.0 424.0h0M344.4 414.4h0M358.0 414.0h0M361.0 411.6h0M381.8 423.0h0M340.0 428.4h0M338.0 433.0h0M332.0 434.0h0M328.0 434.0h0M362.0 429.0h0M365.6 427.0h0M365.4 437.2h0M325.0 439.6h0M321.0 446.4h0M313.5 435.0h0M313.5 445.0h0M381.8 451.6h0M383.2 461.4h0M408.2 445.6h0M413.4 450.8h0M323.6 494.0h0M450.4 376.3h0M467.0 376.3h0M450.0 382.5h0M446.8 390.1h0M478.6 384.7h0M490.2 380.0h0M459.8 427.4h0M489.9 425.6h0M563.7 427.8h0M471.4 517.5h0M193.3 397.5h0M178.2 379.8h0M191.2 404.2h0M208.9 392.5h0M213.6 375.6h0M216.9 376.0h0M215.7 353.6h0M212.5 390.1h0M206.9 358.9h0M198.6 388.7h0M218.0 348.7h0M189.9 388.3h0M185.6 386.7h0M200.1 390.5h0M195.2 391.3h0M219.1 365.5h0M204.4 356.2h0M162.7 376.8h0M205.3 354.2h0M200.5 367.4h0M174.3 372.1h0M219.9 362.6h0M205.6 387.4h0M184.3 376.6h0M177.4 390.5h0M214.7 379.1h0M204.7 365.3h0M175.1 387.3h0M174.0 368.1h0M163.3 357.9h0M163.7 363.9h0M176.0 401.7h0M170.5 386.1h0M180.9 368.4h0M206.1 394.4h0M167.4 363.3h0M219.3 407.1h0M165.6 401.8h0M207.7 377.5h0M200.7 376.8h0M166.9 398.8h0M192.0 352.8h0M208.6 394.5h0M209.7 400.4h0M208.2 402.4h0M190.5 360.3h0M187.2 359.7h0M214.4 357.5h0M173.4 406.5h0M158.3 376.0h0M178.1 403.6h0M196.9 356.7h0M188.9 372.2h0M204.9 358.6h0M217.9 372.3h0M211.9 358.6h0M183.7 404.8h0M182.0 351.6h0M183.3 374.7h0M189.1 364.8h0M162.0 359.7h0M189.0 377.1h0M186.6 352.0h0M167.6 350.5h0M176.8 353.9h0M188.5 362.7h0M215.6 366.0h0M196.2 402.4h0M173.0 350.2h0M184.2 361.6h0M216.9 394.0h0M179.2 351.1h0M204.3 408.8h0M176.1 377.1h0M196.8 397.4h0M166.1 389.8h0M193.3 406.5h0M176.6 405.8h0M193.4 359.6h0M213.8 409.7h0M188.4 383.7h0M163.9 349.7h0M193.2 387.3h0M211.7 364.8h0M164.7 399.1h0M210.6 408.3h0M217.0 360.5h0M212.6 403.3h0M192.6 408.4h0M179.4 390.1h0M206.1 361.7h0M187.9 348.6h0M201.7 388.5h0M202.4 379.4h0M212.1 356.1h0M189.0 379.3h0M218.6 392.0h0M210.2 382.7h0M162.3 351.9h0M180.3 387.2h0M181.8 349.4h0M174.1 361.5h0M193.8 399.9h0M173.6 394.0h0M174.6 355.3h0M181.1 373.6h0M209.8 406.3h0M177.4 367.6h0M182.5 364.7h0M205.3 352.1h0M191.0 349.8h0M214.0 388.1h0M210.9 353.4h0M208.7 363.3h0M188.1 408.6h0M200.0 386.9h0M195.8 348.4h0M206.1 406.7h0M182.2 385.0h0M215.1 373.6h0M169.1 405.9h0M168.3 389.0h0M196.3 409.3h0M213.1 350.0h0M179.2 355.2h0M158.0 379.5h0M204.1 350.4h0M216.8 383.4h0M216.4 358.3h0M188.9 396.7h0M176.7 363.8h0M184.1 401.6h0M182.0 396.9h0M178.6 407.2h0M168.8 368.8h0M193.1 392.6h0M200.2 353.7h0M208.5 352.8h0M194.6 394.4h0M171.9 404.5h0M188.5 404.4h0M208.4 388.9h0M171.5 356.8h0M185.7 396.2h0M201.5 399.8h0M212.6 378.5h0M215.5 370.4h0M213.2 362.7h0M199.5 363.9h0M159.1 363.0h0M184.9 357.7h0M184.2 352.5h0M199.9 359.0h0M174.2 358.6h0M174.6 365.3h0M163.4 355.0h0M196.6 360.8h0M172.1 369.7h0M177.6 373.0h0M171.0 393.6h0M208.9 357.1h0M189.4 354.7h0M172.8 390.3h0M193.0 371.4h0M209.7 377.6h0M183.6 348.2h0M168.7 357.4h0M175.9 381.2h0M168.7 372.5h0M185.6 382.4h0M176.3 374.6h0M213.7 383.5h0M188.6 368.0h0M208.1 409.2h0M175.2 409.1h0M173.7 378.1h0M219.4 383.1h0M204.2 405.9h0M219.7 375.4h0M179.7 376.2h0M206.7 381.9h0M210.5 385.0h0M194.0 389.3h0M179.8 371.5h0M173.9 384.3h0M207.3 399.6h0M177.7 410.0h0M302.3 137.7h0M300.9 144.0h0M310.0 137.9h0M282.4 146.7h0M309.0 142.5h0M312.5 137.0h0M306.2 145.2h0M297.2 136.8h0M306.1 142.6h0M282.7 143.7h0M298.6 147.1h0M291.7 145.7h0M306.0 98.5h0M300.0 111.5h0M299.5 114.0h0M311.0 118.5h0M296.0 120.0h0M291.0 126.0h0M304.0 123.5h0M289.0 131.0h0M298.0 128.0h0M303.0 131.0h0M311.0 131.0h0M306.0 136.0h0M293.0 139.0h0M285.0 137.0h0M279.0 146.0h0M296.0 146.0h0M311.0 147.0h0M289.0 148.0h0M156.0 356.0h0M153.0 361.0h0M147.0 365.6h0M148.0 372.4h0M155.0 372.0h0M154.0 375.0h0M153.0 382.0h0M153.0 389.0h0M158.0 389.0h0M130.0 395.6h0M143.0 401.6h0M147.0 405.0h0M158.0 401.0h0M159.0 403.6h0M152.0 416.0h0M154.0 419.0h0M155.0 423.0h0M156.0 426.0h0M116.4 423.4h0M166.0 435.2h0M169.0 413.0h0M177.0 412.0h0M179.0 415.0h0M187.0 422.0h0M185.0 380.0h0M185.0 366.0h0M124.7 450.5h0M141.8 463.5h0M180.1 446.1h0M179.4 450.5h0M188.1 470.4h0M179.4 478.4h0M202.9 479.8h0M221.0 479.8h0M193.5 441.4h0M199.0 440.3h0M201.9 442.5h0M208.4 441.1h0M210.5 437.8h0M223.2 457.7h0M225.4 436.7h0M227.6 442.5h0M236.6 443.2h0M242.4 441.8h0M237.0 453.7h0M242.8 454.5h0M240.6 472.6h0M246.0 485.6h0M272.1 445.1h0M275.0 437.4h0M280.0 442.5h0M281.1 448.0h0M286.6 448.7h0M295.3 446.9h0M301.1 439.6h0M302.5 442.5h0M311.2 444.0h0M284.8 457.7h0M289.5 464.2h0M302.1 462.1h0M195.0 405.0h0M204.5 400.0h0M200.0 414.0h0M209.0 417.0h0M213.0 416.0h0M211.0 420.0h0M223.0 401.0h0M223.0 403.0h0M230.0 400.5h0M223.5 409.5h0M222.0 416.0h0M224.0 417.0h0M229.0 413.5h0M233.0 412.0h0M235.0 420.0h0M215.0 426.0h0M193.5 426.5h0M196.0 431.0h0M210.0 433.0h0M199.0 437.5h0M243.0 423.0h0M246.5 432.5h0M250.0 425.0h0M248.0 415.0h0M240.0 409.0h0M245.0 410.0h0M249.0 408.0h0M238.0 405.0h0M242.0 404.0h0M247.0 403.0h0M237.0 396.0h0M243.0 397.0h0M249.0 396.0h0M219.0 395.0h0M211.0 395.0h0M191.0 379.0h0M209.0 380.0h0M221.0 378.0h0M228.0 380.0h0M234.0 379.0h0M240.0 378.0h0M245.0 380.0h0M191.0 384.0h0M197.0 386.0h0M203.0 385.0h0M222.0 384.0h0M227.0 386.0h0M231.0 384.0h0M237.0 383.0h0M243.0 384.0h0M249.0 384.0h0M192.0 390.0h0M205.0 391.0h0M222.0 391.0h0M227.0 391.0h0M231.0 390.0h0M237.0 392.0h0M242.0 391.0h0M247.0 390.0h0" stroke="#7aac30" stroke-width="6" stroke-linecap="round" fill="none"/>
<path d="M225.7 210.8h0M158.0 312.8h0M205.4 240.2h0M154.9 215.1h0M242.4 194.3h0M212.4 243.1h0M184.0 241.2h0M217.0 195.5h0M163.0 279.1h0M212.6 235.7h0M161.5 227.1h0M225.0 166.5h0M170.3 225.5h0M169.1 214.6h0M182.8 220.3h0M161.0 203.2h0M221.9 220.7h0M212.9 190.8h0M176.2 201.4h0M217.8 225.9h0M240.1 159.4h0M231.0 175.1h0M221.0 190.7h0M214.9 158.6h0M213.0 237.6h0M154.7 310.5h0M173.6 308.7h0M228.2 166.3h0M263.5 156.4h0M212.9 242.3h0M222.0 226.6h0M194.9 271.4h0M176.0 253.9h0M249.1 166.4h0M193.8 271.9h0M197.0 229.1h0M174.9 292.2h0M243.8 158.1h0M235.1 162.6h0M185.8 255.6h0M195.5 246.2h0M169.9 250.6h0M203.6 226.9h0M205.2 199.1h0M209.7 201.0h0M222.4 159.8h0M173.7 269.1h0M212.1 222.5h0M184.9 211.8h0M220.8 198.3h0M212.0 238.7h0M242.8 155.0h0M224.6 227.1h0M174.5 197.8h0M185.1 209.1h0M174.6 242.3h0M226.6 211.2h0M176.3 235.6h0M163.8 315.3h0M156.3 291.4h0M195.4 250.7h0M171.8 293.7h0M189.7 276.2h0M185.7 228.9h0M212.3 201.2h0M239.1 180.0h0M185.6 257.6h0M246.7 166.2h0M179.5 273.1h0M171.0 289.7h0M228.5 198.4h0M202.0 161.1h0M201.1 225.4h0M180.9 280.4h0M224.4 191.7h0M233.9 211.6h0M234.2 181.8h0M219.9 203.9h0M206.0 253.5h0M187.9 247.2h0M202.9 216.0h0M197.3 223.5h0M190.6 159.3h0M209.8 223.3h0M160.1 208.2h0M160.6 256.0h0M201.0 191.6h0M184.3 220.8h0M197.5 264.1h0M249.4 183.0h0M177.5 223.3h0M162.6 298.4h0M188.8 220.9h0M183.4 251.3h0M171.9 280.1h0M211.2 246.4h0M192.9 243.2h0M193.6 184.7h0M188.5 223.8h0M185.6 199.3h0M191.4 249.5h0M215.3 199.8h0M237.6 169.0h0M211.3 243.0h0M222.1 224.5h0M177.5 214.0h0M160.5 213.0h0M175.7 310.4h0M213.2 226.8h0M240.9 188.9h0M158.2 235.3h0M203.8 255.7h0M191.9 182.1h0M212.9 196.4h0M212.5 181.4h0M196.9 240.8h0M157.1 226.8h0M177.1 278.9h0M216.8 227.0h0M152.0 262.0h0M174.9 259.1h0M198.5 221.7h0M178.9 224.7h0M179.2 203.3h0M182.1 261.6h0M214.5 176.6h0M249.5 175.3h0M225.5 151.7h0M218.0 237.7h0M188.0 257.6h0M163.3 247.8h0M175.4 240.8h0M187.2 213.9h0M189.7 251.2h0M201.3 183.9h0M202.1 188.2h0M180.6 287.6h0M170.0 212.4h0M175.9 195.4h0M206.2 220.6h0M209.6 244.1h0M202.6 158.5h0M177.9 278.7h0M228.1 190.2h0M185.8 246.6h0M211.8 238.1h0M173.1 202.1h0M200.6 232.1h0M155.8 288.1h0M179.6 191.0h0M158.2 213.6h0M198.2 260.2h0M198.9 261.1h0M247.3 187.4h0M162.8 281.0h0M184.5 252.7h0M224.5 193.7h0M176.8 273.1h0M240.5 180.9h0M170.0 300.4h0M246.1 182.9h0M242.5 151.8h0M220.0 208.6h0M203.1 155.1h0M179.3 249.5h0M155.0 282.7h0M165.2 203.8h0M227.3 158.7h0M193.0 215.0h0M173.1 292.6h0M206.4 219.2h0M188.6 269.7h0M233.6 194.7h0M154.0 250.9h0M235.2 184.7h0M218.2 188.7h0M175.6 263.8h0M193.9 255.5h0M217.0 179.5h0M240.6 199.0h0M173.2 251.7h0M228.9 180.8h0M183.6 235.5h0M192.0 233.4h0M192.7 244.1h0M246.3 168.1h0M193.1 242.6h0M181.3 193.9h0M180.3 206.3h0M207.1 210.6h0M173.1 236.1h0M200.7 223.1h0M210.0 178.2h0M176.9 253.4h0M224.7 159.3h0M203.6 241.8h0M159.4 303.2h0M193.2 279.3h0M150.3 270.1h0M173.1 273.9h0M223.6 218.7h0M218.0 152.4h0M199.9 166.5h0M186.7 243.3h0M194.3 195.7h0M168.7 279.5h0M249.3 179.5h0M169.5 257.7h0M192.8 205.1h0M189.5 279.2h0M208.4 202.2h0M238.6 195.4h0M247.9 172.7h0M228.3 205.9h0M227.5 216.9h0M175.0 228.3h0M187.0 227.4h0M224.3 201.0h0M189.2 277.8h0M166.0 322.9h0M190.4 184.2h0M171.2 263.5h0M190.8 204.2h0M206.4 237.0h0M158.3 214.7h0M182.8 247.4h0M189.6 246.6h0M227.7 183.5h0M228.8 209.1h0M220.2 223.9h0M190.0 233.0h0M206.2 190.5h0M187.8 215.4h0M176.5 232.3h0M162.4 245.0h0M199.1 154.0h0M211.4 225.6h0M158.3 318.0h0M172.0 235.7h0M237.3 172.8h0M186.1 245.8h0M181.0 211.6h0M189.7 241.9h0M162.7 210.1h0M163.7 213.5h0M194.0 241.3h0M214.6 205.4h0M190.9 175.1h0M235.8 197.9h0M189.1 283.6h0M184.1 293.3h0M167.0 251.4h0M253.3 178.6h0M196.0 258.3h0M226.4 164.8h0M174.4 297.5h0M181.3 260.7h0M206.6 222.5h0M172.2 282.2h0M215.0 168.1h0M165.1 244.8h0M187.5 273.4h0M238.3 164.6h0M202.2 191.2h0M231.3 211.2h0M219.2 207.7h0M261.3 159.0h0M185.3 280.0h0M241.6 166.1h0M199.3 207.7h0M201.1 240.0h0M197.0 248.7h0M179.4 251.5h0M170.6 265.4h0M224.7 200.7h0M188.8 257.5h0M243.9 178.0h0M210.4 199.0h0M168.0 253.9h0M207.8 233.6h0M183.5 241.8h0M195.9 191.3h0M173.2 293.9h0M229.5 174.8h0M196.6 253.8h0M166.1 293.3h0M185.4 256.6h0M186.4 252.2h0M177.1 222.2h0M235.0 189.1h0M182.7 277.7h0M208.3 223.1h0M179.3 225.6h0M196.7 269.2h0M237.0 201.4h0M161.9 269.5h0M252.4 164.0h0M243.7 168.0h0M226.5 202.2h0M190.2 276.6h0M166.8 311.2h0M171.9 298.8h0M184.4 213.4h0M169.9 204.8h0M200.4 155.4h0M225.3 195.2h0M168.5 211.8h0M168.3 235.1h0M209.4 227.5h0M182.2 290.7h0M196.8 233.9h0M172.0 211.5h0M196.0 176.3h0M208.2 255.2h0M194.5 220.9h0M229.2 179.9h0M167.9 323.2h0M199.0 264.7h0M179.4 275.0h0M217.3 193.4h0M201.9 195.7h0M194.2 275.8h0M171.4 199.8h0M177.7 214.0h0M173.1 308.0h0M240.0 201.0h0M192.6 281.5h0M251.9 178.3h0M168.4 293.6h0M159.0 231.0h0M163.4 232.7h0M166.8 267.3h0M180.3 264.3h0M171.2 296.4h0M223.0 225.1h0M223.9 207.3h0M204.6 238.3h0M208.6 207.8h0M189.4 283.6h0M167.6 241.8h0M188.5 262.4h0M176.2 309.2h0M229.0 173.5h0M208.2 241.7h0M220.8 206.7h0M237.8 196.0h0M236.9 152.3h0M195.0 226.5h0M183.6 234.0h0M216.8 172.7h0M212.9 213.1h0M184.0 240.6h0M164.2 296.0h0M225.7 188.7h0M200.7 162.5h0M177.3 275.0h0M204.1 171.4h0M199.5 261.8h0M222.2 180.8h0M197.5 224.5h0M192.7 270.8h0M195.5 175.5h0M216.2 158.7h0M207.7 230.6h0M218.3 179.9h0M229.4 212.0h0M190.0 221.9h0M230.4 195.3h0M200.4 233.3h0M222.7 212.4h0M194.1 273.5h0M187.5 190.6h0M209.0 196.4h0M167.6 231.1h0M216.4 209.3h0M234.7 205.7h0M209.2 238.0h0M215.1 176.0h0M233.2 194.3h0M192.6 151.8h0M158.2 310.1h0M184.0 294.2h0M178.5 222.2h0M222.7 225.6h0M239.6 184.0h0M242.6 184.6h0M177.1 296.2h0M174.7 277.1h0M202.7 259.5h0M197.3 170.4h0M190.5 282.0h0M220.9 206.6h0M218.7 180.8h0M170.8 239.8h0M217.3 190.9h0M158.1 251.1h0M213.6 245.0h0M253.8 169.5h0M157.5 209.7h0M223.8 199.2h0M241.9 173.8h0M208.0 248.1h0M261.8 160.7h0M183.9 276.7h0M182.5 276.7h0M237.6 171.3h0M228.9 203.2h0M188.9 236.0h0M205.6 255.7h0M208.3 249.0h0M191.7 245.5h0M157.2 302.3h0M221.3 221.4h0M257.0 169.2h0M219.2 197.2h0M211.6 196.6h0M236.7 159.2h0M213.1 224.6h0M175.8 258.5h0M167.2 261.2h0M161.7 192.6h0M193.1 214.8h0M169.0 307.0h0M247.2 182.2h0M158.7 276.1h0M193.8 226.0h0M195.6 268.7h0M185.3 248.3h0M189.2 262.3h0M165.0 246.6h0M155.0 275.6h0M150.6 298.3h0M213.8 203.4h0M200.7 231.0h0M201.0 158.7h0M198.0 202.8h0M152.3 232.8h0M228.2 212.1h0M200.0 244.0h0M177.3 277.9h0M175.0 271.3h0M173.7 314.0h0M225.7 207.8h0M218.0 226.9h0M171.8 282.4h0M177.0 196.9h0M178.7 226.5h0M172.8 248.2h0M209.8 203.7h0M177.1 232.8h0M233.8 197.0h0M182.8 264.7h0M189.1 181.8h0M233.7 203.9h0M188.1 263.5h0M161.0 267.8h0M221.3 196.6h0M222.4 168.7h0M207.3 231.8h0M223.8 196.6h0M236.1 208.1h0M239.5 166.1h0M157.3 304.7h0M159.4 325.9h0M165.5 192.4h0M209.7 189.2h0M200.1 184.8h0M229.5 153.4h0M200.1 166.1h0M169.1 271.0h0M212.9 203.5h0M184.6 202.3h0M212.9 232.1h0M182.7 216.5h0M201.0 238.2h0M202.5 243.0h0M175.8 306.0h0M220.5 208.7h0M190.9 266.6h0M235.1 177.8h0M194.9 243.2h0M214.2 181.0h0M220.8 229.2h0M213.5 223.0h0M158.8 320.7h0M160.8 280.6h0M220.1 203.8h0M247.4 184.2h0M185.4 193.0h0M264.3 156.4h0M184.7 193.1h0M211.2 196.8h0M227.7 183.8h0M200.6 244.9h0M199.5 180.3h0M158.9 266.7h0M154.8 235.7h0M151.4 269.6h0M167.3 253.1h0M184.1 237.1h0M227.9 207.6h0M220.8 174.3h0M183.5 199.5h0M159.4 267.1h0M243.4 171.7h0M241.9 188.0h0M202.2 169.8h0M191.1 187.4h0M188.1 265.5h0M199.5 238.3h0M178.5 249.6h0M191.3 277.5h0M171.0 246.9h0M209.3 236.3h0M152.6 271.0h0M191.4 244.8h0M185.6 234.1h0M173.7 297.8h0M189.9 172.4h0M189.0 280.5h0M151.6 270.1h0M180.1 238.1h0M222.1 228.5h0M200.5 262.1h0M229.9 163.1h0M191.3 254.4h0M154.8 261.4h0M200.2 267.9h0M226.3 209.0h0M202.3 256.0h0M156.1 234.0h0M198.8 257.1h0M177.9 301.3h0M163.6 201.3h0M205.1 233.0h0M255.1 169.6h0M171.9 241.2h0M180.9 278.4h0M210.6 237.1h0M218.6 219.1h0M238.8 193.4h0M157.4 289.5h0M177.5 263.2h0M194.5 182.3h0M204.9 255.5h0M221.7 169.8h0M203.0 168.3h0M241.8 195.2h0M210.9 223.4h0M232.7 209.2h0M177.4 295.0h0M228.0 197.6h0M248.0 177.3h0M210.6 234.2h0M204.7 259.5h0M182.6 219.9h0M167.0 252.6h0M233.6 166.5h0M181.4 283.4h0M201.6 211.2h0M175.1 234.0h0M213.6 225.7h0M207.8 159.5h0M177.3 228.0h0M190.6 213.4h0M247.0 174.0h0M154.3 216.1h0M183.3 262.3h0M200.0 195.5h0M181.2 244.0h0M197.9 215.8h0M206.0 184.2h0M199.3 251.4h0M167.1 253.0h0M244.5 174.5h0M208.3 247.8h0M196.9 244.7h0M194.9 168.4h0M238.9 187.4h0M207.2 244.9h0M195.1 203.6h0M213.3 191.3h0M236.6 197.4h0M185.2 223.7h0M251.3 155.9h0M197.5 194.2h0M199.3 210.8h0M189.2 237.1h0M158.6 287.6h0M188.4 254.8h0M189.7 170.9h0M210.1 185.3h0M196.4 265.1h0M156.1 340.7h0M243.4 152.2h0M221.0 161.3h0M211.8 237.8h0M214.1 230.6h0M207.6 243.2h0M184.2 289.1h0M204.6 246.4h0M212.1 209.0h0M183.6 274.8h0M202.5 254.8h0M176.5 294.6h0M214.5 231.8h0M206.9 239.7h0M183.2 280.2h0M167.3 243.5h0M220.3 232.3h0M172.7 237.1h0M160.4 233.2h0M235.6 197.5h0M217.5 223.6h0M231.6 187.3h0M179.7 268.4h0M174.0 223.1h0M185.3 222.2h0M210.1 245.3h0M232.1 195.9h0M182.7 271.4h0M195.8 171.1h0M201.8 243.4h0M190.1 154.3h0M216.3 202.7h0M196.9 173.1h0M216.6 225.9h0M252.3 174.4h0M177.9 203.6h0M174.7 209.9h0M226.3 152.4h0M189.8 273.1h0M193.7 234.1h0M198.8 215.0h0M237.3 195.9h0M168.6 279.6h0M217.2 216.5h0M225.5 177.2h0M175.3 227.5h0M175.6 267.9h0M191.4 250.8h0M161.8 303.6h0M242.0 184.5h0M239.7 157.7h0M201.5 254.2h0M204.8 216.0h0M219.5 222.1h0M176.6 235.2h0M216.9 181.6h0M262.4 150.4h0M211.1 241.8h0M209.3 251.0h0M176.6 250.8h0M199.7 193.8h0M203.2 260.8h0M185.5 275.4h0M162.1 272.1h0M170.0 269.3h0M179.3 230.7h0M216.5 226.2h0M172.9 255.2h0M170.0 244.6h0M212.8 201.2h0M194.2 175.3h0M195.1 247.5h0M214.1 202.8h0M240.4 198.4h0M192.7 258.9h0M182.4 208.1h0M174.2 194.0h0M196.8 263.3h0M216.6 237.5h0M179.9 281.6h0M195.9 251.2h0M200.6 252.9h0M228.5 172.0h0M191.2 228.6h0M174.0 265.5h0M220.8 161.4h0M195.5 186.2h0M227.9 220.9h0M171.4 303.5h0M166.6 271.3h0M222.3 193.8h0M236.0 158.3h0M221.3 220.6h0M191.9 263.3h0M218.7 203.1h0M176.9 263.7h0M185.9 242.2h0M197.0 233.2h0M190.4 201.3h0M165.3 261.6h0M224.2 172.8h0M200.7 259.4h0M176.2 303.6h0M218.3 203.6h0M205.9 224.3h0M190.6 250.0h0M186.6 248.5h0M153.2 249.0h0M185.8 269.9h0M165.1 223.0h0M162.6 292.3h0M253.4 162.4h0M220.3 158.2h0M197.1 220.1h0M215.5 157.2h0M175.8 299.1h0M202.9 239.6h0M185.4 202.9h0M169.2 226.7h0M212.5 203.6h0M152.3 231.5h0M166.0 232.4h0M236.4 188.4h0M148.0 249.5h0M234.2 203.4h0M177.9 237.3h0M151.2 246.1h0M196.5 259.5h0M226.7 196.7h0M184.7 242.9h0M212.7 172.6h0M202.5 240.0h0M193.8 242.4h0M215.7 215.6h0M193.3 208.7h0M189.1 157.6h0M190.8 217.1h0M217.8 179.3h0M210.4 228.3h0M240.2 164.8h0M182.2 267.2h0M220.0 226.9h0M177.9 305.9h0M185.4 220.1h0M166.6 209.1h0M219.8 228.0h0M224.8 173.6h0M212.7 236.2h0M191.9 255.1h0M175.4 292.3h0M242.6 162.1h0M199.5 245.2h0M192.9 162.5h0M230.9 152.1h0M145.9 276.3h0M214.0 239.4h0M212.4 230.1h0M203.4 247.5h0M196.5 260.2h0M233.2 201.7h0M181.1 239.1h0M188.1 255.6h0M167.2 315.8h0M212.5 195.1h0M179.7 205.3h0M205.8 161.3h0M227.1 202.1h0M209.6 168.7h0M187.0 237.9h0M204.6 223.9h0M221.3 228.9h0M194.0 259.0h0M176.5 229.0h0M177.7 253.0h0M171.8 266.0h0M214.3 215.5h0M217.3 216.4h0M226.8 209.1h0M193.5 260.9h0M191.2 185.8h0M183.9 247.8h0M184.9 276.6h0M212.5 230.8h0M188.4 260.5h0M248.1 177.9h0M262.0 163.0h0M181.8 216.3h0M229.1 204.0h0M162.7 305.3h0M153.5 219.1h0M203.2 183.1h0M176.6 237.1h0M170.2 247.7h0M188.7 225.9h0M194.2 253.4h0M175.9 246.5h0M231.2 202.4h0M235.2 184.8h0M177.9 243.2h0M205.9 247.5h0M163.4 240.4h0M213.0 223.3h0M162.8 255.2h0M244.8 181.2h0M180.5 287.6h0M217.2 227.5h0M233.8 211.5h0M199.6 245.1h0M191.1 212.6h0M195.2 211.7h0M196.7 246.6h0M256.3 173.0h0M159.1 295.8h0M224.3 171.0h0M212.6 186.6h0M210.8 174.2h0M195.2 264.0h0M158.2 318.9h0M210.3 191.9h0M184.2 280.6h0M170.4 306.6h0M206.2 254.0h0M188.9 261.3h0M175.2 197.0h0M194.6 256.2h0M194.5 194.3h0M216.8 183.9h0M179.9 228.3h0M185.3 226.2h0M232.5 212.8h0M188.3 228.3h0M212.1 193.9h0M191.1 277.4h0M225.4 187.3h0M244.5 189.8h0M230.2 199.8h0M251.9 176.7h0M157.8 335.9h0M151.8 248.1h0M253.9 165.5h0M212.2 245.4h0M232.7 183.7h0M192.9 249.1h0M169.5 261.5h0M191.3 210.5h0M212.7 216.2h0M173.0 216.1h0M148.9 225.1h0M225.1 222.8h0M218.6 237.0h0M155.2 261.5h0M160.4 284.0h0M204.1 193.5h0M193.3 257.3h0M191.1 245.4h0M152.7 277.5h0M159.8 224.4h0M179.6 254.8h0M157.9 246.3h0M193.8 236.1h0M155.7 262.9h0M202.5 187.3h0M221.8 194.5h0M207.3 221.1h0M204.2 202.6h0M198.2 223.2h0M172.5 280.7h0M176.4 296.0h0M209.0 238.5h0M197.1 226.1h0M218.1 197.6h0M157.6 269.0h0M192.1 205.4h0M233.6 162.5h0M189.7 286.1h0M225.8 218.9h0M170.0 303.0h0M165.0 269.1h0M169.7 224.8h0M249.7 182.6h0M161.0 234.8h0M219.1 191.4h0M205.7 246.1h0M207.9 248.4h0M225.5 191.2h0M167.6 285.4h0M218.1 232.1h0M204.3 219.4h0M201.1 200.0h0M205.2 233.7h0M191.3 199.0h0M181.8 265.9h0M179.4 240.8h0M207.6 230.6h0M165.8 280.3h0M208.9 228.3h0M201.5 222.6h0M194.7 277.8h0M213.2 207.6h0M199.8 226.0h0M196.1 267.5h0M205.8 224.9h0M198.7 155.5h0M204.7 228.6h0M222.3 221.8h0M153.0 291.5h0M195.8 261.4h0M177.3 298.8h0M190.4 253.0h0M182.4 239.5h0M197.4 234.5h0M223.0 158.3h0M241.0 178.5h0M169.1 280.5h0M219.4 161.1h0M201.4 210.2h0M208.3 242.5h0M231.7 205.1h0M198.1 265.7h0M188.6 254.1h0M163.7 279.6h0M237.7 170.7h0M200.9 205.3h0M168.6 216.8h0M222.8 166.3h0M207.7 199.1h0M237.8 184.8h0M198.1 259.7h0M177.0 301.7h0M190.9 283.5h0M175.8 292.2h0M189.6 199.7h0M226.1 218.8h0M205.6 224.4h0M160.0 274.0h0M186.6 282.0h0M158.0 327.1h0M200.8 201.4h0M172.3 229.8h0M166.5 309.6h0M207.7 214.2h0M214.9 222.0h0M239.6 200.0h0M163.0 228.1h0M158.7 275.5h0M200.2 250.9h0M239.1 186.5h0M221.0 189.2h0M194.9 176.5h0M167.5 196.4h0M254.4 156.4h0M201.8 214.9h0M194.8 258.3h0M171.0 283.5h0M221.8 206.8h0M168.0 252.8h0M232.6 205.6h0M191.3 233.6h0M216.9 183.4h0M182.1 191.4h0M198.1 266.5h0M156.2 328.7h0M235.5 199.4h0M229.3 195.5h0M164.3 283.7h0M171.1 318.3h0M183.8 271.7h0M167.4 262.9h0M202.9 235.2h0M214.2 236.6h0M239.7 194.6h0M192.6 265.3h0M171.9 259.5h0M246.0 155.2h0M197.8 240.3h0M191.9 153.4h0M173.5 222.1h0M214.1 212.3h0M159.0 321.6h0M216.8 227.4h0M171.3 249.7h0M209.1 216.8h0M230.6 196.6h0M169.1 299.4h0M215.9 183.3h0M159.4 279.2h0M165.6 278.9h0M214.8 238.9h0M207.4 179.3h0M169.2 255.4h0M191.0 264.5h0M212.2 216.6h0M176.3 228.8h0M196.5 207.0h0M175.9 215.0h0M168.9 309.3h0M236.7 158.2h0M188.1 283.5h0M221.7 163.1h0M185.2 262.6h0M162.3 230.2h0M205.9 242.3h0M170.8 227.2h0M217.7 206.2h0M247.9 186.8h0M179.4 289.8h0M207.5 196.2h0M173.8 226.2h0M240.3 190.8h0M227.1 199.0h0M153.2 317.7h0M216.4 239.1h0M205.1 171.5h0M179.1 247.4h0M163.1 269.1h0M191.1 180.7h0M217.9 179.0h0M188.6 195.8h0M204.2 256.9h0M193.9 234.5h0M165.9 245.1h0M172.9 227.7h0M201.4 223.8h0M174.0 267.6h0M173.4 262.7h0M182.8 270.6h0M190.4 217.9h0M215.0 236.6h0M150.7 218.6h0M219.0 166.1h0M258.5 161.0h0M241.2 196.4h0M248.5 171.6h0M201.6 223.0h0M225.0 202.0h0M163.8 285.8h0M161.0 206.0h0M224.7 212.2h0M179.9 270.8h0M248.9 165.4h0M182.3 274.0h0M154.6 288.5h0M169.9 257.7h0M170.7 262.9h0M226.5 186.3h0M189.7 243.5h0M195.3 223.2h0M187.5 233.3h0M204.4 218.5h0M201.9 190.1h0M224.7 190.2h0M208.0 205.8h0M226.8 221.1h0M205.9 205.1h0M209.5 234.4h0M204.8 177.9h0M206.4 243.4h0M180.9 274.8h0M220.4 226.7h0M171.4 211.2h0M166.7 245.0h0M159.2 211.0h0M161.2 249.4h0M172.2 248.0h0M154.5 256.4h0M202.7 178.9h0M193.3 240.4h0M163.1 288.4h0M190.4 164.3h0M233.2 192.6h0M199.0 232.8h0M187.7 258.7h0M227.4 184.7h0M234.0 177.5h0M185.1 258.0h0M214.9 211.8h0M225.2 224.6h0M226.5 183.3h0M199.5 236.5h0M201.1 256.2h0M158.6 252.7h0M179.5 262.6h0M211.4 213.6h0M186.7 249.9h0M210.6 215.3h0M224.5 203.6h0M213.6 208.8h0M203.7 209.2h0M199.1 181.6h0M216.1 211.7h0M209.6 167.9h0M199.2 227.5h0M230.9 207.6h0M199.8 257.1h0M249.9 153.6h0M246.1 151.6h0M174.4 284.4h0M177.6 243.5h0M185.0 251.0h0M207.4 220.6h0M195.9 256.1h0M258.1 167.9h0M183.1 236.4h0M204.1 176.3h0M183.2 290.3h0M152.6 260.3h0M198.4 246.4h0M196.0 228.8h0M175.7 253.3h0M221.3 226.9h0M260.1 153.1h0M152.4 256.8h0M167.0 321.8h0M161.3 248.5h0M227.6 200.5h0M238.1 202.4h0M189.8 268.3h0M214.9 214.2h0M182.8 289.2h0M205.6 251.4h0M207.6 234.2h0M207.4 223.9h0M169.4 236.8h0M236.2 153.5h0M221.5 228.1h0M219.1 167.8h0M205.8 235.7h0M188.2 228.2h0M190.8 260.0h0M161.2 251.8h0M168.4 246.4h0M194.3 171.1h0M166.7 302.2h0M173.4 217.4h0M224.4 176.4h0M190.2 155.5h0M225.8 216.9h0M194.8 247.3h0M198.9 215.2h0M154.9 226.2h0M235.2 178.5h0M156.1 307.5h0M243.7 176.2h0M195.0 220.8h0M181.8 244.4h0M178.8 276.0h0M243.1 171.9h0M190.1 254.2h0M202.2 216.1h0M182.0 222.8h0M174.1 274.9h0M207.0 221.1h0M170.5 267.2h0M222.7 230.7h0M196.2 219.5h0M239.8 183.4h0M180.1 214.2h0M194.8 222.9h0M188.8 276.1h0M213.2 246.1h0M185.6 215.0h0M191.0 268.3h0M214.6 209.1h0M177.5 210.5h0M246.7 186.5h0M226.2 217.5h0M176.1 293.0h0M172.2 266.1h0M195.6 268.3h0M243.5 185.4h0M171.2 203.0h0M184.6 276.5h0M194.1 238.4h0M218.8 200.6h0M197.8 186.7h0M203.6 217.9h0M154.7 214.8h0M198.4 150.5h0M181.1 263.4h0M194.4 242.3h0M197.9 204.7h0M240.7 164.1h0M160.8 271.4h0M214.2 244.5h0M165.5 254.4h0M178.7 241.6h0M171.7 209.4h0M190.1 230.2h0M221.0 162.8h0M224.8 226.6h0M217.5 227.5h0M230.0 172.5h0M184.6 215.4h0M206.8 227.4h0M194.3 270.0h0M196.0 249.6h0M226.8 216.4h0M207.6 251.9h0M196.8 215.4h0M232.1 187.6h0M159.1 208.7h0M170.1 227.9h0M156.9 307.2h0M182.3 234.4h0M226.3 212.8h0M161.6 270.5h0M205.3 231.8h0M167.6 256.8h0M166.6 218.3h0M176.6 282.5h0M176.2 266.4h0M214.0 164.2h0M229.8 205.5h0M160.0 227.6h0M185.1 284.3h0M168.1 261.2h0M193.3 238.8h0M196.6 233.4h0M195.9 190.4h0M184.1 202.1h0M195.0 222.8h0M217.6 207.9h0M230.8 187.9h0M222.7 176.1h0M187.5 198.6h0M207.5 249.4h0M231.6 204.6h0M158.8 236.6h0M207.6 234.8h0M160.7 234.6h0M231.8 174.1h0M182.4 261.1h0M192.0 164.8h0M179.1 236.4h0M237.8 183.4h0M186.0 260.8h0M175.8 212.6h0M228.0 178.3h0M177.2 281.0h0M212.5 198.8h0M196.9 229.1h0M191.4 208.4h0M235.4 198.6h0M222.1 162.8h0M179.5 229.2h0M167.9 303.9h0M221.8 227.0h0M156.1 296.5h0M217.8 180.3h0M202.1 242.4h0M188.6 276.7h0M174.6 222.8h0M168.6 233.0h0M221.4 165.5h0M201.0 154.8h0M210.7 216.2h0M221.2 175.1h0M206.5 166.0h0M164.3 265.0h0M255.5 173.7h0M207.3 231.4h0M204.2 208.1h0M217.4 236.6h0M172.5 265.7h0M165.3 315.8h0M213.8 187.7h0M254.3 168.6h0M184.4 272.9h0M178.2 259.9h0M228.5 194.5h0M212.3 238.8h0M190.3 230.4h0M226.1 174.2h0M200.0 205.5h0M157.0 315.2h0M186.3 290.9h0M147.6 247.8h0M229.4 195.3h0M200.2 221.5h0M216.4 196.9h0M201.2 203.4h0M186.8 280.1h0M242.1 196.3h0M216.0 156.8h0M181.0 257.2h0M197.0 187.3h0M163.9 233.9h0M186.0 199.5h0M201.1 228.0h0M236.6 171.3h0M234.3 152.7h0M175.4 268.2h0M183.7 289.5h0M167.8 229.7h0M164.9 243.4h0M209.1 218.0h0M255.7 164.6h0M163.3 225.4h0M216.5 240.9h0M177.8 264.1h0M156.2 285.3h0M218.3 234.9h0M220.7 186.7h0M156.1 279.2h0M232.0 202.9h0M221.2 189.9h0M172.7 258.4h0M189.7 232.3h0M149.9 231.3h0M190.8 254.0h0M219.6 219.8h0M214.5 231.8h0M197.2 262.5h0M153.6 234.9h0M190.3 262.1h0M197.3 261.1h0M211.8 229.3h0M215.1 236.7h0M158.9 233.7h0M160.0 269.4h0M188.0 275.5h0M226.5 204.0h0M166.6 231.3h0M182.7 263.0h0M182.4 190.9h0M197.5 185.8h0M198.5 253.0h0M240.6 195.4h0M196.0 268.5h0M185.4 241.7h0M239.1 157.8h0M205.5 254.2h0M187.1 256.9h0M174.4 216.4h0M219.9 208.1h0M217.9 229.6h0M226.8 198.0h0M211.7 238.7h0M192.7 242.3h0M224.6 200.5h0M194.6 269.1h0M201.7 265.2h0M194.8 234.4h0M160.0 211.9h0M194.1 271.0h0M252.4 150.2h0M177.4 233.4h0M154.4 293.3h0M190.3 278.0h0M189.8 215.1h0M197.0 234.6h0M170.5 231.3h0M198.3 151.5h0M156.6 305.2h0M198.9 255.7h0M185.9 207.4h0M222.0 215.7h0M180.4 240.1h0M183.1 241.8h0M193.8 277.4h0M168.0 238.4h0M231.2 157.9h0M172.9 271.9h0M187.5 241.4h0M162.6 258.8h0M184.6 276.8h0M205.7 222.4h0M178.2 264.5h0M206.0 230.9h0M218.1 198.4h0M208.9 184.2h0M188.6 196.6h0M170.7 268.7h0M211.3 237.2h0M206.0 245.8h0M199.5 253.8h0M229.3 153.5h0M238.5 198.3h0M168.5 257.2h0M189.3 224.3h0M191.6 160.4h0M189.3 262.9h0M167.9 267.5h0M183.5 261.0h0M221.7 156.5h0M194.1 279.3h0M207.0 215.7h0M177.9 262.1h0M237.7 189.9h0M191.8 202.6h0M209.5 240.5h0M256.5 150.1h0M212.9 203.0h0M177.6 269.4h0M157.8 259.6h0M224.1 183.9h0M154.6 273.7h0M172.7 208.0h0M237.0 203.3h0M200.9 252.2h0M174.7 250.5h0M220.9 224.4h0M233.2 200.1h0M172.9 260.3h0M181.9 249.8h0M198.4 240.8h0M213.5 214.1h0M160.1 282.3h0M181.8 199.7h0M250.3 178.1h0M168.2 251.0h0M207.2 239.8h0M190.3 214.2h0M182.6 242.9h0M222.1 225.3h0M239.7 200.9h0M192.3 204.5h0M243.3 164.9h0M159.3 229.1h0M207.4 153.9h0M203.7 193.0h0M170.6 194.3h0M209.3 213.2h0M230.8 179.1h0M205.2 186.5h0M164.1 300.9h0M254.4 163.2h0M240.9 160.5h0M177.4 265.4h0M194.0 200.5h0M187.1 248.4h0M154.8 248.0h0M215.9 224.8h0M199.6 268.4h0M171.6 313.0h0M196.9 227.0h0M194.7 229.4h0M170.4 275.6h0M168.4 315.5h0M150.3 294.9h0M179.4 269.0h0M235.1 203.4h0M168.0 310.8h0M151.9 276.0h0M156.2 252.8h0M178.4 240.7h0M170.9 246.5h0M160.9 313.1h0M221.2 208.2h0M206.8 222.2h0M177.9 237.8h0M190.6 241.0h0M219.9 189.2h0M180.2 196.4h0M200.1 153.5h0M198.8 254.5h0M190.9 264.1h0M204.7 257.0h0M229.2 214.5h0M168.6 232.6h0M170.8 291.6h0M224.2 194.0h0M251.4 177.1h0M199.7 234.3h0M193.3 250.1h0M213.9 239.8h0M231.4 155.5h0M206.6 222.5h0M205.7 229.3h0M167.7 194.1h0M201.2 237.5h0M193.1 213.9h0M214.4 239.2h0M167.0 258.6h0M218.2 206.1h0M182.0 236.0h0M228.2 156.6h0M183.0 237.6h0M227.5 209.6h0M164.9 306.4h0M207.4 237.7h0M175.4 299.9h0M219.8 220.1h0M191.7 213.2h0M196.4 246.9h0M221.5 195.8h0M184.8 285.1h0M204.8 255.3h0M168.9 273.8h0M195.3 215.9h0M207.4 246.9h0M190.7 268.1h0M233.2 189.2h0M203.9 259.6h0M230.6 192.9h0M154.9 292.8h0M220.3 179.9h0M227.6 210.9h0M182.9 234.5h0M170.2 294.9h0M253.3 163.5h0M184.5 202.5h0M164.3 214.9h0M161.7 247.0h0M241.3 168.0h0M151.7 302.5h0M208.5 249.5h0M169.6 198.8h0M225.7 167.4h0M227.5 221.6h0M186.8 237.0h0M201.7 213.4h0M219.7 219.8h0M223.3 203.4h0M194.7 273.8h0M218.1 237.1h0M219.4 177.0h0M168.0 263.6h0M236.5 195.6h0M173.0 265.0h0M198.8 267.0h0M170.4 252.3h0M204.6 250.4h0M176.8 237.4h0M177.7 219.2h0M186.5 250.4h0M213.6 224.3h0M235.3 209.3h0M179.8 295.3h0M170.5 293.3h0M225.8 168.1h0M160.1 275.9h0M198.7 151.0h0M148.6 274.5h0M160.3 281.2h0M231.8 203.3h0M225.6 188.9h0M170.2 293.1h0M192.8 237.6h0M181.2 259.7h0M191.8 187.2h0M184.5 245.2h0M212.0 248.7h0M166.9 299.5h0M241.5 153.1h0M215.0 209.7h0M228.1 154.0h0M214.3 207.3h0M232.8 203.9h0M174.5 276.3h0M197.9 194.9h0M218.4 221.0h0M215.8 163.2h0M221.7 158.6h0M211.1 192.9h0M222.4 215.5h0M226.1 222.7h0M213.0 166.7h0M209.1 210.6h0M195.1 222.2h0M190.1 272.7h0M149.0 273.0h0M181.1 231.6h0M152.6 56.6h0M174.2 87.6h0M186.2 88.8h0M135.2 99.2h0M144.8 100.4h0M172.0 96.8h0M187.0 97.6h0M177.6 102.0h0M181.2 107.0h0M186.8 106.4h0M157.6 107.4h0M175.6 111.0h0M185.4 113.6h0M170.0 119.2h0M174.8 124.0h0M146.0 124.0h0M116.8 126.0h0M129.6 129.2h0M161.8 127.6h0M168.0 129.8h0M178.6 130.2h0M187.4 124.0h0M291.4 28.4h0M255.2 47.0h0M274.0 54.6h0M311.8 55.4h0M216.6 61.2h0M306.8 64.8h0M308.8 71.0h0M261.2 71.6h0M290.4 72.6h0M232.2 74.0h0M240.2 74.0h0M248.4 78.0h0M200.4 79.0h0M304.6 81.0h0M308.4 84.6h0M197.8 86.0h0M255.6 86.4h0M248.2 87.6h0M241.8 87.2h0M291.6 88.4h0M278.0 88.4h0M214.0 87.4h0M270.2 91.0h0M302.4 91.0h0M321.6 61.0h0M275.3 142.4h0M272.2 146.4h0M270.3 148.3h0M268.6 151.8h0M267.3 153.9h0M266.7 156.1h0M266.7 158.3h0M264.7 160.5h0M262.5 161.7h0M259.7 166.0h0M259.6 168.4h0M257.3 171.7h0M254.9 173.7h0M255.4 175.7h0M253.4 177.5h0M253.4 179.7h0M250.8 182.4h0M249.4 186.2h0M246.9 188.0h0M246.7 190.4h0M245.2 192.1h0M243.3 193.9h0M242.7 197.9h0M241.9 200.1h0M239.8 202.1h0M237.1 205.7h0M235.8 207.6h0M236.0 209.7h0M234.1 211.8h0M233.4 214.2h0M230.4 216.3h0M231.2 218.4h0M229.1 219.6h0M227.1 222.4h0M226.4 226.1h0M224.4 227.9h0M222.9 229.7h0M220.8 232.4h0M219.1 236.3h0M217.2 237.9h0M216.0 239.6h0M217.1 242.2h0M214.6 244.0h0M212.7 248.2h0M210.9 250.0h0M210.7 252.4h0M208.1 254.4h0M206.5 256.3h0M205.2 260.3h0M203.0 262.1h0M203.7 264.0h0M202.4 265.7h0M199.9 267.9h0M198.7 269.8h0M199.4 272.1h0M196.7 273.8h0M197.0 275.9h0M195.9 278.0h0M193.6 280.4h0M191.0 284.4h0M189.8 286.4h0M187.8 287.9h0M187.7 290.5h0M185.9 292.3h0M184.4 296.5h0M182.5 297.9h0M181.1 299.6h0M179.9 302.4h0M178.5 306.0h0M177.3 308.2h0M175.4 310.5h0M173.8 313.7h0M171.3 315.9h0M171.8 318.3h0M169.8 322.3h0M168.5 324.0h0M164.1 327.5h0M163.5 329.7h0M162.1 332.1h0M160.6 334.1h0M159.7 336.2h0M158.2 337.8h0M159.2 340.0h0M157.7 342.2h0M156.1 343.7h0M154.8 345.5h0M241.4 137.5h0M231.5 135.3h0M194.7 136.4h0M248.5 145.8h0M235.4 141.9h0M236.9 137.4h0M196.8 142.5h0M216.5 137.3h0M211.6 145.4h0M245.5 141.7h0M228.3 140.7h0M239.2 139.5h0M216.0 144.5h0M202.9 140.4h0M222.8 136.3h0M239.5 149.4h0M227.5 148.6h0M235.2 145.5h0M210.6 139.0h0M248.2 149.5h0M243.5 146.7h0M200.9 141.7h0M217.5 139.1h0M191.7 136.4h0M198.4 148.5h0M230.7 141.8h0M234.4 138.0h0M248.0 139.6h0M208.9 143.7h0M217.6 147.8h0M200.6 146.4h0M196.9 145.8h0M218.0 141.5h0M202.8 144.4h0M229.9 143.8h0M208.1 135.6h0M239.8 142.4h0M212.6 137.2h0M197.5 137.6h0M201.2 148.9h0M189.4 143.7h0M237.0 140.2h0M236.6 149.4h0M223.7 146.7h0M223.5 143.6h0M222.8 140.0h0M207.5 141.6h0M215.6 147.4h0M203.3 136.6h0M192.6 145.1h0M206.2 139.2h0M206.9 144.9h0M229.4 145.9h0M229.5 148.7h0M238.7 135.6h0M268.3 139.7h0M266.1 149.6h0M260.4 137.2h0M252.8 135.2h0M269.9 138.0h0M256.0 137.0h0M265.2 139.5h0M257.7 142.3h0M259.7 149.3h0M160.7 164.2h0M176.1 167.2h0M178.4 179.7h0M163.1 181.6h0M164.1 165.6h0M172.2 171.2h0M188.0 188.4h0M177.3 146.2h0M187.1 146.1h0M183.3 144.6h0M173.6 174.2h0M182.8 161.8h0M160.5 180.3h0M163.2 174.9h0M184.1 157.3h0M183.1 186.7h0M166.7 179.7h0M175.4 154.1h0M177.6 158.9h0M177.5 148.2h0M172.0 147.7h0M170.9 188.7h0M172.4 162.8h0M185.2 177.9h0M173.2 168.8h0M167.2 188.7h0M181.6 164.9h0M183.7 159.6h0M163.1 191.3h0M161.9 177.3h0M177.2 189.5h0M164.2 146.2h0M183.9 184.2h0M169.0 173.1h0M186.7 170.6h0M168.3 140.6h0M164.5 163.6h0M160.6 155.4h0M169.2 191.8h0M174.6 185.7h0M185.4 154.8h0M161.3 145.5h0M165.3 192.0h0M166.9 174.6h0M172.1 186.6h0M161.4 141.5h0M170.8 152.5h0M175.2 147.4h0M184.2 150.3h0M161.5 187.4h0M186.8 174.1h0M184.5 140.3h0M186.2 142.7h0M183.3 181.7h0M182.6 152.4h0M178.6 184.2h0M175.5 188.2h0M174.9 180.1h0M173.4 183.6h0M171.2 142.1h0M178.5 150.5h0M167.7 146.5h0M166.7 184.3h0M170.6 178.2h0M169.5 150.0h0M179.9 176.9h0M175.4 149.5h0M168.4 163.8h0M181.3 180.8h0M180.1 169.8h0M185.0 147.5h0M163.8 189.2h0M177.8 155.7h0M162.8 170.1h0M187.8 166.4h0M177.2 164.7h0M187.4 154.5h0M167.3 155.8h0M177.1 162.3h0M177.9 173.0h0M165.0 161.4h0M176.6 151.3h0M143.6 178.3h0M150.1 168.1h0M146.8 187.7h0M152.7 166.5h0M152.6 172.6h0M154.9 174.0h0M154.0 169.7h0M148.4 185.1h0M156.4 165.4h0M152.3 187.3h0M150.3 188.1h0M151.7 181.2h0M155.5 168.2h0M158.1 174.9h0M158.7 190.9h0M151.6 191.9h0M157.2 184.0h0M198.5 89.5h0M199.0 92.5h0M213.5 89.8h0M220.5 91.5h0M236.0 91.0h0M242.0 89.5h0M232.0 96.0h0M189.5 98.0h0M196.5 99.5h0M193.5 102.0h0M246.5 101.5h0M191.0 107.5h0M196.5 108.0h0M233.0 106.0h0M227.5 109.0h0M220.0 111.5h0M224.0 113.5h0M249.0 110.0h0M238.0 114.0h0M235.0 117.5h0M243.5 117.0h0M247.0 117.0h0M250.0 121.0h0M211.5 121.5h0M190.5 123.5h0M220.0 125.0h0M227.5 122.5h0M238.5 122.5h0M213.5 127.5h0M197.5 128.0h0M225.0 127.0h0M233.5 126.0h0M241.5 129.0h0M233.0 130.0h0M250.0 131.0h0M202.0 132.0h0M205.5 136.0h0M225.0 132.0h0M226.0 136.0h0M235.0 135.0h0M193.0 142.0h0M212.0 141.0h0M249.0 142.0h0M209.0 147.0h0M233.0 146.0h0M237.0 147.0h0M282.0 94.0h0M260.0 95.8h0M273.5 101.0h0M266.5 105.0h0M259.0 108.0h0M278.0 106.0h0M286.5 104.0h0M292.0 106.5h0M283.0 108.5h0M276.5 112.5h0M255.0 111.5h0M254.0 115.0h0M279.0 120.0h0M267.0 118.0h0M260.0 120.0h0M254.0 121.0h0M268.0 122.5h0M257.0 124.0h0M263.0 126.0h0M252.0 128.0h0M272.0 128.0h0M278.0 127.0h0M283.0 129.0h0M264.0 132.0h0M274.0 132.0h0M280.0 133.0h0M268.0 136.0h0M276.0 138.0h0M255.0 139.0h0M270.0 142.0h0M253.0 144.0h0M257.0 146.0h0M264.0 145.0h0M274.0 148.0h0M116.8 141.0h0M103.2 168.7h0M122.0 190.0h0M154.0 134.0h0M162.0 131.0h0M168.0 132.0h0M187.0 133.5h0M157.5 139.5h0M164.0 140.5h0M169.0 137.5h0M150.0 143.0h0M157.0 146.5h0M173.0 145.0h0M179.0 144.0h0M141.0 148.0h0M152.5 151.5h0M167.0 151.0h0M181.0 150.0h0M140.5 155.0h0M144.5 156.5h0M151.0 156.0h0M156.0 161.0h0M163.0 160.0h0M174.0 161.0h0M187.0 163.0h0M144.5 165.5h0M129.5 170.5h0M141.0 171.5h0M157.0 170.0h0M180.0 172.0h0M149.0 177.0h0M164.0 179.0h0M177.0 176.0h0M183.0 175.0h0M187.0 177.0h0M136.0 187.0h0M141.0 182.0h0M144.0 185.0h0M157.0 182.0h0M160.0 186.0h0M187.0 186.0h0M147.0 190.0h0M183.0 190.0h0M92.6 193.4h0M115.6 206.0h0M113.0 210.0h0M112.0 214.0h0M123.0 203.0h0M125.0 205.0h0M120.0 220.0h0M126.0 223.0h0M127.0 216.0h0M114.4 231.4h0M122.4 235.0h0M118.0 243.0h0M120.0 246.0h0M124.0 242.0h0M122.0 248.0h0M126.0 242.0h0M123.4 257.6h0M94.0 260.8h0M117.0 264.4h0M120.6 265.6h0M119.0 271.4h0M126.6 268.0h0M91.0 272.4h0M109.4 285.4h0M123.0 293.6h0M98.6 301.6h0M122.4 305.0h0M97.6 310.0h0M104.6 310.4h0M136.5 190.5h0M143.0 191.5h0M131.0 198.0h0M128.5 206.0h0M136.5 207.5h0M142.0 203.0h0M147.0 206.0h0M149.0 199.5h0M155.0 196.0h0M159.0 201.0h0M129.0 215.5h0M128.0 223.0h0M146.0 217.0h0M145.0 222.0h0M150.0 216.0h0M131.0 233.0h0M137.0 230.0h0M140.0 237.0h0M130.0 244.0h0M136.0 241.0h0M143.0 232.0h0M147.0 230.0h0M144.0 243.0h0M140.0 250.0h0M148.0 250.0h0M132.5 258.5h0M139.0 254.0h0M144.0 256.0h0M130.0 266.0h0M136.0 271.0h0M131.0 277.5h0M142.0 264.0h0M142.0 277.0h0M147.0 272.0h0M148.0 282.0h0M132.0 290.5h0M133.0 294.0h0M144.0 294.0h0M146.0 290.0h0M139.0 301.5h0M130.5 306.5h0M136.0 312.0h0M146.0 304.0h0M150.0 308.0h0M152.0 312.0h0M153.0 292.0h0M156.0 300.0h0M160.0 312.0h0M142.2 281.1h0M147.9 284.0h0M150.7 290.2h0M129.3 316.7h0M150.7 303.7h0M145.1 309.4h0M148.5 310.5h0M138.3 317.3h0M137.2 321.8h0M141.7 319.5h0M146.2 318.4h0M149.6 317.3h0M154.1 317.3h0M135.5 330.8h0M139.4 328.5h0M143.9 327.4h0M149.6 325.2h0M153.0 327.4h0M156.4 322.9h0M127.6 329.7h0M145.1 334.2h0M149.6 333.1h0M155.2 330.8h0M159.7 329.7h0M141.7 341.0h0M147.3 338.7h0M151.8 339.8h0M160.9 338.7h0M141.7 346.6h0M150.7 344.4h0M78.0 337.6h0M104.4 330.6h0M112.2 340.6h0M123.0 319.4h0M118.6 325.0h0M124.0 329.0h0M126.2 334.4h0M135.0 322.0h0M137.0 328.0h0M145.0 322.0h0M140.0 332.0h0M159.0 322.0h0M165.0 318.0h0M156.0 333.0h0M145.0 338.0h0M146.0 350.0h0M154.0 351.0h0M123.0 354.0h0M122.0 358.0h0M133.0 356.0h0M136.0 363.6h0M142.0 363.6h0M105.6 370.6h0M140.2 372.4h0M134.0 377.0h0M135.0 381.0h0M123.0 379.0h0M121.6 381.0h0M100.6 400.6h0M112.6 398.6h0" stroke="#004c98" stroke-width="6" stroke-linecap="round" fill="none"/>
<rect x="65.5" y="8.5" width="608.0" height="544.0" fill="none" stroke="#6b6b6b" stroke-width="1"/>
<path d="M166.8 552.5v-6M166.8 8.5v6M268.2 552.5v-6M268.2 8.5v6M369.5 552.5v-6M369.5 8.5v6M470.8 552.5v-6M470.8 8.5v6M572.1 552.5v-6M572.1 8.5v6M65.5 492.0h6M673.5 492.0h-6M65.5 431.6h6M673.5 431.6h-6M65.5 371.1h6M673.5 371.1h-6M65.5 310.7h6M673.5 310.7h-6M65.5 250.3h6M673.5 250.3h-6M65.5 189.8h6M673.5 189.8h-6M65.5 129.4h6M673.5 129.4h-6M65.5 68.9h6M673.5 68.9h-6" stroke="#6b6b6b" stroke-width="1" fill="none"/>
<g font-size="22.3" fill="#262626">
<text transform="translate(65.50,582.8) scale(1,1.08)" text-anchor="middle">10</text><text transform="translate(166.83,582.8) scale(1,1.08)" text-anchor="middle">20</text><text transform="translate(268.16,582.8) scale(1,1.08)" text-anchor="middle">30</text><text transform="translate(369.49,582.8) scale(1,1.08)" text-anchor="middle">40</text><text transform="translate(470.82,582.8) scale(1,1.08)" text-anchor="middle">50</text><text transform="translate(572.15,582.8) scale(1,1.08)" text-anchor="middle">60</text><text transform="translate(673.48,582.8) scale(1,1.08)" text-anchor="middle">70</text>
<text transform="translate(56.3,560.76) scale(1,1.08)" text-anchor="end">0.4</text><text transform="translate(56.3,500.32) scale(1,1.08)" text-anchor="end">0.6</text><text transform="translate(56.3,439.88) scale(1,1.08)" text-anchor="end">0.8</text><text transform="translate(56.3,379.44) scale(1,1.08)" text-anchor="end">1</text><text transform="translate(56.3,319.00) scale(1,1.08)" text-anchor="end">1.2</text><text transform="translate(56.3,258.56) scale(1,1.08)" text-anchor="end">1.4</text><text transform="translate(56.3,198.12) scale(1,1.08)" text-anchor="end">1.6</text><text transform="translate(56.3,137.68) scale(1,1.08)" text-anchor="end">1.8</text><text transform="translate(56.3,77.24) scale(1,1.08)" text-anchor="end">2</text><text transform="translate(56.3,16.80) scale(1,1.08)" text-anchor="end">2.2</text>
</g>
<g font-size="24.75" fill="#262626">
<text transform="translate(369.5,613.1) scale(1,1.07)" text-anchor="middle">Concrete Compressive Strenght fc28 (MPa)</text>
<text transform="translate(17.8,280.5) rotate(-90)" text-anchor="middle">PGA (m/s<tspan font-size="14" dy="-9.5">2</tspan><tspan dy="9.5">)</tspan></text>
</g>
<g font-size="22.3" fill="#000">
<path d="M550.7 42h0" stroke="#7aac30" stroke-width="5.6" stroke-linecap="round"/>
<path d="M550.7 69h0" stroke="#004c98" stroke-width="5.6" stroke-linecap="round"/>
<text transform="translate(582.9,50.9) scale(1,1.04)">G&gt;0</text>
<text transform="translate(582.9,77.9) scale(1,1.04)">G&lt;0</text>
</g>
</svg>
</body></html>
